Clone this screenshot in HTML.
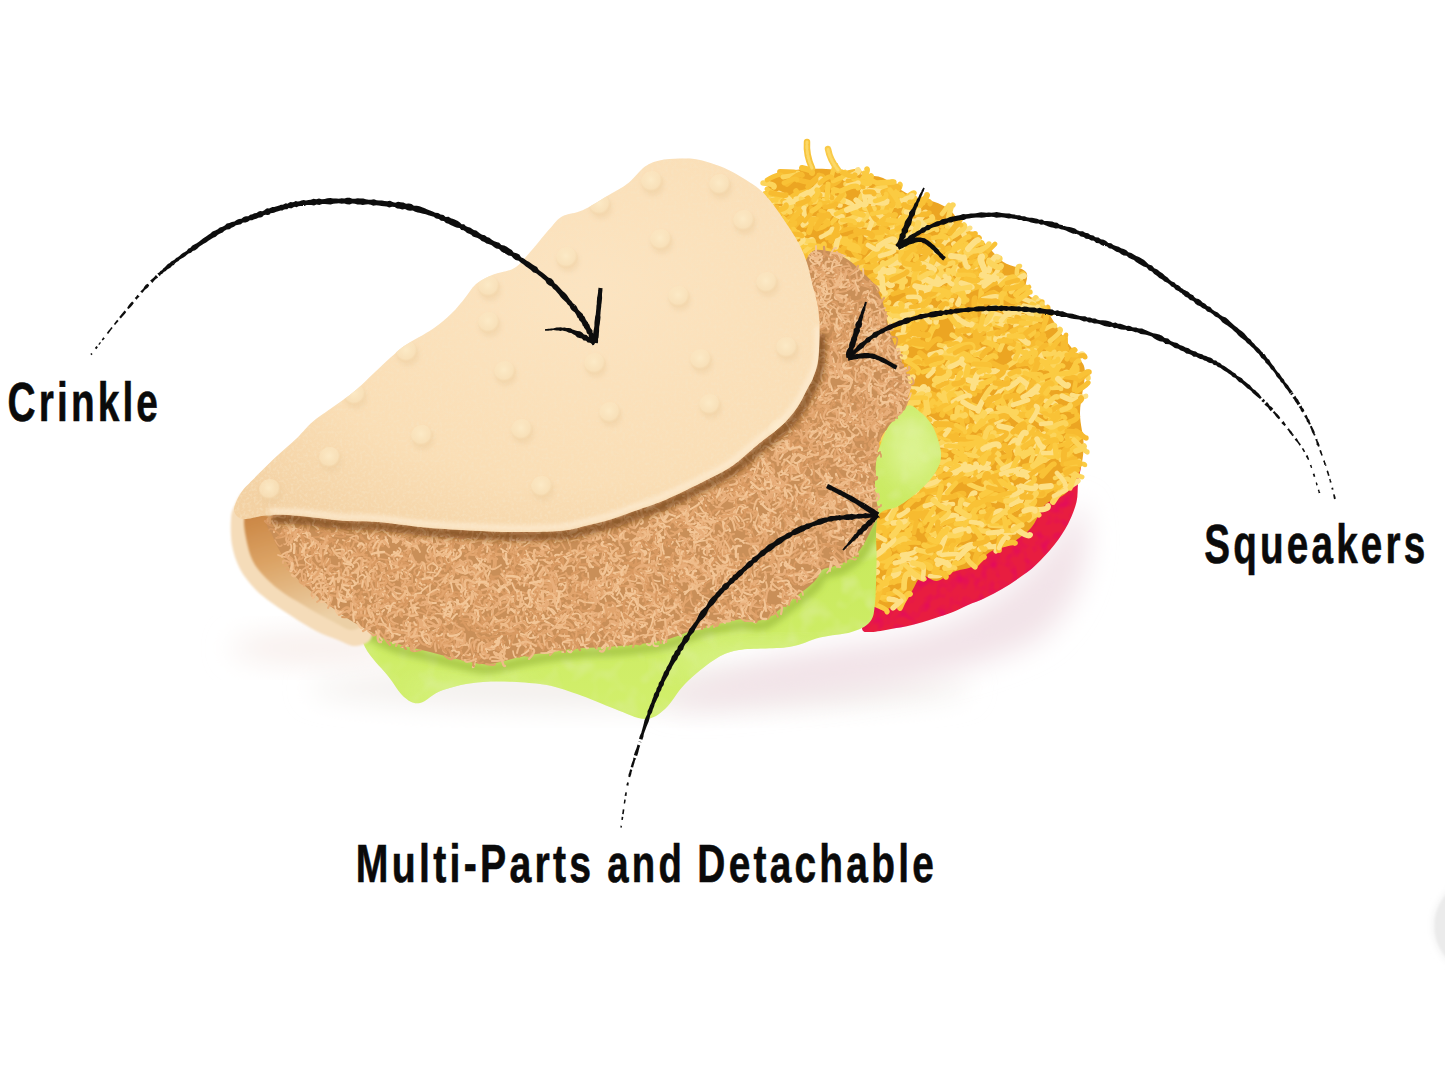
<!DOCTYPE html>
<html>
<head>
<meta charset="utf-8">
<style>
html,body{margin:0;padding:0;background:#fff;width:1445px;height:1066px;overflow:hidden}
svg{display:block;position:absolute;left:0;top:0}
</style>
</head>
<body>
<svg width="1445" height="1066" viewBox="0 0 1445 1066">
<defs>
  <filter id="blur2" x="-20%" y="-20%" width="140%" height="140%"><feGaussianBlur stdDeviation="2"/></filter>
  <filter id="blur3" x="-20%" y="-20%" width="140%" height="140%"><feGaussianBlur stdDeviation="3"/></filter>
  <filter id="soft" x="-5%" y="-5%" width="110%" height="110%"><feGaussianBlur stdDeviation="0.8"/></filter>
  <filter id="blur8" x="-30%" y="-50%" width="160%" height="200%"><feGaussianBlur stdDeviation="14"/></filter>
  <filter id="rough" x="-5%" y="-5%" width="110%" height="110%">
    <feTurbulence type="fractalNoise" baseFrequency="0.9" numOctaves="1" seed="2" result="n"/>
    <feDisplacementMap in="SourceGraphic" in2="n" scale="1.6" xChannelSelector="R" yChannelSelector="G"/>
  </filter>
  <filter id="pattyTex" x="0" y="0" width="100%" height="100%">
    <feTurbulence type="turbulence" baseFrequency="0.07 0.05" numOctaves="3" seed="7" result="n"/>
    <feColorMatrix in="n" type="matrix" values="0 0 0 0 0.56  0 0 0 0 0.33  0 0 0 0 0.13  2.2 0 0 0 -0.35" result="dark"/>
    <feTurbulence type="turbulence" baseFrequency="0.09 0.07" numOctaves="2" seed="19" result="n2"/>
    <feColorMatrix in="n2" type="matrix" values="0 0 0 0 0.89  0 0 0 0 0.68  0 0 0 0 0.44  2.0 0 0 0 -0.45" result="light"/>
    <feMerge result="m"><feMergeNode in="dark"/><feMergeNode in="light"/></feMerge>
    <feComposite in="m" in2="SourceAlpha" operator="in"/>
  </filter>
  <filter id="friesTex" x="0" y="0" width="100%" height="100%">
    <feTurbulence type="turbulence" baseFrequency="0.09 0.06" numOctaves="2" seed="11" result="n"/>
    <feColorMatrix in="n" type="matrix" values="0 0 0 0 0.90  0 0 0 0 0.62  0 0 0 0 0.10  2.0 0 0 0 -0.35" result="dark"/>
    <feTurbulence type="turbulence" baseFrequency="0.10 0.07" numOctaves="2" seed="23" result="n2"/>
    <feColorMatrix in="n2" type="matrix" values="0 0 0 0 0.99  0 0 0 0 0.88  0 0 0 0 0.55  2.2 0 0 0 -0.45" result="light"/>
    <feMerge result="m"><feMergeNode in="dark"/><feMergeNode in="light"/></feMerge>
    <feComposite in="m" in2="SourceAlpha" operator="in"/>
  </filter>
  <filter id="letTex" x="0" y="0" width="100%" height="100%">
    <feTurbulence type="fractalNoise" baseFrequency="0.05" numOctaves="2" seed="5" result="n"/>
    <feColorMatrix in="n" type="matrix" values="0 0 0 0 0.70  0 0 0 0 0.85  0 0 0 0 0.30  1.6 0 0 0 -0.75" result="c"/>
    <feComposite in="c" in2="SourceAlpha" operator="in"/>
  </filter>
  <filter id="redTex" x="0" y="0" width="100%" height="100%">
    <feTurbulence type="fractalNoise" baseFrequency="0.08" numOctaves="2" seed="9" result="n"/>
    <feColorMatrix in="n" type="matrix" values="0 0 0 0 0.75  0 0 0 0 0.0  0 0 0 0 0.15  1.6 0 0 0 -0.7" result="c"/>
    <feComposite in="c" in2="SourceAlpha" operator="in"/>
  </filter>
  <radialGradient id="flapG" cx="0.6" cy="0.35" r="0.8">
    <stop offset="0" stop-color="#fce4c1"/>
    <stop offset="0.65" stop-color="#fadeb5"/>
    <stop offset="1" stop-color="#f3d1a3"/>
  </radialGradient>
  <filter id="fabric" x="0" y="0" width="100%" height="100%">
    <feTurbulence type="fractalNoise" baseFrequency="0.35" numOctaves="2" seed="4" result="n"/>
    <feColorMatrix in="n" type="matrix" values="0 0 0 0 0.93  0 0 0 0 0.78  0 0 0 0 0.55  1.4 0 0 0 -0.62" result="c"/>
    <feComposite in="c" in2="SourceAlpha" operator="in"/>
  </filter>
  <radialGradient id="bumpG" cx="0.45" cy="0.4" r="0.6">
    <stop offset="0" stop-color="#fdecc9" stop-opacity="0.9"/>
    <stop offset="0.7" stop-color="#fbe6c0" stop-opacity="0.6"/>
    <stop offset="1" stop-color="#ecc996" stop-opacity="0.0"/>
  </radialGradient>
  <clipPath id="letClip"><path d="M356.0,621.0 C354.7,626.8 359.7,634.3 362.0,640.0 C364.3,645.7 365.7,649.0 370.0,655.0 C374.3,661.0 382.3,669.0 388.0,676.0 C393.7,683.0 398.7,692.5 404.0,697.0 C409.3,701.5 413.5,704.2 420.0,703.0 C426.5,701.8 432.5,693.5 443.0,690.0 C453.5,686.5 466.8,683.0 483.0,682.0 C499.2,681.0 524.3,682.0 540.0,684.0 C555.7,686.0 564.5,689.8 577.0,694.0 C589.5,698.2 603.7,704.8 615.0,709.0 C626.3,713.2 636.7,719.0 645.0,719.0 C653.3,719.0 658.3,714.8 665.0,709.0 C671.7,703.2 676.8,692.2 685.0,684.0 C693.2,675.8 705.0,665.7 714.0,660.0 C723.0,654.3 726.5,652.2 739.0,650.0 C751.5,647.8 775.5,649.1 789.0,647.0 C802.5,644.9 809.6,640.0 820.0,637.5 C830.4,635.0 843.2,634.6 851.5,632.0 C859.8,629.4 866.1,626.5 870.0,621.7 C873.9,616.9 873.9,612.6 875.0,603.0 C876.1,593.4 876.0,578.3 876.5,564.0 C877.0,549.7 874.3,526.7 878.0,517.0 C881.7,507.3 891.8,510.5 898.8,506.0 C905.8,501.5 913.9,495.7 920.0,490.0 C926.1,484.3 932.1,478.1 935.6,472.0 C939.1,465.9 941.4,461.1 941.0,453.6 C940.6,446.1 936.5,433.9 933.0,427.0 C929.5,420.1 924.4,415.5 920.0,412.0 C915.6,408.5 912.0,403.5 906.7,406.0 C901.4,408.5 895.0,414.7 888.0,427.0 C881.0,439.3 876.3,461.2 865.0,480.0 C853.7,498.8 840.8,521.7 820.0,540.0 C799.2,558.3 776.7,577.5 740.0,590.0 C703.3,602.5 648.3,611.3 600.0,615.0 C551.7,618.7 488.3,613.7 450.0,612.0 C411.7,610.3 385.7,603.5 370.0,605.0 C354.3,606.5 357.3,615.2 356.0,621.0 Z"/></clipPath>
  <clipPath id="friesClip"><path d="M766.6,189.0 C768.1,185.1 768.3,182.0 770.8,179.5 C773.3,177.0 777.6,175.6 781.8,174.0 C785.9,172.4 791.0,170.8 795.7,170.0 C800.4,169.2 805.0,169.2 810.0,169.0 C815.0,168.8 820.3,168.7 826.0,169.0 C831.7,169.3 837.5,170.0 844.0,171.0 C850.5,172.0 858.5,173.8 865.0,175.0 C871.5,176.2 876.8,175.4 883.0,178.0 C889.2,180.6 896.5,187.3 902.0,190.6 C907.5,193.8 910.7,195.7 916.0,197.5 C921.3,199.3 928.3,199.6 934.0,201.7 C939.7,203.8 945.2,205.9 950.0,210.0 C954.8,214.1 957.5,220.8 963.0,226.0 C968.5,231.2 976.3,235.6 983.0,241.5 C989.7,247.4 995.8,256.6 1003.0,261.7 C1010.2,266.8 1022.2,266.9 1026.0,272.0 C1029.8,277.1 1023.0,286.2 1026.0,292.0 C1029.0,297.8 1037.5,299.4 1043.8,307.0 C1050.1,314.6 1058.1,329.3 1064.0,337.8 C1069.9,346.3 1075.5,352.1 1079.0,358.0 C1082.5,363.9 1084.8,363.9 1085.0,373.0 C1085.2,382.1 1080.2,400.2 1080.0,412.5 C1079.8,424.8 1084.0,435.9 1083.7,446.7 C1083.4,457.4 1081.1,469.1 1078.0,477.0 C1074.9,484.9 1070.5,489.3 1065.0,494.0 C1059.5,498.7 1050.7,499.3 1045.0,505.0 C1039.3,510.7 1036.8,521.5 1031.0,528.0 C1025.2,534.5 1016.8,540.0 1010.0,544.0 C1003.2,548.0 996.0,548.3 990.0,552.0 C984.0,555.7 980.2,562.7 974.0,566.0 C967.8,569.3 959.2,569.5 953.0,572.0 C946.8,574.5 942.2,580.3 937.0,581.0 C931.8,581.7 926.2,574.3 922.0,576.0 C917.8,577.7 915.0,586.3 912.0,591.0 C909.0,595.7 907.5,601.2 904.0,604.0 C900.5,606.8 895.3,607.7 891.0,608.0 C886.7,608.3 881.2,614.0 878.0,606.0 C874.8,598.0 872.5,581.0 872.0,560.0 C871.5,539.0 877.0,510.0 875.0,480.0 C873.0,450.0 871.2,410.0 860.0,380.0 C848.8,350.0 821.3,323.3 808.0,300.0 C794.7,276.7 787.7,256.2 780.0,240.0 C772.3,223.8 764.2,211.5 762.0,203.0 C759.8,194.5 765.1,192.9 766.6,189.0 Z"/></clipPath>
  <clipPath id="pattyClip"><path d="M270.0,518.0 C262.2,524.2 270.5,530.0 273.0,537.0 C275.5,544.0 281.3,553.5 285.0,560.0 C288.7,566.5 290.5,570.7 295.0,576.0 C299.5,581.3 306.2,587.0 312.0,592.0 C317.8,597.0 322.6,600.7 330.0,606.0 C337.4,611.3 346.3,618.0 356.6,624.0 C366.9,630.0 379.8,637.3 392.0,642.0 C404.2,646.7 417.7,648.8 430.0,652.0 C442.3,655.2 456.2,659.0 466.0,661.0 C475.8,663.0 479.2,664.8 489.0,664.0 C498.8,663.2 511.2,658.5 525.0,656.0 C538.8,653.5 556.3,650.7 572.0,649.0 C587.7,647.3 603.6,647.5 619.0,646.0 C634.4,644.5 650.8,643.2 664.6,640.0 C678.4,636.8 689.6,630.4 702.0,627.0 C714.4,623.6 728.7,620.8 739.0,619.6 C749.3,618.4 755.7,622.5 764.0,619.6 C772.3,616.7 780.7,608.3 789.0,602.0 C797.3,595.7 808.5,587.3 814.0,582.0 C819.5,576.7 817.5,573.0 822.0,570.0 C826.5,567.0 834.8,567.2 841.0,564.0 C847.2,560.8 853.8,557.2 859.0,551.0 C864.2,544.8 869.3,533.7 872.5,527.0 C875.7,520.3 877.6,517.2 878.0,511.0 C878.4,504.8 875.0,500.5 875.0,490.0 C875.0,479.5 875.6,458.5 877.8,448.0 C880.0,437.5 883.5,433.7 888.0,427.0 C892.5,420.3 901.5,414.2 905.0,408.0 C908.5,401.8 908.5,395.5 908.8,390.0 C909.1,384.5 908.3,380.0 907.0,375.0 C905.7,370.0 903.2,365.3 901.0,360.0 C898.8,354.7 896.0,348.9 893.8,343.0 C891.6,337.1 889.9,331.2 888.0,324.4 C886.1,317.6 885.0,308.9 882.5,302.0 C880.0,295.1 876.4,288.0 873.0,283.0 C869.6,278.0 866.3,276.0 862.0,272.0 C857.7,268.0 852.7,262.5 847.0,259.0 C841.3,255.5 834.3,251.7 828.0,251.0 C821.7,250.3 814.5,246.8 809.0,255.0 C803.5,263.2 799.8,275.8 795.0,300.0 C790.2,324.2 792.5,373.3 780.0,400.0 C767.5,426.7 743.3,443.3 720.0,460.0 C696.7,476.7 670.0,491.3 640.0,500.0 C610.0,508.7 576.7,511.2 540.0,512.0 C503.3,512.8 456.7,507.0 420.0,505.0 C383.3,503.0 345.0,497.8 320.0,500.0 C295.0,502.2 277.8,511.8 270.0,518.0 Z"/></clipPath>
  <clipPath id="flapClip"><path d="M246.0,519.0 C240.7,519.3 240.0,518.5 238.0,517.0 C236.0,515.5 234.2,512.8 234.0,510.0 C233.8,507.2 235.5,503.3 237.0,500.0 C238.5,496.7 240.4,493.3 243.0,490.0 C245.6,486.7 247.2,485.4 252.5,480.0 C257.8,474.6 267.5,464.8 275.0,457.7 C282.5,450.6 291.3,443.4 297.6,437.4 C303.9,431.4 306.3,427.2 313.0,421.6 C319.7,416.0 330.8,408.9 338.0,403.6 C345.2,398.3 350.0,395.1 356.0,390.0 C362.0,384.9 368.0,378.6 374.0,373.0 C380.0,367.4 386.7,361.0 392.0,356.3 C397.3,351.6 398.9,349.6 405.7,345.0 C412.5,340.4 425.0,334.3 432.7,329.0 C440.4,323.7 446.6,318.2 452.0,313.0 C457.4,307.8 461.0,302.8 465.0,298.0 C469.0,293.2 471.3,287.9 476.0,284.0 C480.7,280.1 487.1,277.2 493.4,274.6 C499.7,272.0 508.1,271.8 514.0,268.3 C519.9,264.8 522.8,260.4 528.7,253.8 C534.6,247.2 544.0,235.2 549.5,229.0 C555.0,222.8 556.5,219.5 562.0,216.4 C567.5,213.3 575.1,213.6 582.7,210.2 C590.3,206.8 600.0,200.2 607.6,195.7 C615.2,191.2 622.2,187.8 628.4,183.0 C634.6,178.2 639.8,170.4 645.0,166.6 C650.2,162.8 653.7,161.8 659.5,160.4 C665.3,159.1 673.2,158.6 680.0,158.5 C686.8,158.4 692.0,158.1 700.0,160.0 C708.0,161.9 718.7,165.3 728.0,169.7 C737.3,174.1 749.0,181.4 756.0,186.6 C763.0,191.8 765.3,195.0 770.0,200.6 C774.7,206.2 779.3,213.0 784.0,220.0 C788.7,227.0 794.6,235.7 798.4,242.8 C802.2,249.9 804.5,255.5 806.9,262.5 C809.2,269.5 810.6,277.5 812.5,285.0 C814.4,292.5 816.8,299.5 818.0,307.5 C819.2,315.5 819.5,323.9 819.5,332.8 C819.5,341.7 819.1,353.5 818.0,361.0 C816.9,368.5 814.7,373.5 813.0,378.0 C811.3,382.5 810.2,383.5 807.8,388.0 C805.4,392.5 802.2,399.7 798.8,405.0 C795.4,410.3 791.6,415.2 787.5,419.7 C783.4,424.2 778.7,428.1 774.0,432.0 C769.3,435.9 765.1,438.6 759.4,443.3 C753.7,448.0 745.2,455.8 740.0,460.0 C734.8,464.2 733.1,465.6 728.0,468.7 C722.9,471.8 716.7,474.9 709.5,478.6 C702.3,482.3 692.9,487.1 684.6,491.0 C676.3,494.9 668.0,499.0 659.7,502.3 C651.4,505.6 643.0,508.1 634.7,511.0 C626.4,513.9 618.1,517.3 609.8,519.8 C601.5,522.3 593.3,524.1 585.0,526.0 C576.7,527.9 572.7,530.0 560.0,531.0 C547.3,532.0 526.3,532.2 509.0,532.0 C491.7,531.8 470.8,530.5 456.0,529.7 C441.2,528.9 433.0,528.3 420.0,527.0 C407.0,525.7 390.9,523.0 378.0,522.0 C365.1,521.0 355.6,521.7 342.6,520.7 C329.6,519.7 312.1,517.0 300.0,516.0 C287.9,515.0 279.0,514.5 270.0,515.0 C261.0,515.5 251.3,518.7 246.0,519.0 Z"/></clipPath>
  <linearGradient id="cavG" x1="0" y1="0" x2="0.3" y2="1">
    <stop offset="0" stop-color="#c98442"/>
    <stop offset="0.45" stop-color="#dca466"/>
    <stop offset="1" stop-color="#ecd0a6"/>
  </linearGradient>
  <linearGradient id="letG" x1="0" y1="0" x2="0" y2="1">
    <stop offset="0" stop-color="#cdec68"/>
    <stop offset="0.5" stop-color="#c9ea5e"/>
    <stop offset="1" stop-color="#d2ef6c"/>
  </linearGradient>
</defs>

<!-- shadow -->
<ellipse cx="640" cy="688" rx="330" ry="20" fill="#f3efec" filter="url(#blur8)"/>
<path d="M660,702 C720,668 800,652 870,642 C950,632 1030,595 1080,500 C1095,545 1085,600 1040,638 C980,672 880,688 790,698 C730,704 690,710 660,702 Z" fill="#f2e3e8" filter="url(#blur8)"/>
<ellipse cx="320" cy="648" rx="90" ry="16" fill="#f8efec" filter="url(#blur8)"/>

<path fill="#e81d40" d="M1050.0,428.0 C1061.2,422.7 1071.6,426.2 1077.0,428.0 C1082.4,429.8 1081.7,432.8 1082.4,439.0 C1083.1,445.2 1081.7,457.6 1081.0,465.0 C1080.3,472.4 1078.8,477.4 1078.0,483.6 C1077.2,489.8 1078.2,495.3 1076.5,502.0 C1074.8,508.7 1071.7,516.9 1068.0,524.0 C1064.3,531.1 1059.9,537.7 1054.6,544.5 C1049.3,551.3 1041.9,559.1 1036.0,564.7 C1030.1,570.3 1024.7,574.0 1019.0,578.0 C1013.3,582.0 1007.7,585.7 1002.0,589.0 C996.3,592.3 990.7,595.3 985.0,598.0 C979.3,600.7 973.3,602.7 968.0,605.0 C962.7,607.3 958.9,609.7 953.0,612.0 C947.1,614.3 939.3,616.8 932.5,619.0 C925.7,621.2 918.9,623.3 912.0,625.0 C905.1,626.7 897.9,627.8 891.0,629.0 C884.1,630.2 875.4,632.2 870.6,632.0 C865.8,631.8 862.8,633.3 862.0,628.0 C861.2,622.7 859.7,611.3 866.0,600.0 C872.3,588.7 884.3,575.0 900.0,560.0 C915.7,545.0 941.7,526.7 960.0,510.0 C978.3,493.3 995.0,473.7 1010.0,460.0 C1025.0,446.3 1038.8,433.3 1050.0,428.0 Z"/>
<path fill="#e81d40" d="M1050.0,428.0 C1061.2,422.7 1071.6,426.2 1077.0,428.0 C1082.4,429.8 1081.7,432.8 1082.4,439.0 C1083.1,445.2 1081.7,457.6 1081.0,465.0 C1080.3,472.4 1078.8,477.4 1078.0,483.6 C1077.2,489.8 1078.2,495.3 1076.5,502.0 C1074.8,508.7 1071.7,516.9 1068.0,524.0 C1064.3,531.1 1059.9,537.7 1054.6,544.5 C1049.3,551.3 1041.9,559.1 1036.0,564.7 C1030.1,570.3 1024.7,574.0 1019.0,578.0 C1013.3,582.0 1007.7,585.7 1002.0,589.0 C996.3,592.3 990.7,595.3 985.0,598.0 C979.3,600.7 973.3,602.7 968.0,605.0 C962.7,607.3 958.9,609.7 953.0,612.0 C947.1,614.3 939.3,616.8 932.5,619.0 C925.7,621.2 918.9,623.3 912.0,625.0 C905.1,626.7 897.9,627.8 891.0,629.0 C884.1,630.2 875.4,632.2 870.6,632.0 C865.8,631.8 862.8,633.3 862.0,628.0 C861.2,622.7 859.7,611.3 866.0,600.0 C872.3,588.7 884.3,575.0 900.0,560.0 C915.7,545.0 941.7,526.7 960.0,510.0 C978.3,493.3 995.0,473.7 1010.0,460.0 C1025.0,446.3 1038.8,433.3 1050.0,428.0 Z" filter="url(#redTex)"/>
<path fill="#eca522" d="M766.6,189.0 C768.1,185.1 768.3,182.0 770.8,179.5 C773.3,177.0 777.6,175.6 781.8,174.0 C785.9,172.4 791.0,170.8 795.7,170.0 C800.4,169.2 805.0,169.2 810.0,169.0 C815.0,168.8 820.3,168.7 826.0,169.0 C831.7,169.3 837.5,170.0 844.0,171.0 C850.5,172.0 858.5,173.8 865.0,175.0 C871.5,176.2 876.8,175.4 883.0,178.0 C889.2,180.6 896.5,187.3 902.0,190.6 C907.5,193.8 910.7,195.7 916.0,197.5 C921.3,199.3 928.3,199.6 934.0,201.7 C939.7,203.8 945.2,205.9 950.0,210.0 C954.8,214.1 957.5,220.8 963.0,226.0 C968.5,231.2 976.3,235.6 983.0,241.5 C989.7,247.4 995.8,256.6 1003.0,261.7 C1010.2,266.8 1022.2,266.9 1026.0,272.0 C1029.8,277.1 1023.0,286.2 1026.0,292.0 C1029.0,297.8 1037.5,299.4 1043.8,307.0 C1050.1,314.6 1058.1,329.3 1064.0,337.8 C1069.9,346.3 1075.5,352.1 1079.0,358.0 C1082.5,363.9 1084.8,363.9 1085.0,373.0 C1085.2,382.1 1080.2,400.2 1080.0,412.5 C1079.8,424.8 1084.0,435.9 1083.7,446.7 C1083.4,457.4 1081.1,469.1 1078.0,477.0 C1074.9,484.9 1070.5,489.3 1065.0,494.0 C1059.5,498.7 1050.7,499.3 1045.0,505.0 C1039.3,510.7 1036.8,521.5 1031.0,528.0 C1025.2,534.5 1016.8,540.0 1010.0,544.0 C1003.2,548.0 996.0,548.3 990.0,552.0 C984.0,555.7 980.2,562.7 974.0,566.0 C967.8,569.3 959.2,569.5 953.0,572.0 C946.8,574.5 942.2,580.3 937.0,581.0 C931.8,581.7 926.2,574.3 922.0,576.0 C917.8,577.7 915.0,586.3 912.0,591.0 C909.0,595.7 907.5,601.2 904.0,604.0 C900.5,606.8 895.3,607.7 891.0,608.0 C886.7,608.3 881.2,614.0 878.0,606.0 C874.8,598.0 872.5,581.0 872.0,560.0 C871.5,539.0 877.0,510.0 875.0,480.0 C873.0,450.0 871.2,410.0 860.0,380.0 C848.8,350.0 821.3,323.3 808.0,300.0 C794.7,276.7 787.7,256.2 780.0,240.0 C772.3,223.8 764.2,211.5 762.0,203.0 C759.8,194.5 765.1,192.9 766.6,189.0 Z"/>
<g fill="none" stroke-linecap="round"><path stroke="#f7bb30" stroke-width="4.8" d="M939,452Q955,448 953,444M977,388Q985,382 984,382M1066,350Q1065,335 1066,335M998,445Q999,431 998,431M930,554Q939,569 937,569M810,264Q827,262 827,263M1023,387Q1035,384 1035,384M1003,434Q1019,438 1019,439M789,233Q800,219 802,221M912,564Q922,570 923,566M1056,490Q1073,486 1071,482M1038,348Q1043,338 1045,339M1055,347Q1067,352 1067,349M910,210Q914,201 916,203M986,278Q1002,287 1003,281M926,403Q940,392 941,394M883,568Q897,563 898,564M884,529Q897,527 897,530M983,438Q997,433 996,433M922,199Q932,201 930,204M866,428Q877,425 878,426M948,533Q961,528 961,527M1020,388Q1025,378 1027,380"/><path stroke="#f7bb30" stroke-width="5.2" d="M966,438Q976,448 978,445M875,437Q884,448 886,445M909,565Q921,565 920,562M993,284Q999,271 1000,271M894,549Q905,541 906,542M862,404Q878,411 876,414M861,294Q869,311 870,310M873,539Q888,537 888,535M972,464Q988,464 987,468M1047,366Q1054,351 1053,350M866,297Q874,291 874,291M892,413Q906,406 906,410M903,327Q912,319 912,319M979,335Q989,328 988,327M996,488Q1005,482 1006,484M988,381Q998,375 996,373M911,447Q922,444 920,442"/><path stroke="#f9c236" stroke-width="5.9" d="M922,564Q936,571 937,567M835,333Q822,323 825,320M905,335Q914,321 910,320M865,374Q877,362 877,361M991,436Q1005,431 1006,434M946,483Q959,475 959,479M864,328Q880,321 879,320M832,335Q844,333 842,329M874,418Q889,408 888,407M974,267Q990,275 990,272M788,250Q797,252 797,252M829,251Q843,259 844,256M892,225Q893,214 895,215M894,582Q907,569 902,566M1032,393Q1050,393 1048,399M894,406Q905,411 904,413M906,507Q916,496 918,499M903,372Q914,366 913,365M805,225Q812,219 813,219M878,252Q891,253 890,257M950,413Q949,401 952,402M1038,407Q1042,397 1044,400"/><path stroke="#f9c236" stroke-width="6.0" d="M939,474Q941,464 944,465M994,293Q1004,299 1005,295M1029,493Q1043,497 1043,494M999,467Q1011,465 1009,462M966,291Q978,286 978,286M802,168Q813,170 812,173M1035,493Q1045,491 1044,494"/><path stroke="#f9c236" stroke-width="5.3" d="M875,463Q884,450 885,451M981,416Q994,406 992,405M1012,313Q1018,304 1019,305M885,461Q899,459 898,457M915,570Q929,559 931,563M925,493Q932,480 935,483M835,292Q845,295 845,296M888,507Q897,503 897,502M770,217Q785,210 786,213M1062,424Q1080,420 1077,415M1015,471Q1016,460 1018,461M877,495Q888,493 887,496M874,461Q886,462 886,460M833,235Q844,240 844,239M796,209Q802,201 801,201M1003,321Q1015,313 1013,311M1044,434Q1055,426 1056,429M945,551Q957,554 956,556M936,293Q945,289 944,288M914,422Q932,420 932,421M905,247Q920,244 920,245M1043,448Q1051,436 1052,437M1042,456Q1059,450 1056,445M872,517Q885,527 886,524M885,322Q894,319 894,322"/><path stroke="#f7bb30" stroke-width="5.8" d="M880,475Q895,468 895,469M970,354Q977,345 978,347M891,576Q908,571 908,571M980,468Q994,463 992,460M965,234Q975,235 975,234M901,302Q912,294 913,298M844,248Q854,243 854,243M780,172Q798,172 798,174M1010,413Q1020,411 1020,413M883,227Q893,220 894,221M900,550Q912,537 914,539M809,185Q820,176 821,177M888,244Q904,246 904,243M864,373Q872,381 872,380M909,325Q924,325 923,329M939,242Q949,240 949,239M922,298Q935,291 934,289M954,541Q970,538 969,536M810,299Q826,292 824,290"/><path stroke="#fcd55c" stroke-width="5.5" d="M774,208Q790,210 790,212M880,377Q892,377 892,375M907,445Q921,441 921,440M947,393Q962,395 961,393M838,277Q849,276 849,277M785,206Q790,198 790,198M844,353Q862,350 862,354M916,269Q931,261 927,257M941,271Q938,255 940,255M872,384Q889,387 888,383M852,260Q863,262 862,264M1028,310Q1035,297 1036,298M945,568Q951,556 951,556M912,481Q918,469 916,469M1067,437Q1077,433 1077,435M914,344Q914,332 918,333M873,245Q883,244 882,241M763,183Q775,184 774,187M954,379Q970,375 970,374M968,379Q983,373 982,371M823,329Q833,324 831,322M879,528Q892,519 893,520M990,525Q1004,526 1004,526M874,222Q884,224 884,223"/><path stroke="#fde086" stroke-width="5.7" d="M880,435Q895,431 895,430M1054,451Q1057,440 1056,440M973,479Q978,469 977,469M941,524Q952,513 954,516M892,447Q906,452 906,448M1050,416Q1058,411 1058,410M990,313Q1002,316 1001,317M954,244Q962,254 963,253M912,315Q929,311 928,309M1016,451Q1029,448 1028,446M946,280Q956,268 957,269M892,316Q896,302 900,304M1033,510Q1049,510 1048,506M860,226Q864,214 865,214M933,492Q946,501 946,500M836,287Q836,275 838,275M974,474Q987,462 988,463M993,384Q1003,374 1005,378M802,246Q812,239 812,240M849,287Q861,281 860,280M987,399Q996,400 996,399M1034,310Q1039,301 1039,301M994,282Q1006,281 1005,279M938,564Q953,555 954,558M829,201Q840,204 840,205M995,484Q1011,485 1011,485M922,252Q932,243 933,245M931,289Q941,280 938,278M879,273Q889,288 892,285M876,276Q890,276 890,274M799,269Q812,275 812,275M1065,489Q1078,482 1078,481M972,272Q985,277 985,273M950,447Q967,441 967,441"/><path stroke="#fcd55c" stroke-width="4.5" d="M858,206Q861,192 864,194M866,218Q875,213 875,212M1014,531Q1022,523 1020,522M1031,463Q1033,452 1036,454M1055,478Q1069,472 1069,473M873,433Q879,421 875,420M1023,321Q1037,312 1036,311M1017,279Q1016,265 1020,266M900,538Q910,542 910,542M1010,376Q1021,368 1022,372M877,306Q890,305 889,302M879,405Q890,408 888,410M954,292Q962,280 964,281M886,458Q900,458 899,460M1012,432Q1023,437 1022,438M888,207Q900,204 900,206M859,311Q867,302 866,301M900,478Q912,469 913,471M951,275Q956,264 956,264M884,246Q900,239 901,240"/><path stroke="#fcd55c" stroke-width="5.9" d="M931,362Q941,370 942,367M888,489Q905,491 904,495M864,335Q879,335 879,336M1003,336Q1016,332 1016,335M796,202Q806,207 806,204M973,352Q986,357 986,358M922,510Q933,512 933,513M968,391Q977,389 977,388M994,339Q987,324 992,323M1036,464Q1043,453 1042,453M822,203Q828,195 830,197M882,230Q898,238 899,233M1053,502Q1061,489 1063,491M911,404Q922,394 922,395M903,527Q915,515 912,514M932,533Q950,529 949,527M898,234Q913,235 912,238M872,215Q884,207 884,207M858,334Q858,324 861,325M935,380Q944,374 943,373M914,317Q924,308 924,308M874,262Q880,252 881,252"/><path stroke="#f9c236" stroke-width="5.1" d="M992,377Q1005,385 1003,387M1057,437Q1059,424 1060,424M899,404Q908,398 908,397M919,481Q926,467 926,467M993,324Q1004,327 1004,327M967,465Q976,470 975,471M879,383Q890,396 892,392M886,426Q893,419 893,420M1067,359Q1073,348 1075,350M898,195Q910,199 911,196M808,293Q818,284 818,284M965,362Q976,359 976,362M964,469Q978,473 976,476M880,381Q892,369 894,373M978,340Q992,336 992,339M893,444Q902,438 902,438M1020,416Q1032,414 1032,414M945,296Q951,282 951,282M1011,400Q1023,403 1023,404M891,341Q909,343 908,345M944,429Q960,438 958,439M899,543Q908,549 908,548M826,203Q841,200 841,201M885,398Q899,399 898,395M903,435Q916,432 916,435M918,510Q929,503 929,503M875,442Q891,437 891,441M948,275Q954,282 954,282"/><path stroke="#fde086" stroke-width="5.1" d="M923,292Q933,277 928,276M864,280Q874,284 874,282M1046,401Q1057,403 1056,406M803,225Q814,217 815,219M968,506Q971,492 975,493M935,523Q945,522 944,519M910,237Q923,226 923,226M928,455Q929,440 932,441M965,529Q977,525 976,523M1035,446Q1042,432 1045,434M1010,500Q1008,491 1011,491M927,259Q938,265 938,265M1040,412Q1053,412 1053,410M915,443Q927,442 927,440M1014,320Q1024,315 1024,317M957,231Q970,229 970,228M1018,487Q1029,490 1028,486M968,320Q978,332 980,330M890,576Q897,567 899,570M895,281Q892,265 897,266"/><path stroke="#f9c236" stroke-width="5.4" d="M999,306Q1013,317 1015,312M1042,476Q1053,463 1054,464M968,474Q974,466 975,467M869,512Q885,509 885,510M1042,494Q1057,484 1059,487M866,246Q879,248 878,245M966,429Q981,425 979,422M1027,384Q1041,390 1042,389M867,373Q878,364 879,367M910,401Q926,396 927,398M1030,305Q1042,304 1042,302M960,275Q967,265 969,268M982,376Q993,374 992,372M952,427Q965,432 965,431M869,244Q880,251 881,249M809,269Q817,275 818,272M922,491Q939,493 939,492M1057,397Q1068,394 1068,397M836,299Q845,294 845,294M792,246Q808,250 807,252M796,213Q801,204 801,204M1005,335Q1017,330 1016,329M882,202Q888,191 891,194M888,594Q903,592 902,590M1031,470Q1043,472 1043,469M1040,346Q1035,334 1038,334M1060,457Q1073,455 1072,458"/><path stroke="#f9c236" stroke-width="5.6" d="M1026,354Q1031,370 1035,367M914,512Q931,517 931,514M942,415Q948,400 946,399M813,270Q826,274 827,272M932,263Q940,249 942,251M870,277Q885,271 884,269M856,345Q863,337 863,338M960,271Q977,271 975,277M920,468Q928,463 928,464M903,257Q914,245 914,245M1006,298Q1014,303 1015,301M843,308Q839,294 843,294M888,405Q900,410 900,407M1022,475Q1038,468 1037,466M915,399Q923,393 924,394M1019,451Q1027,442 1029,446M998,546Q1014,541 1015,543M885,470Q903,469 902,465M958,420Q961,407 961,407M893,515Q906,516 906,515M918,398Q931,390 932,395M1044,368Q1053,362 1054,362M896,436Q913,431 913,429M1024,404Q1039,398 1037,395M973,517Q987,517 986,514"/><path stroke="#fbcb42" stroke-width="5.7" d="M947,402Q953,386 956,387M1046,393Q1052,382 1055,385M788,224Q797,234 798,233M943,231Q958,230 957,227M901,289Q916,291 916,287M907,360Q922,363 922,363M926,298Q940,293 941,294M892,273Q898,265 897,264M1068,445Q1076,438 1077,439M875,533Q888,527 889,528M993,474Q1009,470 1006,466M928,314Q938,313 938,312M897,502Q903,493 900,492M898,327Q908,322 909,324M899,543Q893,533 894,532M900,608Q907,591 910,594M873,555Q889,553 888,550M966,403Q983,409 981,412M864,182Q872,177 871,176M765,194Q778,198 778,194M900,202Q914,195 915,199M961,416Q967,408 966,407M964,397Q978,390 977,389M1049,358Q1048,345 1051,345M1068,454Q1076,445 1078,446M941,552Q951,557 952,555M940,499Q950,497 949,496M1046,416Q1056,406 1056,406M865,342Q881,343 881,343M887,329Q899,317 894,314"/><path stroke="#fbcb42" stroke-width="5.9" d="M928,340Q933,324 937,326M992,523Q1009,524 1009,522M876,235Q885,244 887,241M1058,457Q1067,450 1067,450M1027,510Q1036,502 1034,500M981,304Q981,290 982,290M1019,391Q1026,377 1028,379M931,441Q945,433 946,434M1051,431Q1064,433 1064,429M882,481Q893,481 893,479M914,563Q932,564 930,568M873,301Q887,307 883,311M881,436Q886,449 890,446M1028,346Q1037,353 1038,350M965,519Q975,516 975,518M959,474Q969,474 969,473M958,288Q977,285 974,280M823,296Q840,299 837,303M1026,467Q1036,468 1036,466M869,237Q882,236 882,235M976,417Q989,425 990,421"/><path stroke="#f9c236" stroke-width="4.6" d="M767,180Q781,172 782,176M911,520Q925,529 922,531M933,324Q937,305 943,309M1074,390Q1078,373 1075,373M894,518Q905,513 905,513M816,193Q824,184 826,188M889,583Q903,580 903,581M1030,392Q1041,385 1038,382M961,369Q976,369 976,370M914,427Q924,418 924,418M967,275Q982,267 983,270M995,480Q1009,483 1009,485M982,443Q990,431 993,434M917,282Q918,269 921,270M952,419Q964,421 964,418M1009,537Q1014,523 1018,526M1015,294Q1029,287 1029,287M1068,434Q1078,435 1078,434M1024,466Q1037,464 1037,466M1057,425Q1069,426 1069,424M944,258Q956,264 957,262M983,256Q995,244 995,244M959,316Q961,306 963,307M813,266Q829,262 829,262"/><path stroke="#fde086" stroke-width="5.2" d="M921,303Q921,290 924,291M805,219Q803,208 804,208M949,355Q960,355 960,353M873,267Q877,258 878,258M842,282Q852,272 851,271M905,221Q920,221 919,221M947,518Q957,514 957,517M831,256Q848,260 848,259M840,199Q854,204 852,206M881,444Q893,436 890,434M930,419Q939,426 940,423M984,313Q995,305 995,306M960,379Q967,395 971,391M943,442Q944,429 948,431M996,551Q1005,536 1006,537M992,321Q1005,325 1005,325M956,343Q965,340 965,340M934,286Q950,279 949,278M863,210Q874,207 873,206M1010,492Q1024,487 1025,488M1036,453Q1049,441 1046,439M871,223Q881,214 882,214M1005,278Q1019,278 1018,281M930,539Q940,536 940,539"/><path stroke="#fcd55c" stroke-width="4.9" d="M903,260Q910,254 911,256M923,456Q933,455 932,452M978,477Q991,469 992,474M985,323Q993,317 994,321M1008,512Q1006,496 1008,495M905,426Q907,409 910,410M980,498Q997,499 996,496M1061,460Q1078,465 1079,461M917,457Q912,473 916,473M893,483Q899,468 897,467M828,305Q834,298 835,299M922,484Q933,478 933,478M1026,510Q1026,500 1029,501M955,531Q967,523 966,521M855,211Q867,202 868,202M883,265Q898,257 898,257M884,475Q895,465 897,467M1019,391Q1027,382 1027,382M1050,341Q1063,331 1060,329M913,212Q925,215 925,213M916,410Q928,406 927,404M946,353Q960,358 960,355"/><path stroke="#fcd55c" stroke-width="5.0" d="M904,313Q918,306 919,310M959,406Q973,414 972,415M840,343Q851,346 851,345M878,253Q886,246 884,245M1021,516Q1037,511 1036,509M925,401Q939,398 938,396M955,291Q962,277 965,279M989,325Q1000,321 999,319M964,253Q974,250 973,247M1029,392Q1045,383 1042,380M1070,473Q1082,477 1082,477M899,562Q916,569 916,564M1020,391Q1029,383 1030,386M938,425Q946,420 947,422M989,342Q989,331 989,331M953,446Q969,445 968,443M974,531Q988,522 987,521M850,265Q863,270 864,266M1004,470Q1013,471 1013,471M980,436Q996,435 994,431M895,591Q906,598 903,600M1010,405Q1017,396 1017,396M866,260Q874,252 874,252M867,313Q871,322 871,323M930,404Q941,397 940,396M943,389Q953,389 953,387M947,226Q958,227 958,224M905,265Q921,274 921,274M960,260Q975,252 973,250M942,276Q953,271 953,270M795,238Q804,234 804,234"/><path stroke="#fde086" stroke-width="5.4" d="M835,307Q849,296 851,301M999,534Q1014,531 1014,532M915,457Q926,456 925,459M1046,459Q1057,452 1057,452M1022,491Q1029,480 1032,483M936,322Q938,308 940,309M978,411Q984,394 989,397M969,333Q976,321 979,324M951,224Q966,234 964,235M1008,319Q1019,317 1018,314M922,518Q939,515 938,521M977,270Q992,278 990,281M865,311Q882,305 882,306M865,200Q863,184 867,185M1024,436Q1039,436 1038,432M898,335Q911,336 911,335M1014,416Q1028,410 1027,409M1062,396Q1076,403 1077,399M977,422Q988,408 991,411M902,564Q914,566 914,564M854,305Q854,295 856,296M890,265Q900,261 900,263"/><path stroke="#fde086" stroke-width="5.0" d="M850,340Q859,344 858,345M977,354Q984,348 985,349M896,459Q905,462 905,461M912,341Q919,334 920,335M834,337Q845,333 845,336M908,491Q917,478 919,480M767,216Q777,212 777,213M986,547Q1000,547 999,544M851,297Q851,285 851,285M850,227Q862,214 863,216M939,445Q957,446 955,451M1005,311Q1023,314 1022,308M901,388Q918,389 918,389M915,395Q930,392 928,389M1019,505Q1025,492 1026,492M920,309Q932,315 933,313M960,362Q972,372 974,368"/><path stroke="#fbcb42" stroke-width="5.8" d="M922,516Q934,522 935,519M967,321Q976,329 977,326M948,384Q964,383 964,386M822,248Q838,257 834,260M984,342Q1000,345 998,349M908,371Q916,355 920,358M901,389Q915,395 914,397M997,403Q1010,392 1007,390M882,308Q896,310 897,309M941,235Q949,240 950,239M899,540Q910,536 909,534M887,188Q895,198 897,194M941,549Q953,550 953,548M860,333Q867,343 870,340M935,404Q951,405 950,402M886,407Q898,399 897,398M966,509Q970,497 973,499M1049,425Q1053,413 1054,413"/><path stroke="#fbcb42" stroke-width="4.7" d="M900,347Q909,342 910,344M902,495Q914,484 912,483M1017,400Q1024,413 1026,411M974,374Q990,378 990,373M922,286Q922,270 925,271M1004,294Q1008,280 1012,282M814,219Q828,220 828,216M885,415Q895,410 894,408M1048,437Q1057,431 1056,429M975,355Q992,349 991,347M810,200Q819,201 819,199M1003,472Q1008,462 1008,462M960,469Q966,461 966,461M807,301Q808,291 810,292M833,189Q846,192 844,196M897,499Q899,488 900,489M841,344Q856,340 856,341M933,540Q945,543 946,542M1065,443Q1082,438 1081,436M874,523Q876,534 877,533M891,487Q906,482 904,479M923,448Q936,435 935,434M956,457Q967,462 968,460M833,205Q831,190 836,191M1028,362Q1030,353 1028,353M879,372Q891,361 892,363M820,264Q829,256 829,256M767,189Q778,197 776,199M1051,424Q1063,413 1065,418M884,268Q895,279 896,277M1032,309Q1043,305 1044,307M798,247Q808,247 808,247"/><path stroke="#fcd55c" stroke-width="5.6" d="M815,320Q831,312 828,309M950,551Q958,539 958,540M846,184Q863,185 863,187M878,368Q887,356 886,356M982,277Q996,278 996,276M809,197Q821,185 817,183M826,197Q844,199 843,201M889,406Q901,408 901,406M803,240Q813,243 813,241M803,289Q812,280 814,283M898,224Q907,220 906,218M975,428Q985,421 986,425M1041,354Q1054,354 1054,352M1055,368Q1063,351 1066,354M946,538Q949,526 953,528M1071,375Q1088,373 1088,378M949,363Q956,355 958,357M980,446Q996,438 996,438M953,236Q967,228 964,225"/><path stroke="#fbcb42" stroke-width="5.4" d="M887,217Q893,204 893,204M1017,280Q1023,273 1023,274M1012,320Q1020,327 1022,325M1047,368Q1057,368 1057,367M952,363Q962,355 963,357M1002,400Q1007,413 1009,412M1046,457Q1061,456 1060,452M1022,520Q1028,511 1029,512M999,498Q1016,502 1016,497M903,201Q913,192 914,193M1026,338Q1036,332 1033,330M770,192Q782,196 781,198M859,184Q869,171 867,169M947,541Q958,534 959,537M1009,486Q1002,470 1004,469M870,397Q881,399 881,398M1033,360Q1044,359 1044,362M866,260Q874,256 874,256M1025,409Q1036,415 1035,417M794,251Q801,244 801,244M897,394Q899,378 900,378M830,308Q844,315 845,311M958,257Q969,246 966,244"/><path stroke="#fde086" stroke-width="5.9" d="M918,398Q922,386 924,387M896,313Q910,301 912,307M1004,372Q1020,375 1019,376M848,289Q859,293 859,294M876,316Q890,315 890,316M1008,474Q1022,467 1022,471M1013,286Q1022,275 1024,276M920,219Q925,211 926,213M996,339Q1009,339 1008,335M987,371Q999,372 998,369M923,290Q933,290 932,289M1037,347Q1041,363 1045,362M870,405Q868,394 869,394M1012,499Q1022,487 1025,491M921,464Q933,476 934,474M902,200Q912,198 912,196M870,585Q874,570 877,572M900,569Q916,573 914,578M885,578Q900,575 898,571M1012,317Q1023,306 1024,308M997,438Q1013,434 1012,431M952,465Q969,468 969,467M837,271Q851,280 851,279"/><path stroke="#f9c236" stroke-width="4.9" d="M949,558Q961,544 964,549M1049,487Q1065,486 1064,482M875,489Q885,478 886,481M863,349Q874,345 875,347M800,193Q817,189 816,187M982,547Q989,531 990,532M1065,470Q1078,463 1079,465M833,310Q836,298 839,299M1012,530Q1023,522 1022,520M1060,429Q1068,424 1068,425M926,512Q927,496 932,498M998,499Q1010,503 1010,503M828,234Q840,225 841,227M821,275Q824,263 826,265M1014,478Q1027,467 1027,467M964,252Q979,251 979,252M821,211Q830,216 831,214M989,334Q998,332 998,332M959,333Q971,328 972,331M934,520Q944,511 945,514"/><path stroke="#f7bb30" stroke-width="5.0" d="M988,447Q1006,448 1005,445M864,390Q875,393 875,390M863,363Q876,350 871,347M925,546Q934,540 932,539M1028,408Q1043,400 1042,398M983,363Q997,355 995,353M851,267Q863,261 863,262M888,253Q903,246 903,249M927,492Q936,488 937,489M927,530Q941,531 940,528M1033,441Q1039,432 1037,431M1039,443Q1049,435 1048,434M985,479Q1002,474 1002,474M917,261Q928,257 925,254M984,437Q985,424 989,426M924,468Q928,459 928,459M1067,431Q1081,432 1081,434M955,495Q964,492 964,494M930,230Q943,220 943,221M997,334Q1008,328 1006,326M1051,411Q1060,405 1061,407M879,198Q883,187 886,189M870,593Q884,594 884,592M876,405Q888,408 888,404M898,568Q907,565 907,565M897,468Q909,458 908,456"/><path stroke="#f9c236" stroke-width="5.7" d="M924,309Q933,314 934,312M1020,524Q1026,516 1025,516M918,319Q926,324 927,322M785,264Q802,263 801,259M965,280Q967,264 965,264M890,419Q877,409 880,406M921,410Q935,406 935,408M763,204Q775,208 775,208M1011,446Q1022,437 1023,438M914,472Q925,474 924,471M872,233Q882,232 882,232M947,438Q962,429 961,427M816,201Q833,208 833,208M975,565Q983,556 984,557M994,488Q1006,482 1005,482M945,382Q952,371 949,371M912,526Q924,524 924,523M951,547Q957,540 958,541M1042,411Q1057,418 1058,417M956,347Q966,342 967,344M875,563Q890,559 889,557M1065,408Q1075,409 1075,411"/><path stroke="#fbcb42" stroke-width="4.9" d="M871,599Q882,589 879,587M895,536Q910,533 910,535M940,307Q949,299 950,302M924,302Q933,313 934,312M1012,314Q1026,304 1028,308M881,464Q896,470 896,469M956,564Q965,562 964,560M832,223Q840,213 841,213M940,555Q950,545 951,545M1053,379Q1059,363 1063,366M891,240Q907,231 908,236M883,281Q887,271 888,271M864,173Q874,183 875,182M962,386Q973,386 973,385M1040,444Q1053,441 1052,439M1030,314Q1034,303 1036,305M878,385Q889,380 889,382M879,563Q891,565 891,564M873,562Q890,559 889,559M873,264Q878,256 877,256M874,604Q889,610 887,612M1008,339Q1024,333 1021,329M815,224Q828,218 828,219M923,372Q939,367 939,370M959,338Q969,347 971,343M916,317Q923,309 924,311M1022,344Q1040,345 1039,348M924,476Q941,480 941,481"/><path stroke="#f9c236" stroke-width="4.7" d="M896,319Q907,317 906,314M978,330Q989,323 990,325M1053,426Q1059,413 1057,413M1049,449Q1057,440 1057,441M927,535Q935,548 936,546M905,488Q915,489 915,487M926,249Q940,253 940,253M1004,308Q1013,307 1013,308M856,185Q864,180 865,183M903,543Q919,542 919,543M852,249Q858,259 860,257M1026,379Q1032,369 1034,371M943,559Q953,555 954,557M874,305Q888,306 888,308M928,449Q941,451 941,452M1038,306Q1050,317 1052,313M1059,411Q1073,408 1073,412M1020,375Q1031,377 1031,375M893,328Q905,326 905,327M876,450Q884,440 884,440M1009,462Q1009,447 1011,447M940,484Q955,480 955,480M973,314Q983,328 985,326M877,524Q889,518 888,518M989,454Q999,443 995,441M951,530Q960,529 960,531M903,340Q915,342 914,339M885,531Q884,543 887,543M817,229Q828,226 826,223M859,246Q862,235 859,235M952,231Q959,222 961,225M958,495Q973,504 970,507M964,263Q982,260 981,259M961,547Q977,550 977,551"/><path stroke="#f7bb30" stroke-width="5.9" d="M878,306Q885,297 886,298M866,369Q883,365 882,363M1027,451Q1035,439 1034,438M897,339Q906,336 907,338M782,224Q794,215 795,216M924,363Q939,362 939,364M1064,462Q1063,449 1067,449M960,525Q976,528 976,528M906,555Q921,560 921,555M923,321Q934,313 932,312M975,561Q977,551 980,552M927,407Q931,393 934,395M873,482Q879,490 881,488M949,523Q957,528 957,528M838,228Q846,213 842,212M979,302Q991,291 993,294M1029,345Q1045,338 1043,335M909,250Q918,245 919,248M904,570Q922,572 921,575M911,496Q920,490 920,492M990,381Q1004,373 1003,371"/><path stroke="#f7bb30" stroke-width="4.6" d="M997,321Q1015,317 1014,322M1020,499Q1029,486 1028,486M872,191Q880,184 881,186M812,264Q821,254 822,256M910,300Q925,289 920,286M964,314Q979,324 980,319M915,519Q927,511 928,512M971,258Q985,249 986,255M898,370Q914,376 914,371M875,256Q881,249 881,248M841,231Q854,227 854,227M907,432Q922,435 923,432M805,221Q815,210 811,208M959,333Q959,323 960,323M1045,319Q1050,308 1048,307M815,196Q833,195 832,198M1029,490Q1042,497 1043,493M880,246Q891,234 892,235"/><path stroke="#fbcb42" stroke-width="5.6" d="M930,221Q943,224 942,226M980,523Q996,515 997,517M967,522Q974,515 975,517M910,570Q920,575 920,575M936,400Q953,394 954,396M835,245Q849,236 850,240M840,337Q847,330 848,331M955,462Q961,454 962,455M768,205Q778,200 777,200M990,482Q1001,482 1001,484M778,229Q786,220 783,218M991,439Q998,451 1000,448M812,282Q821,272 823,275M894,315Q905,306 901,304M1049,434Q1062,436 1061,439M949,572Q955,564 955,563M976,264Q985,256 985,256M940,358Q953,356 952,359M894,461Q908,466 909,462"/><path stroke="#f9c236" stroke-width="4.5" d="M1057,446Q1074,443 1072,440M1017,410Q1023,401 1022,401M920,424Q929,417 930,420M885,220Q886,204 890,205M1023,364Q1039,362 1039,365M966,388Q974,396 975,394M922,396Q927,407 928,407M937,432Q951,435 950,430M855,342Q860,326 863,328M970,453Q983,453 982,451M807,253Q819,247 819,251M1067,436Q1069,446 1067,446M861,284Q877,280 877,283M826,233Q838,232 838,233M970,460Q980,448 978,447M1023,364Q1038,356 1039,360M942,524Q955,519 955,520"/><path stroke="#fcd55c" stroke-width="5.2" d="M904,212Q908,202 910,203M782,210Q792,207 792,206M931,279Q942,271 943,274M1005,408Q1016,413 1016,414M1040,442Q1054,436 1054,435M995,417Q1006,420 1006,418M894,359Q909,354 906,351M952,335Q967,341 966,344M1029,520Q1038,512 1039,515M992,414Q1010,412 1009,409M847,285Q857,282 857,283M901,397Q912,404 909,407M1033,371Q1041,365 1042,367M888,422Q900,417 897,414M1053,427Q1065,420 1066,424M1023,324Q1033,322 1033,321M1030,392Q1040,382 1042,386M986,432Q999,437 998,438M1037,314Q1043,305 1042,304M975,567Q964,558 968,555M820,311Q832,314 832,313M913,573Q923,580 924,579M884,297Q890,290 892,292M953,296Q956,280 957,280M959,338Q963,322 964,322M829,234Q837,225 839,228"/><path stroke="#fcd55c" stroke-width="4.8" d="M1045,329Q1055,323 1055,326M961,453Q978,457 978,456M926,232Q937,226 937,230M969,484Q985,492 986,488M939,522Q950,514 949,512M847,354Q853,346 854,347M783,177Q798,175 798,173M903,563Q916,575 915,575M863,225Q874,226 874,224M1000,389Q1013,386 1013,386M1059,483Q1068,476 1069,480M1011,292Q1020,281 1020,281M786,224Q801,216 797,213M945,569Q954,566 955,568M935,446Q948,438 950,442M948,270Q961,275 958,279M904,222Q910,214 908,213M986,487Q986,496 989,495M939,469Q950,465 950,464M887,264Q898,258 897,256"/><path stroke="#f7bb30" stroke-width="5.6" d="M791,223Q801,216 802,219M834,249Q843,251 842,252M1066,473Q1076,467 1077,470M853,374Q863,389 866,385M908,336Q922,325 922,325M868,290Q871,279 873,280M913,327Q926,324 925,327M1013,520Q1031,520 1029,515M906,345Q923,341 923,344M976,272Q985,274 985,273M969,440Q980,438 979,436M916,214Q929,215 929,213M946,439Q962,437 962,440M827,187Q841,181 839,179M971,250Q977,236 979,238M787,184Q800,172 802,175M1006,397Q1018,394 1018,397"/><path stroke="#f9c236" stroke-width="5.8" d="M1019,414Q1033,416 1033,417M983,498Q994,493 995,495M871,287Q884,277 885,280M878,341Q889,332 888,331M893,501Q903,502 902,499M915,278Q926,273 925,272M1016,339Q1024,333 1024,334M973,314Q982,299 984,301M928,309Q941,312 941,311M980,453Q995,454 995,455M1029,434Q1040,434 1040,435M888,478Q888,465 885,466M809,232Q813,221 811,221M922,493Q925,482 928,484M862,383Q859,365 864,366M885,489Q898,496 898,496M918,208Q928,195 927,195M999,550Q999,536 1002,537M1011,390Q1017,380 1018,381M969,277Q982,273 981,271M879,595Q887,602 888,598M1043,444Q1055,438 1056,441M866,267Q876,268 876,265M804,251Q811,268 815,264M1038,343Q1050,349 1050,349M941,257Q950,256 950,258M876,371Q889,374 889,373M889,377Q895,362 897,363M883,223Q892,220 891,219"/><path stroke="#fde086" stroke-width="4.8" d="M877,321Q891,321 891,321M888,273Q900,275 900,273M923,315Q930,306 931,307M942,497Q953,487 949,485M984,325Q997,314 999,317M885,390Q896,401 895,401M993,400Q1003,387 1003,387M1072,395Q1086,398 1086,396M965,504Q975,507 975,508M876,489Q889,490 888,486M928,376Q935,370 934,369M826,284Q829,268 828,268M795,246Q805,242 803,239M990,281Q999,270 998,269M969,372Q982,374 982,374M809,195Q818,188 820,191M945,311Q952,300 952,300"/><path stroke="#fde086" stroke-width="5.6" d="M931,239Q937,252 936,252M893,430Q907,432 907,430M1020,379Q1031,386 1028,388M910,289Q927,297 928,292M799,197Q809,192 809,192M887,406Q901,410 900,413M853,317Q858,307 860,309M878,332Q893,330 891,326M1019,308Q1034,314 1031,317M836,247Q838,236 839,237M863,382Q870,368 869,368M901,389Q908,381 909,382M893,229Q904,220 901,218M861,281Q870,285 870,285M951,378Q965,377 965,379M964,474Q970,467 970,467"/><path stroke="#f7bb30" stroke-width="5.5" d="M946,344Q960,341 960,344M861,209Q878,210 878,208M966,313Q981,307 981,309M967,421Q965,407 968,407M988,439Q1000,442 1000,441M846,309Q852,317 853,316M984,482Q985,472 988,474M881,566Q897,568 897,564M931,472Q940,468 941,470M1062,376Q1078,378 1078,379M944,548Q951,538 953,541M961,283Q966,274 967,276M845,174Q858,170 859,172M1015,350Q1026,336 1027,338M968,342Q981,338 982,339M1079,380Q1088,372 1089,372M1063,347Q1064,338 1064,338M976,342Q975,332 976,332M838,276Q851,270 850,268M908,514Q924,513 923,518M824,279Q833,272 834,274"/><path stroke="#fcd55c" stroke-width="5.7" d="M935,534Q950,530 949,529M1006,501Q1018,501 1017,497M841,222Q857,217 856,215M836,346Q845,340 845,341M1058,379Q1067,370 1068,373M984,419Q999,421 999,421M865,208Q874,211 874,209M986,322Q995,309 991,308M1017,454Q1022,442 1025,444M875,219Q892,221 891,225M970,529Q988,532 988,531M1076,451Q1085,448 1084,446M904,588Q904,573 909,574M881,452Q882,434 885,435M833,282Q846,281 846,282M892,545Q905,537 905,539M877,189Q893,185 892,182M924,223Q934,220 932,217M1006,439Q1014,430 1014,430"/><path stroke="#fcd55c" stroke-width="4.6" d="M870,197Q880,194 880,197M770,199Q781,204 782,200M1031,307Q1041,311 1040,313M862,224Q869,210 872,212M974,452Q981,438 984,440M897,379Q908,377 908,378M828,206Q835,214 837,212M843,335Q859,337 860,335M868,456Q884,458 883,460M933,318Q948,318 947,314M891,571Q902,569 901,567M981,512Q993,510 993,510M916,286Q917,271 916,271M768,227Q782,220 783,225M844,286Q852,274 854,276M805,251Q815,244 814,243M1023,457Q1033,450 1034,453M938,294Q950,306 951,305M1025,505Q1036,512 1037,510M900,401Q909,406 908,406M942,214Q949,205 949,205M1018,427Q1035,426 1034,430M1006,513Q1019,508 1018,507"/><path stroke="#fcd55c" stroke-width="5.4" d="M1009,412Q1021,423 1022,421M927,486Q937,485 936,483M1020,454Q1032,452 1031,449M966,252Q982,250 982,249M948,221Q951,204 953,205M1070,488Q1075,474 1075,474M1013,377Q1026,369 1027,372M957,416Q957,405 960,406M881,591Q888,583 886,582M892,478Q904,470 903,468M975,418Q984,415 985,417M777,234Q787,241 788,239M1008,387Q1015,382 1015,382M957,476Q972,474 971,472M898,271Q913,275 913,275M938,462Q950,463 949,460M784,212Q789,199 792,202M1010,348Q1018,343 1018,344"/><path stroke="#f7bb30" stroke-width="4.7" d="M875,597Q887,588 888,589M965,388Q980,391 980,391M884,428Q892,416 894,419M911,307Q927,305 927,302M982,428Q996,428 996,428M827,238Q838,236 838,235M929,253Q933,243 931,243M929,225Q945,225 944,221M1015,357Q1027,349 1028,351M957,333Q967,342 968,341M814,256Q822,264 823,264M800,267Q806,256 807,257M850,237Q865,231 866,231M987,405Q993,397 994,399M943,297Q955,295 955,296M989,521Q1001,520 1001,523M1021,432Q1028,425 1027,424M843,300Q848,291 849,292M994,458Q1008,457 1008,455M816,318Q829,325 830,324M938,369Q950,374 948,377M759,215Q775,209 775,209M889,381Q905,385 905,382M865,365Q872,356 872,356M939,310Q945,301 947,304M965,482Q975,479 975,479"/><path stroke="#fcd55c" stroke-width="4.7" d="M878,461Q888,461 888,463M952,549Q966,550 964,554M934,385Q951,390 952,387M917,320Q928,308 928,309M939,345Q949,347 948,348M885,435Q896,448 899,444M997,459Q1009,474 1012,469M895,417Q903,421 904,418M1052,388Q1061,387 1061,389M870,506Q880,490 884,495M989,450Q1000,453 999,455M990,284Q999,272 1002,276M909,403Q922,390 924,395M893,390Q906,387 906,387M845,328Q858,326 858,326M842,318Q857,314 854,310M1000,350Q1004,339 1006,341M985,499Q995,501 995,501"/><path stroke="#fde086" stroke-width="4.6" d="M895,320Q909,317 908,314M876,220Q888,215 889,219M902,557Q915,562 916,558M869,190Q882,191 882,192M904,240Q917,230 914,228M999,548Q1004,535 1008,538M887,519Q897,506 896,505M983,299Q999,294 999,298M860,322Q870,318 868,315M821,237Q833,231 832,229M1008,449Q1014,438 1016,440M1074,360Q1081,352 1083,354M876,535Q885,540 885,540M866,235Q875,219 871,218M1002,469Q1019,461 1018,460M886,504Q896,508 896,507M923,578Q925,564 921,565M944,384Q949,369 951,370M941,505Q953,504 953,504M1024,299Q1035,303 1034,304M1043,453Q1056,453 1056,453M1022,471Q1036,476 1036,473M930,576Q941,577 941,574M1011,505Q1021,500 1020,499M993,424Q1001,419 1001,420"/><path stroke="#fcd55c" stroke-width="5.1" d="M870,389Q887,389 887,389M989,260Q1001,262 1000,258M1005,368Q1020,357 1021,360M879,320Q895,310 896,315M903,470Q916,468 916,470M939,395Q946,401 945,402M929,311Q938,310 938,311M801,199Q816,205 816,200M887,315Q904,315 903,320M938,269Q953,262 953,263M1006,450Q1017,444 1017,448M960,509Q960,499 962,500"/><path stroke="#fde086" stroke-width="5.8" d="M961,550Q973,542 974,546M958,304Q965,288 968,291M920,282Q936,275 937,279M962,438Q971,428 969,427M937,560Q949,563 949,565M874,483Q885,491 886,489M1016,326Q1026,329 1026,326M1041,487Q1051,486 1051,486M881,313Q888,322 888,322M863,191Q874,200 874,199M882,278Q883,294 885,293M863,370Q879,361 880,366M1020,337Q1028,344 1028,343M845,178Q860,173 858,170M823,300Q830,287 832,289M830,211Q842,218 842,217M1014,527Q1028,538 1030,535M980,549Q988,543 989,545M864,331Q874,327 874,329M918,220Q927,227 926,228"/><path stroke="#f7bb30" stroke-width="4.9" d="M906,372Q916,359 919,362M1015,400Q1032,403 1032,402M1000,447Q1010,448 1008,450M938,387Q947,382 947,383M964,374Q980,369 980,368M1035,356Q1044,344 1046,345M1018,365Q1031,361 1031,364M1029,476Q1043,465 1043,466M903,439Q907,431 905,430M865,192Q875,191 874,194M893,294Q905,290 904,289M821,304Q829,289 832,292M848,181Q863,185 863,187M811,313Q820,305 821,307M993,442Q1009,436 1006,432M791,234Q802,234 802,236M993,478Q1002,492 1003,491"/><path stroke="#fbcb42" stroke-width="5.2" d="M979,541Q982,551 985,549M1032,372Q1040,365 1041,367M1042,378Q1056,372 1056,377M889,392Q891,374 886,375M945,352Q963,349 961,345M938,473Q949,462 951,464M962,359Q978,360 978,361M897,226Q906,211 909,215M1031,362Q1037,352 1035,352M1006,529Q1005,518 1004,518M913,314Q929,308 930,313M917,451Q932,441 933,445M1060,374Q1078,373 1077,369M983,538Q995,538 994,536M969,377Q980,390 983,386M930,539Q939,544 939,541M931,265Q933,256 935,257M973,527Q985,541 981,543M916,416Q932,409 932,408M883,499Q898,500 896,496M967,249Q982,241 982,243M980,460Q989,453 989,454"/><path stroke="#f9c236" stroke-width="5.5" d="M791,282Q805,275 802,272M918,562Q929,554 929,554M813,219Q829,221 828,224M870,386Q883,373 879,371M853,248Q868,245 868,247M856,386Q873,383 871,379M950,404Q960,399 961,400M934,572Q947,573 946,577M880,472Q887,462 886,462M963,435Q960,448 964,448M879,559Q891,555 889,552M947,411Q954,401 953,400M1077,391Q1088,384 1088,383M906,488Q916,490 916,487M850,224Q862,226 862,224M954,556Q966,550 966,550M899,547Q908,556 907,556M898,407Q907,398 909,401M800,296Q810,291 810,293M861,362Q875,367 875,363M944,542Q956,529 959,533M783,201Q799,195 796,191M985,441Q989,424 992,425M833,205Q845,193 842,191M966,434Q974,428 971,426M998,387Q1010,381 1007,379"/><path stroke="#f7bb30" stroke-width="5.1" d="M861,338Q874,325 871,323M869,207Q875,221 877,220M936,257Q944,264 945,263M869,306Q881,300 881,301M920,405Q934,414 935,410M905,388Q913,393 914,392M989,459Q996,445 999,448M1027,396Q1033,379 1035,380M926,396Q936,398 936,399M825,207Q836,206 836,204M912,488Q926,491 925,492M819,215Q829,217 828,214M799,180Q816,185 816,181M954,483Q965,477 966,479M1072,360Q1084,353 1085,357M822,190Q818,175 819,175M1000,448Q1014,448 1013,446M975,544Q990,542 987,538M1016,431Q1024,435 1025,434M914,302Q924,294 921,292M941,540Q936,523 938,522"/><path stroke="#f7bb30" stroke-width="5.7" d="M918,243Q924,235 926,238M904,205Q918,212 917,212M986,400Q999,397 999,396M938,498Q955,497 955,496M874,353Q877,342 879,344M980,270Q991,264 991,265M845,339Q856,337 856,339M928,276Q935,270 936,271M1073,405Q1083,400 1081,398M961,344Q977,341 977,342M998,429Q1009,428 1008,425M770,210Q775,224 777,223M985,289Q994,281 995,283M952,532Q967,531 965,535M920,353Q928,360 929,358M991,421Q1006,413 1007,417M894,343Q907,338 907,339M918,240Q930,235 930,238M992,363Q1005,370 1006,367M959,454Q970,441 966,440M922,297Q938,293 936,289M1034,372Q1039,361 1037,360M1004,340Q1014,344 1014,344M885,416Q893,408 895,411"/><path stroke="#fbcb42" stroke-width="4.6" d="M977,326Q987,331 988,328M911,244Q920,259 915,260M963,382Q976,371 976,372M946,446Q964,446 962,451M928,531Q935,516 937,517M872,214Q888,210 888,213M889,389Q895,375 895,375M895,533Q894,521 896,522M1071,464Q1085,463 1085,465M832,175Q834,165 836,165M849,248Q863,253 863,251M1044,385Q1056,378 1057,382M1040,385Q1051,383 1051,384M870,597Q885,598 885,597M836,214Q849,208 849,208M833,181Q848,176 845,172M908,341Q922,350 924,345M914,496Q924,496 923,494M906,361Q922,369 918,373M886,391Q889,381 892,383M931,365Q944,362 943,360M987,522Q1000,513 999,512M938,299Q950,290 951,293M886,567Q895,552 899,557M958,275Q975,274 974,277M1072,371Q1077,359 1079,361M980,422Q996,412 997,418M968,325Q975,318 976,320M943,438Q955,439 954,440M1001,531Q1012,530 1012,531M864,298Q875,292 876,294M842,220Q855,220 855,223M871,335Q877,327 878,328M838,293Q849,283 848,282M888,196Q903,187 900,184M978,447Q991,434 993,437"/><path stroke="#fbcb42" stroke-width="5.5" d="M925,425Q923,411 925,411M1018,300Q1030,291 1030,292M901,260Q901,249 902,249M975,428Q984,423 983,422M892,188Q900,197 902,195M847,360Q852,349 854,350M870,399Q876,385 874,385M1016,295Q1025,285 1027,288M983,506Q995,492 998,496M928,283Q935,275 933,274M844,243Q860,246 858,250M978,366Q989,365 989,365M801,285Q813,270 816,275M886,252Q895,248 895,247M928,426Q938,431 935,433M854,179Q869,185 870,183M1001,309Q1000,292 1004,293M894,443Q905,445 905,442M853,212Q863,215 863,215M937,503Q942,486 941,486M924,545Q934,550 934,547M875,320Q887,334 890,329M865,372Q880,367 880,368M913,291Q914,277 915,278M933,289Q951,291 948,296"/><path stroke="#f7bb30" stroke-width="5.4" d="M953,439Q971,440 970,443M831,241Q840,226 836,225M1017,317Q1026,322 1023,324M880,314Q880,303 881,303M940,433Q956,439 956,435M879,500Q892,496 892,499M1003,446Q1012,454 1009,456M982,356Q988,348 989,349M844,358Q850,349 850,349M950,233Q960,220 960,220M1063,464Q1075,458 1075,459M961,371Q979,373 979,372M1076,431Q1085,438 1086,438M908,294Q916,280 919,283M905,346Q917,339 918,340M946,371Q959,371 959,371M876,467Q887,456 888,457M808,187Q820,173 823,177M816,228Q825,212 829,216M900,290Q915,290 914,294M982,496Q993,508 988,510M883,192Q894,189 893,187M816,302Q834,302 833,299M890,185Q899,186 899,188"/><path stroke="#fcd55c" stroke-width="5.8" d="M856,348Q873,343 873,342M944,535Q961,536 961,533M872,497Q882,497 882,495M908,402Q918,403 918,402M1027,442Q1031,427 1030,427M913,563Q924,565 923,567M902,287Q903,269 908,271M937,378Q951,368 948,365M899,369Q899,358 899,358M996,319Q1013,321 1012,322M1033,466Q1044,459 1045,460M953,417Q966,416 965,415M1053,365Q1058,352 1060,354M1028,501Q1037,494 1036,493M863,322Q873,320 872,323M876,271Q885,265 883,263M941,352Q956,354 956,353M978,420Q985,414 984,413M873,481Q883,476 883,478"/><path stroke="#fde086" stroke-width="4.5" d="M945,435Q951,428 949,427M965,379Q963,370 965,370M879,278Q883,268 884,269M819,194Q828,195 828,196M938,252Q947,239 948,240M979,283Q991,281 991,279"/><path stroke="#f9c236" stroke-width="4.8" d="M834,323Q850,330 850,325M882,354Q892,339 889,338M881,228Q894,235 892,237M963,433Q963,418 959,420M999,341Q1011,340 1011,341M784,183Q796,177 797,180M837,326Q854,327 854,323M768,216Q777,211 777,211M933,557Q946,546 947,549M1000,495Q1016,492 1015,489M888,373Q898,371 898,369M887,191Q896,205 892,206M883,224Q896,223 896,221M989,500Q1002,497 1001,495M1046,429Q1055,418 1053,417M777,225Q795,226 795,223M1009,321Q1024,322 1024,319M886,532Q901,523 899,521M1037,435Q1048,437 1048,437M951,555Q952,545 953,545M1023,441Q1034,430 1034,429M1012,331Q1021,327 1021,327"/><path stroke="#fbcb42" stroke-width="5.0" d="M924,469Q934,472 934,469M980,365Q993,352 996,357M858,314Q873,304 874,305M845,322Q856,328 856,328M1032,304Q1044,311 1045,308M1022,488Q1037,482 1034,478M931,434Q946,425 946,425M1025,373Q1038,378 1038,380M1033,410Q1050,407 1050,411M772,221Q786,222 786,221M960,444Q978,445 977,439M906,264Q914,251 911,250M980,330Q983,316 983,316M907,531Q920,524 920,525M812,211Q821,206 820,204"/><path stroke="#fde086" stroke-width="5.3" d="M856,200Q864,207 866,204M902,240Q912,244 913,242M871,290Q881,286 882,290M785,203Q797,202 796,199M868,568Q879,566 877,563M956,327Q955,316 955,316M915,492Q921,481 921,481M893,608Q901,601 901,601M1018,474Q1028,475 1027,477M1024,306Q1038,310 1038,307M833,313Q845,310 844,314M917,490Q919,478 918,478M889,599Q898,600 898,602M984,286Q996,277 994,276M950,367Q963,362 962,359M956,317Q970,328 972,324M1024,511Q1035,507 1035,511M964,257Q966,268 968,267M812,191Q824,181 821,179M1008,388Q1018,382 1018,381M989,271Q993,254 998,257M946,348Q961,340 960,339M939,553Q945,537 945,537M985,270Q977,257 982,256M1014,357Q1027,350 1028,351M905,388Q905,377 908,378M1023,397Q1037,390 1038,392"/><path stroke="#fbcb42" stroke-width="6.0" d="M799,290Q797,275 801,275M982,495Q991,490 991,490M865,315Q875,307 877,310M938,540Q943,530 945,532M948,254Q961,243 963,247M873,255Q883,248 882,247M944,391Q958,381 958,383M1028,415Q1039,407 1040,409M900,375Q912,379 912,380M970,520Q976,506 978,507M966,377Q968,367 968,367"/><path stroke="#fde086" stroke-width="6.0" d="M973,388Q977,371 980,373M879,246Q893,236 895,241M839,297Q846,310 849,306M921,264Q935,268 934,270M876,555Q887,548 884,546M847,210Q860,205 859,205M761,205Q774,202 773,200M909,227Q920,226 920,227M951,256Q962,257 962,258M985,271Q979,257 982,257M1031,394Q1039,388 1038,387M926,279Q939,286 940,283M1058,379Q1067,388 1068,385M968,249Q977,239 978,240M982,275Q994,279 994,279"/><path stroke="#f7bb30" stroke-width="6.0" d="M938,373Q952,371 952,376M936,424Q952,424 952,425M888,385Q902,374 902,374M914,333Q927,336 928,335M958,330Q968,331 968,330M954,400Q969,406 969,401M912,517Q927,511 928,514M856,231Q873,233 872,236M864,252Q869,243 867,243M918,251Q928,252 928,249M981,301Q997,302 997,302"/><path stroke="#f9c236" stroke-width="5.0" d="M966,279Q978,282 978,280M872,261Q884,256 884,256M887,580Q889,570 890,570M778,232Q789,229 789,229M875,604Q882,588 880,587M885,481Q898,481 898,479M976,505Q992,496 993,499M1010,512Q1021,504 1022,506M952,481Q965,473 963,471M1041,391Q1049,380 1052,384M820,183Q830,174 832,178M973,364Q990,364 990,366M879,223Q889,215 889,215M1053,347Q1061,336 1063,338M968,287Q978,286 978,287M949,345Q958,342 958,345M903,259Q912,246 915,250M810,203Q819,193 820,195M1023,447Q1035,439 1036,441"/><path stroke="#fde086" stroke-width="4.9" d="M902,555Q918,553 916,549M869,390Q880,383 877,381M844,331Q861,328 860,326M989,515Q1001,509 1002,511M926,485Q941,481 939,478M779,193Q792,199 790,201M984,282Q996,277 997,278M904,319Q904,331 903,331M899,516Q908,511 908,510M988,533Q1002,532 1002,531M887,246Q899,249 899,246M881,551Q895,541 894,539M923,315Q930,323 930,322M895,563Q909,560 907,556M925,506Q938,503 935,499M861,296Q871,299 872,297M843,335Q858,343 854,347M906,212Q919,214 919,210M880,273Q894,268 894,270"/><path stroke="#fbcb42" stroke-width="4.8" d="M888,220Q906,222 906,223M803,277Q813,264 815,267M1043,362Q1059,363 1058,359M1015,359Q1022,346 1018,345M968,437Q980,437 979,439M1001,285Q1013,273 1015,278M898,221Q915,223 915,225M850,288Q866,280 862,276M940,537Q948,530 947,529M893,311Q906,311 906,311M1009,336Q1023,336 1023,337M1020,330Q1031,329 1031,331M1017,348Q1025,355 1026,352M1070,373Q1075,365 1077,367M925,522Q934,508 934,508M1006,281Q1017,277 1017,281M933,238Q946,235 946,238M1037,452Q1040,439 1041,439M1010,516Q1021,524 1021,524"/><path stroke="#fde086" stroke-width="5.5" d="M958,520Q968,516 968,516M930,355Q941,352 941,352M963,402Q978,412 979,407M799,282Q808,269 808,270M955,531Q969,526 969,531M961,283Q972,286 972,287M842,307Q844,290 849,292M946,469Q956,475 957,471M856,386Q865,375 867,378M968,380Q982,384 982,382M828,272Q837,272 837,274M999,426Q1014,429 1013,430M845,344Q855,331 856,333M1029,394Q1036,387 1037,389M983,449Q998,441 999,446M1037,439Q1041,448 1043,447M895,374Q913,379 913,377M896,348Q906,350 906,347M831,267Q846,277 848,273M958,558Q969,546 970,547M1021,486Q1036,491 1036,486M893,523Q905,522 905,521M1018,443Q1023,430 1026,433M848,186Q858,184 858,183M965,470Q978,468 976,464M915,286Q930,290 930,287M870,201Q887,205 887,201"/><path stroke="#fbcb42" stroke-width="5.1" d="M822,284Q832,293 834,290M967,449Q981,438 982,440M958,292Q967,301 967,300M1021,323Q1036,324 1035,319M810,253Q826,248 824,244M958,351Q974,357 971,360M879,589Q889,577 890,578M827,198Q828,184 828,184M914,276Q921,264 919,263M956,524Q965,523 965,525M1011,473Q1017,457 1018,458M901,487Q909,492 909,492M983,463Q987,452 989,453M889,278Q898,274 899,277M950,472Q957,463 959,467M1042,361Q1054,372 1052,373M877,411Q882,396 882,396M1056,455Q1055,445 1055,445M890,190Q901,204 898,206M903,249Q917,244 916,242M905,449Q918,446 917,444M920,452Q931,444 932,448M932,452Q946,456 946,455M882,355Q893,346 890,344"/><path stroke="#fbcb42" stroke-width="5.3" d="M924,410Q934,402 933,401M949,351Q965,345 966,345M979,372Q988,368 989,371M1018,427Q1030,419 1031,421M883,331Q888,316 887,316M814,200Q820,191 817,190M947,312Q957,327 959,326M954,451Q965,457 965,457M855,367Q862,357 864,358M1001,481Q1012,490 1013,488M964,302Q964,291 961,291M956,347Q973,342 973,347M877,183Q894,182 894,182M955,247Q968,235 969,237M841,191Q857,183 858,188M864,391Q880,386 879,385M763,203Q776,199 776,200M975,430Q982,421 982,421M892,232Q906,228 906,230M957,383Q959,373 961,373M981,384Q995,380 994,378"/><path stroke="#fcd55c" stroke-width="5.3" d="M985,437Q988,426 991,428M986,483Q994,490 995,487M984,398Q992,384 995,387M918,550Q931,553 931,553M888,454Q900,452 900,451M953,290Q970,287 970,287M1046,406Q1055,395 1057,397M811,255Q821,253 821,254M844,340Q860,346 861,344M980,251Q989,245 989,244M891,477Q900,468 896,467M993,521Q1005,512 1005,511M1035,323Q1041,311 1041,310M891,518Q895,509 896,509M1037,419Q1051,428 1051,427M920,278Q931,271 932,273M1013,530Q1022,524 1022,525M1062,410Q1072,407 1070,405M1074,440Q1086,452 1087,452M933,500Q947,512 949,507M946,404Q943,394 944,393M920,418Q928,412 926,411"/><path stroke="#fde086" stroke-width="4.7" d="M942,555Q959,553 959,555M1001,474Q1017,468 1017,472M945,276Q951,285 952,284M971,522Q983,523 982,525M868,245Q877,251 878,249M1031,421Q1041,407 1036,406M877,309Q890,319 890,320M895,352Q904,359 905,357M870,500Q881,502 881,502M1054,496Q1066,490 1066,490M893,247Q903,249 903,246M951,474Q967,467 965,464M902,315Q913,314 913,313M880,256Q894,252 894,251M908,297Q920,296 920,299M978,467Q988,470 989,468M1005,316Q1019,310 1019,313M1041,424Q1051,423 1051,423M1013,405Q1028,400 1028,400M1014,495Q1022,491 1022,491M953,402Q968,393 970,396M1001,321Q1010,309 1010,309M1057,473Q1067,484 1065,485M896,479Q907,466 907,465"/><path stroke="#f9c236" stroke-width="5.2" d="M868,418Q880,421 880,420M988,521Q993,509 990,509M792,220Q800,211 800,211M831,288Q845,291 844,294M1042,330Q1048,316 1046,316M902,241Q913,249 914,245M1066,464Q1080,460 1080,464M922,305Q931,301 929,299M856,305Q865,303 865,305M925,364Q936,355 936,355M1005,289Q1023,287 1022,283M969,509Q977,500 979,503M1080,376Q1088,371 1088,372M904,263Q918,267 918,263M1010,374Q1019,369 1019,372M910,202Q923,203 923,203M914,269Q924,269 924,267M866,532Q884,524 884,529M772,211Q788,209 786,205M938,252Q949,248 949,248M844,283Q851,275 851,275M1067,355Q1076,355 1076,355M870,449Q881,445 881,444M938,410Q946,404 947,406M897,229Q906,225 906,226M842,172Q854,179 855,175"/><path stroke="#fcd55c" stroke-width="6.0" d="M892,536Q903,525 899,523M957,509Q969,517 969,516M928,412Q924,395 929,395M989,262Q1000,270 1001,266M843,299Q852,304 852,305M915,232Q919,223 918,223M895,280Q905,283 905,281M999,408Q1016,414 1016,412M938,381Q951,375 949,372"/><path stroke="#fbcb42" stroke-width="4.5" d="M1020,361Q1032,350 1033,353M945,410Q957,404 956,403M810,245Q823,247 823,245M911,398Q926,397 926,398M875,201Q888,198 886,194M1023,317Q1041,320 1041,320M914,436Q926,443 923,446M878,580Q886,586 887,583M947,493Q956,483 956,483M956,425Q966,430 965,432M1032,374Q1041,374 1041,375"/><path stroke="#f7bb30" stroke-width="4.5" d="M912,343Q927,346 927,344M905,410Q915,410 915,410M988,487Q1002,491 1002,490M955,353Q970,344 971,348M986,518Q991,508 993,509M1007,283Q1018,280 1018,280M821,297Q832,291 829,289M914,533Q916,521 917,522M767,219Q778,208 777,207M925,247Q943,243 943,248M901,493Q912,482 914,485"/><path stroke="#f7bb30" stroke-width="5.3" d="M869,414Q884,414 884,413M900,457Q911,456 910,454M995,383Q1008,385 1008,383M927,348Q937,336 940,340M1013,432Q1023,423 1024,424M892,280Q907,273 907,272M927,362Q940,357 941,358M879,457Q888,450 889,453M954,384Q964,383 963,380M771,193Q786,196 786,195M928,551Q941,548 940,547M940,477Q949,473 950,474M1026,333Q1038,324 1039,326M975,315Q973,298 975,298M1022,497Q1031,497 1031,497M798,204Q810,201 808,198"/>
<path d="M812,168 Q806,155 807,142" stroke="#f7c43c" stroke-width="6.5"/><path d="M838,170 Q830,160 828,149" stroke="#f9ca48" stroke-width="6.5"/>
<path d="M812,168 Q806,155 807,142" stroke="#fcd866" stroke-width="3" stroke-dasharray="3 2"/><path d="M838,170 Q830,160 828,149" stroke="#fcd866" stroke-width="3" stroke-dasharray="3 2"/></g>
<path fill="url(#letG)" d="M356.0,621.0 C354.7,626.8 359.7,634.3 362.0,640.0 C364.3,645.7 365.7,649.0 370.0,655.0 C374.3,661.0 382.3,669.0 388.0,676.0 C393.7,683.0 398.7,692.5 404.0,697.0 C409.3,701.5 413.5,704.2 420.0,703.0 C426.5,701.8 432.5,693.5 443.0,690.0 C453.5,686.5 466.8,683.0 483.0,682.0 C499.2,681.0 524.3,682.0 540.0,684.0 C555.7,686.0 564.5,689.8 577.0,694.0 C589.5,698.2 603.7,704.8 615.0,709.0 C626.3,713.2 636.7,719.0 645.0,719.0 C653.3,719.0 658.3,714.8 665.0,709.0 C671.7,703.2 676.8,692.2 685.0,684.0 C693.2,675.8 705.0,665.7 714.0,660.0 C723.0,654.3 726.5,652.2 739.0,650.0 C751.5,647.8 775.5,649.1 789.0,647.0 C802.5,644.9 809.6,640.0 820.0,637.5 C830.4,635.0 843.2,634.6 851.5,632.0 C859.8,629.4 866.1,626.5 870.0,621.7 C873.9,616.9 873.9,612.6 875.0,603.0 C876.1,593.4 876.0,578.3 876.5,564.0 C877.0,549.7 874.3,526.7 878.0,517.0 C881.7,507.3 891.8,510.5 898.8,506.0 C905.8,501.5 913.9,495.7 920.0,490.0 C926.1,484.3 932.1,478.1 935.6,472.0 C939.1,465.9 941.4,461.1 941.0,453.6 C940.6,446.1 936.5,433.9 933.0,427.0 C929.5,420.1 924.4,415.5 920.0,412.0 C915.6,408.5 912.0,403.5 906.7,406.0 C901.4,408.5 895.0,414.7 888.0,427.0 C881.0,439.3 876.3,461.2 865.0,480.0 C853.7,498.8 840.8,521.7 820.0,540.0 C799.2,558.3 776.7,577.5 740.0,590.0 C703.3,602.5 648.3,611.3 600.0,615.0 C551.7,618.7 488.3,613.7 450.0,612.0 C411.7,610.3 385.7,603.5 370.0,605.0 C354.3,606.5 357.3,615.2 356.0,621.0 Z"/>
<path fill="url(#letG)" d="M356.0,621.0 C354.7,626.8 359.7,634.3 362.0,640.0 C364.3,645.7 365.7,649.0 370.0,655.0 C374.3,661.0 382.3,669.0 388.0,676.0 C393.7,683.0 398.7,692.5 404.0,697.0 C409.3,701.5 413.5,704.2 420.0,703.0 C426.5,701.8 432.5,693.5 443.0,690.0 C453.5,686.5 466.8,683.0 483.0,682.0 C499.2,681.0 524.3,682.0 540.0,684.0 C555.7,686.0 564.5,689.8 577.0,694.0 C589.5,698.2 603.7,704.8 615.0,709.0 C626.3,713.2 636.7,719.0 645.0,719.0 C653.3,719.0 658.3,714.8 665.0,709.0 C671.7,703.2 676.8,692.2 685.0,684.0 C693.2,675.8 705.0,665.7 714.0,660.0 C723.0,654.3 726.5,652.2 739.0,650.0 C751.5,647.8 775.5,649.1 789.0,647.0 C802.5,644.9 809.6,640.0 820.0,637.5 C830.4,635.0 843.2,634.6 851.5,632.0 C859.8,629.4 866.1,626.5 870.0,621.7 C873.9,616.9 873.9,612.6 875.0,603.0 C876.1,593.4 876.0,578.3 876.5,564.0 C877.0,549.7 874.3,526.7 878.0,517.0 C881.7,507.3 891.8,510.5 898.8,506.0 C905.8,501.5 913.9,495.7 920.0,490.0 C926.1,484.3 932.1,478.1 935.6,472.0 C939.1,465.9 941.4,461.1 941.0,453.6 C940.6,446.1 936.5,433.9 933.0,427.0 C929.5,420.1 924.4,415.5 920.0,412.0 C915.6,408.5 912.0,403.5 906.7,406.0 C901.4,408.5 895.0,414.7 888.0,427.0 C881.0,439.3 876.3,461.2 865.0,480.0 C853.7,498.8 840.8,521.7 820.0,540.0 C799.2,558.3 776.7,577.5 740.0,590.0 C703.3,602.5 648.3,611.3 600.0,615.0 C551.7,618.7 488.3,613.7 450.0,612.0 C411.7,610.3 385.7,603.5 370.0,605.0 C354.3,606.5 357.3,615.2 356.0,621.0 Z" filter="url(#letTex)"/>
<g clip-path="url(#letClip)">
<ellipse cx="912" cy="450" rx="22" ry="34" fill="#e4f7a8" opacity="0.75" filter="url(#blur8)"/>
<ellipse cx="760" cy="660" rx="90" ry="14" fill="#def59c" opacity="0.7" filter="url(#blur8)"/>
<ellipse cx="470" cy="690" rx="70" ry="10" fill="#dcf49a" opacity="0.6" filter="url(#blur8)"/>
<path d="M357.6,629.0 C363.5,632.0 380.8,642.3 393.0,647.0 C405.2,651.7 418.7,653.8 431.0,657.0 C443.3,660.2 457.2,664.0 467.0,666.0 C476.8,668.0 480.2,669.8 490.0,669.0 C499.8,668.2 512.2,663.5 526.0,661.0 C539.8,658.5 557.3,655.7 573.0,654.0 C588.7,652.3 604.6,652.5 620.0,651.0 C635.4,649.5 651.8,648.2 665.6,645.0 C679.4,641.8 690.6,635.4 703.0,632.0 C715.4,628.6 729.7,625.8 740.0,624.6 C750.3,623.4 756.7,627.5 765.0,624.6 C773.3,621.7 781.7,613.3 790.0,607.0 C798.3,600.7 809.5,592.3 815.0,587.0 C820.5,581.7 818.5,578.0 823.0,575.0 C827.5,572.0 835.8,572.2 842.0,569.0 C848.2,565.8 854.8,562.2 860.0,556.0 C865.2,549.8 870.3,538.7 873.5,532.0 C876.7,525.3 878.1,518.7 879.0,516.0" fill="none" stroke="#8fae36" stroke-width="10" stroke-opacity="0.55" filter="url(#blur3)"/>
</g>
<path fill="#f5dcb9" d="M243.0,492.0 C239.2,494.2 237.0,500.7 235.0,505.0 C233.0,509.3 231.5,511.3 231.0,518.0 C230.5,524.7 230.5,536.5 232.0,545.0 C233.5,553.5 236.2,561.7 240.0,569.0 C243.8,576.3 249.7,583.3 255.0,589.0 C260.3,594.7 265.7,598.3 272.0,603.0 C278.3,607.7 285.7,612.3 293.0,617.0 C300.3,621.7 308.5,627.2 316.0,631.0 C323.5,634.8 331.3,637.5 338.0,640.0 C344.7,642.5 350.3,646.7 356.0,646.0 C361.7,645.3 370.5,643.7 372.0,636.0 C373.5,628.3 372.0,612.7 365.0,600.0 C358.0,587.3 340.8,571.7 330.0,560.0 C319.2,548.3 309.2,539.2 300.0,530.0 C290.8,520.8 282.0,511.3 275.0,505.0 C268.0,498.7 263.3,494.2 258.0,492.0 C252.7,489.8 246.8,489.8 243.0,492.0 Z" filter="url(#soft)"/>
<path fill="url(#cavG)" d="M244.5,518.0 C242.8,523.2 245.8,537.2 247.5,545.0 C249.2,552.8 251.2,558.8 255.0,565.0 C258.8,571.2 265.0,577.2 270.0,582.0 C275.0,586.8 280.0,590.5 285.0,594.0 C290.0,597.5 295.0,600.0 300.0,603.0 C305.0,606.0 309.7,609.0 315.0,612.0 C320.3,615.0 325.8,618.0 332.0,621.0 C338.2,624.0 346.7,630.5 352.0,630.0 C357.3,629.5 366.0,626.3 364.0,618.0 C362.0,609.7 350.7,593.0 340.0,580.0 C329.3,567.0 311.3,550.3 300.0,540.0 C288.7,529.7 279.0,522.3 272.0,518.0 C265.0,513.7 262.6,514.0 258.0,514.0 C253.4,514.0 246.2,512.8 244.5,518.0 Z" filter="url(#soft)"/>
<path fill="#c98f58" d="M270.0,518.0 C262.2,524.2 270.5,530.0 273.0,537.0 C275.5,544.0 281.3,553.5 285.0,560.0 C288.7,566.5 290.5,570.7 295.0,576.0 C299.5,581.3 306.2,587.0 312.0,592.0 C317.8,597.0 322.6,600.7 330.0,606.0 C337.4,611.3 346.3,618.0 356.6,624.0 C366.9,630.0 379.8,637.3 392.0,642.0 C404.2,646.7 417.7,648.8 430.0,652.0 C442.3,655.2 456.2,659.0 466.0,661.0 C475.8,663.0 479.2,664.8 489.0,664.0 C498.8,663.2 511.2,658.5 525.0,656.0 C538.8,653.5 556.3,650.7 572.0,649.0 C587.7,647.3 603.6,647.5 619.0,646.0 C634.4,644.5 650.8,643.2 664.6,640.0 C678.4,636.8 689.6,630.4 702.0,627.0 C714.4,623.6 728.7,620.8 739.0,619.6 C749.3,618.4 755.7,622.5 764.0,619.6 C772.3,616.7 780.7,608.3 789.0,602.0 C797.3,595.7 808.5,587.3 814.0,582.0 C819.5,576.7 817.5,573.0 822.0,570.0 C826.5,567.0 834.8,567.2 841.0,564.0 C847.2,560.8 853.8,557.2 859.0,551.0 C864.2,544.8 869.3,533.7 872.5,527.0 C875.7,520.3 877.6,517.2 878.0,511.0 C878.4,504.8 875.0,500.5 875.0,490.0 C875.0,479.5 875.6,458.5 877.8,448.0 C880.0,437.5 883.5,433.7 888.0,427.0 C892.5,420.3 901.5,414.2 905.0,408.0 C908.5,401.8 908.5,395.5 908.8,390.0 C909.1,384.5 908.3,380.0 907.0,375.0 C905.7,370.0 903.2,365.3 901.0,360.0 C898.8,354.7 896.0,348.9 893.8,343.0 C891.6,337.1 889.9,331.2 888.0,324.4 C886.1,317.6 885.0,308.9 882.5,302.0 C880.0,295.1 876.4,288.0 873.0,283.0 C869.6,278.0 866.3,276.0 862.0,272.0 C857.7,268.0 852.7,262.5 847.0,259.0 C841.3,255.5 834.3,251.7 828.0,251.0 C821.7,250.3 814.5,246.8 809.0,255.0 C803.5,263.2 799.8,275.8 795.0,300.0 C790.2,324.2 792.5,373.3 780.0,400.0 C767.5,426.7 743.3,443.3 720.0,460.0 C696.7,476.7 670.0,491.3 640.0,500.0 C610.0,508.7 576.7,511.2 540.0,512.0 C503.3,512.8 456.7,507.0 420.0,505.0 C383.3,503.0 345.0,497.8 320.0,500.0 C295.0,502.2 277.8,511.8 270.0,518.0 Z"/>
<g fill="none" stroke-linecap="round"><path stroke="#f3c697" stroke-width="2.2" d="M378,535Q368,542 368,536M600,630Q612,624 610,632M433,637Q442,635 441,638M804,351Q793,345 794,353M362,571Q363,563 367,567M685,594Q690,589 689,589M402,647Q412,645 407,641M660,559Q672,555 672,560M745,464Q735,463 740,459M767,464Q767,472 768,472M285,509Q292,511 292,511M824,444Q828,433 830,435M827,289Q825,280 822,283M534,618Q536,631 540,629M799,312Q811,308 809,306M792,546Q795,536 798,538M651,617Q663,606 653,605M616,584Q627,578 627,578M749,477Q750,467 754,469M892,370Q889,383 886,382M680,576Q690,577 686,572M656,548Q653,534 660,536M723,459Q733,461 727,465M429,562Q442,566 435,571M839,265Q833,252 829,258M589,624Q597,626 593,629M384,544Q374,536 375,535M747,496Q759,492 753,488M705,528Q696,529 700,533M768,525Q765,535 761,529M563,606Q577,607 572,600M885,402Q874,410 878,413M405,572Q412,575 411,576M652,623Q654,634 648,631M682,620Q691,624 690,619M732,591Q733,598 733,598M321,504Q314,504 315,505M849,497Q840,504 840,497M379,562Q386,566 387,564M348,561Q354,559 352,557M494,606Q490,618 495,618M664,643Q668,635 664,635M585,620Q577,630 575,622M412,649Q415,640 417,641M701,607Q709,607 708,605M511,580Q499,576 504,571M749,572Q756,579 749,580M329,559Q331,572 325,569M801,430Q813,433 813,431M469,606Q459,610 459,604M490,626Q495,616 498,621M832,390Q829,378 825,384M747,615Q755,624 756,622M588,561Q592,568 593,567M836,474Q841,487 835,486M409,520Q401,510 405,508M680,537Q677,530 681,530M533,556Q541,555 541,556M821,551Q814,555 814,556M837,538Q845,541 843,537M808,290Q813,298 808,298M524,536Q527,542 524,542M879,327Q870,335 870,335M841,376Q845,364 841,364M804,581Q808,576 806,575M393,577Q401,569 402,574M613,607Q623,605 623,603M377,544Q387,539 387,540M378,521Q384,525 384,521M676,587Q667,576 675,575M669,581Q674,594 678,589M714,489Q706,499 703,494M873,345Q861,350 865,354M362,603Q363,597 365,597M636,595Q647,598 646,598M327,497Q322,504 324,505M555,542Q562,532 564,538M336,610Q338,617 341,614M766,499Q762,505 761,504M763,466Q761,457 766,459M646,539Q646,555 654,548M321,593Q315,585 313,589M348,591Q338,586 345,583M703,533Q699,519 694,524M808,501Q819,509 820,506M356,526Q366,516 367,526"/><path stroke="#f3c697" stroke-width="2.1" d="M311,575Q318,582 312,582M711,544Q707,550 706,549M789,327Q797,330 796,330M800,419Q806,408 799,408M889,371Q889,380 887,379M511,621Q510,631 506,629M445,592Q454,604 446,604M641,558Q649,553 645,551M790,601Q794,595 791,595M671,565Q678,574 670,574M761,553Q754,556 754,556M527,614Q526,626 532,622M419,519Q409,517 412,514M477,558Q483,566 484,564M700,568Q709,558 712,562M553,594Q539,588 541,597M698,567Q682,572 692,578M562,619Q568,616 565,614M440,641Q441,633 443,634M403,523Q414,518 412,515M673,494Q674,508 669,506M684,526Q691,515 684,515M797,516Q793,523 791,519M838,448Q845,454 843,455M531,632Q525,637 530,638M900,352Q894,359 897,360M564,556Q554,553 555,557M897,394Q901,400 901,400M841,450Q846,460 841,460M849,462Q852,453 846,455M865,312Q859,310 860,309M757,508Q757,521 764,516M758,466Q759,459 759,459M491,599Q490,608 485,604M441,536Q450,533 450,536M536,535Q528,544 528,544M288,507Q293,517 296,511M663,518Q670,513 667,511M823,544Q839,544 833,552M827,503Q816,516 826,516M879,323Q868,321 872,317M354,592Q348,600 346,597M857,427Q853,418 850,422M792,524Q802,516 798,514M569,561Q561,551 559,558M874,366Q886,357 887,364M848,321Q842,324 842,324M524,621Q509,626 516,631M856,313Q865,308 864,306M805,334Q808,342 804,341M519,573Q527,582 528,575M594,554Q606,547 605,556M799,578Q805,569 802,568M321,515Q320,524 324,522M637,538Q640,526 644,529M570,630Q582,629 579,624M512,533Q510,541 514,540M499,601Q508,596 509,597M774,553Q764,558 767,561M487,586Q476,577 483,575M654,509Q643,505 643,506M623,638Q634,646 633,637M624,646Q627,638 630,641M683,496Q693,497 689,502M855,386Q862,389 859,391M503,551Q503,561 507,560M821,277Q829,272 829,273M811,450Q806,457 805,456M661,541Q661,533 658,534M834,367Q844,376 836,378M729,554Q718,546 721,544M826,425Q832,429 833,428M340,570Q329,579 329,570M498,535Q507,523 500,522M415,594Q421,593 421,593M673,608Q678,603 679,604M586,632Q589,640 587,641M389,558Q392,569 392,569M812,518Q805,528 803,526M319,497Q327,507 329,504M332,523Q336,531 339,527M592,613Q608,616 603,607M765,479Q767,492 760,489M634,620Q643,623 642,625M840,456Q839,464 837,463M513,606Q523,608 522,604M432,506Q426,514 424,509M459,643Q451,652 459,652M824,256Q811,261 812,253M802,507Q807,493 812,499M723,479Q720,471 723,471M573,646Q572,655 568,651M701,498Q688,497 690,492M812,298Q821,306 821,299M823,449Q820,439 817,442M856,414Q854,420 852,419M872,372Q884,367 885,368M424,640Q430,646 431,643M758,435Q758,427 762,429M606,553Q606,541 612,545M748,474Q734,482 736,472M459,538Q463,549 464,548M640,550Q632,541 634,540M375,544Q382,543 382,545M904,379Q905,371 904,371M632,618Q625,622 627,624M412,533Q420,530 418,527M451,644Q456,650 452,651M831,535Q824,535 824,534M387,595Q394,605 396,598M443,514Q457,515 454,509M756,566Q746,559 753,556M707,506Q700,503 701,501M479,558Q487,557 485,561M858,425Q871,425 866,431"/><path stroke="#e8ae7a" stroke-width="1.9" d="M877,406Q875,397 879,399M438,599Q443,591 437,592M719,609Q729,608 729,606M858,355Q865,354 865,353M818,450Q816,441 820,442M417,620Q429,618 428,622M618,630Q609,635 609,630M418,615Q410,613 411,616M465,594Q466,587 467,587M715,542Q726,550 720,553M729,501Q737,503 736,499M475,593Q478,587 478,586M796,473Q787,472 787,473M411,567Q414,560 416,562M702,539Q694,535 695,540M656,540Q652,545 652,546M537,629Q529,625 534,623M811,513Q818,508 814,507M360,569Q362,575 362,575M339,522Q350,521 346,527M828,382Q832,373 828,373M378,628Q377,639 378,639M518,547Q528,538 521,536M811,438Q809,452 816,449M540,605Q528,600 530,607M829,491Q834,504 836,502M505,531Q503,525 503,524M818,276Q816,263 811,268M849,394Q845,380 840,388M477,555Q486,560 486,560M888,343Q889,334 892,337M615,636Q623,639 621,641M413,601Q422,592 423,598M312,510Q301,512 304,505M844,318Q840,310 845,311M451,535Q458,541 453,543M569,595Q579,604 574,607M535,534Q526,543 532,544M451,644Q438,649 446,653M333,567Q326,573 330,575M889,406Q885,414 887,415M556,586Q552,598 550,597M741,590Q755,591 753,587M840,287Q833,287 833,287M846,380Q843,367 849,369M474,542Q484,539 484,542M436,539Q433,529 431,530M331,591Q342,592 342,592M391,589Q383,600 381,592M473,530Q472,543 468,541M312,562Q313,576 306,572M462,594Q464,604 468,599M439,648Q438,641 438,641M370,504Q377,505 376,507M755,587Q752,580 756,581M689,493Q698,489 697,495M796,340Q787,339 789,343M347,550Q340,556 339,553M467,533Q468,526 470,528M489,544Q496,539 495,539M510,617Q509,626 512,625M543,572Q538,578 541,579M519,557Q515,548 515,548M487,558Q495,547 497,555M814,531Q822,527 820,533M475,603Q482,592 485,596M726,563Q715,568 718,572M302,571Q301,583 306,580M350,615Q359,614 356,611M866,383Q855,379 861,376M872,427Q879,432 879,428M840,341Q827,346 832,351M526,521Q516,510 514,519M533,539Q542,545 543,543M800,599Q786,596 792,590M338,597Q338,603 338,603M389,610Q388,596 382,601M714,614Q727,613 722,608M521,600Q515,599 515,598M791,475Q793,465 795,466M840,281Q838,290 835,287M508,606Q508,613 508,613M731,590Q736,582 731,582M629,609Q627,617 624,616M407,506Q414,506 413,509M550,655Q560,645 556,643M379,559Q376,551 378,551M801,430Q802,440 806,437M453,550Q445,551 448,555M453,515Q442,513 446,520M526,565Q532,578 536,571M800,545Q803,535 805,536M866,408Q867,396 872,400M785,543Q791,536 792,538M316,589Q308,595 314,597M824,463Q816,475 813,469M569,608Q565,618 563,616M644,578Q633,573 636,570M682,585Q679,576 681,576M794,364Q786,374 783,369M328,608Q334,597 331,596M627,507Q638,500 639,505"/><path stroke="#d99a62" stroke-width="2.4" d="M414,574Q422,578 421,572M417,582Q430,579 428,586M296,513Q296,505 300,508M796,281Q804,294 807,284M834,369Q818,374 823,364M634,620Q622,618 625,614M408,541Q407,527 412,529M650,603Q644,606 644,606M265,521Q275,530 276,522M414,633Q408,643 406,637M682,591Q673,582 671,584M802,563Q813,564 810,559M765,440Q757,445 757,445M889,390Q878,396 879,389M383,506Q382,497 378,500M888,337Q887,345 883,343M510,639Q519,631 512,630M873,486Q869,475 875,477M696,579Q694,585 693,584M384,573Q384,562 380,564M575,598Q575,585 573,585M655,569Q643,564 646,572M588,589Q580,594 583,596M353,501Q349,508 347,505M805,277Q812,286 809,288M807,487Q806,477 811,480M475,508Q482,513 482,513M805,482Q811,478 811,482M376,621Q376,630 380,627M625,555Q631,563 633,558M828,398Q836,403 834,405M822,509Q814,501 816,499M636,554Q637,567 633,566M391,602Q392,592 396,595M326,561Q334,566 331,568M751,474Q751,489 744,483M742,575Q734,578 737,580M772,511Q769,519 766,517M745,470Q736,475 736,474M528,639Q518,641 518,639M424,587Q430,593 428,594M750,590Q746,584 744,587M750,472Q743,468 744,472M688,542Q680,535 680,536M415,600Q421,606 422,602M388,531Q393,543 397,537M646,534Q641,529 640,531M772,472Q764,481 762,474M806,455Q793,450 797,446M560,527Q556,521 558,520M676,592Q673,599 674,599M774,439Q782,441 778,444M583,527Q587,538 583,538M725,531Q718,519 715,524M487,628Q480,623 482,621M661,505Q655,510 659,511M864,403Q855,403 858,408M873,353Q875,346 872,347M458,553Q466,549 466,552M811,440Q800,441 800,439M791,565Q784,577 791,577"/><path stroke="#d99a62" stroke-width="1.6" d="M623,562Q618,557 617,557M470,623Q461,622 461,623M393,578Q402,566 394,566M740,483Q728,494 728,484M555,623Q561,625 561,624M848,389Q836,385 837,391M863,379Q856,389 854,387M841,416Q829,413 832,409M613,526Q625,535 615,538M382,582Q381,591 378,589M656,635Q661,640 660,640M396,602Q394,614 389,609M838,492Q833,497 832,493M844,288Q838,284 838,288M676,567Q666,561 667,560M825,395Q813,391 813,392M848,408Q860,414 854,417M655,607Q663,612 658,614M706,519Q705,532 701,530M781,533Q779,544 775,541M643,495Q652,501 648,503M554,584Q546,583 546,584M819,415Q820,407 824,410M717,496Q700,496 707,504M784,475Q779,484 777,479M763,533Q770,547 760,545M487,589Q480,591 481,593M376,508Q374,497 370,501M509,543Q516,548 517,544M828,425Q818,433 823,435M542,523Q528,526 531,518M713,481Q719,477 720,480M376,528Q370,530 370,530M526,656Q526,644 526,644M732,588Q737,599 741,592M503,593Q509,601 511,596M829,385Q820,389 823,392M535,528Q546,538 538,540M840,323Q838,336 833,332M438,539Q433,530 432,531M850,398Q844,405 843,402M819,552Q810,554 811,550M873,425Q878,421 879,421M802,563Q790,553 799,550M810,389Q811,397 815,393M644,561Q631,552 641,549M621,535Q620,542 621,542M833,332Q831,343 836,341M671,541Q665,546 667,547M463,634Q454,631 456,628M722,457Q730,457 728,461M794,580Q784,574 784,579M684,544Q691,544 689,547M599,550Q604,540 606,542M717,561Q709,555 714,553M532,625Q538,638 542,630M415,592Q402,595 407,600M449,517Q443,523 448,524M871,385Q877,390 877,385M484,582Q476,579 478,577M432,598Q432,605 432,605M604,559Q598,561 597,560M869,456Q882,449 881,457M367,610Q375,621 377,614M761,501Q754,502 754,502M496,529Q490,538 488,533M381,597Q383,590 385,591M506,590Q507,582 507,582M830,454Q820,444 819,454M703,614Q699,626 704,626M523,577Q514,586 515,587M776,554Q785,550 781,547M784,469Q792,462 793,467M777,518Q767,526 766,525M519,657Q527,652 525,650M510,539Q516,549 518,541M835,387Q837,396 838,395M646,561Q635,565 635,565M616,618Q622,609 617,609M563,569Q565,555 559,557M342,595Q346,601 347,599M546,562Q546,547 539,552M667,621Q664,627 668,627M818,286Q814,293 812,289M628,622Q616,618 616,619M587,565Q589,557 585,558M576,629Q587,635 586,628M684,522Q677,514 684,514M802,538Q814,545 812,536M535,599Q544,591 537,590M341,508Q334,514 333,510M728,605Q717,609 718,611M282,534Q286,521 279,523M708,533Q716,540 709,541M448,577Q441,589 449,589M395,605Q390,596 388,600M831,433Q827,438 826,436M429,547Q430,539 431,539M840,325Q829,324 830,329M511,619Q503,625 504,625M722,559Q726,546 718,549M857,402Q844,396 852,392M566,582Q573,578 569,576M849,425Q862,420 860,428M641,562Q628,568 628,562M778,507Q784,497 783,497M348,526Q339,531 342,533M413,541Q426,538 422,546M473,639Q474,648 477,647M347,522Q343,526 343,527M739,490Q734,497 733,497M868,397Q862,399 861,398"/><path stroke="#e2a56e" stroke-width="1.7" d="M700,504Q689,512 694,515M666,568Q676,562 673,560M662,564Q665,554 662,554M333,581Q343,578 342,578M897,367Q906,375 898,376M331,580Q337,575 332,574M602,580Q588,580 593,586M450,571Q451,580 451,580M406,576Q402,569 404,568M457,641Q468,630 458,629M546,569Q554,580 546,580M524,531Q519,540 524,540M473,555Q481,556 479,559M829,356Q835,346 837,348M482,583Q483,571 483,571M452,535Q448,545 446,543M592,587Q595,597 598,594M554,533Q563,545 566,537M360,521Q369,515 369,521M866,482Q871,489 867,489M469,519Q464,507 467,507M843,375Q832,374 833,372M812,484Q810,494 807,491M501,569Q504,575 505,575M510,533Q511,526 507,528M685,494Q674,489 674,494M616,588Q622,585 622,586M808,334Q811,344 811,344M785,513Q784,498 792,504M324,506Q326,499 323,500M430,602Q430,610 431,610M276,538Q291,537 285,530M823,274Q838,280 835,270M468,592Q474,580 477,584M812,568Q813,559 812,559M675,493Q689,494 684,487M359,596Q368,602 362,604M333,571Q342,576 341,569M586,631Q588,624 590,625M421,516Q416,524 414,522M822,524Q814,529 815,523M304,565Q291,563 295,571M459,571Q465,568 466,570M770,464Q762,464 765,460M690,619Q694,612 689,612M489,620Q494,615 493,614M402,536Q397,543 396,543M555,592Q562,602 555,602M535,604Q539,594 542,598M486,548Q495,546 490,543M360,526Q353,531 357,532M302,565Q287,567 291,560M692,617Q685,614 686,619M795,342Q794,334 791,337M565,549Q560,539 559,541M577,605Q572,598 574,598M414,550Q418,537 423,541M446,640Q432,643 436,635M844,268Q847,273 848,272M832,343Q832,352 836,350M770,427Q779,419 780,425M614,620Q614,627 617,626M644,539Q638,534 637,537M542,546Q541,539 538,541M786,525Q783,536 784,536M861,415Q855,424 853,422M687,563Q680,565 680,567M627,572Q623,581 620,577M287,569Q297,576 297,569M667,529Q661,525 660,527M349,570Q341,565 347,563M630,601Q631,591 635,596M525,595Q515,596 519,590M520,602Q518,589 525,593M841,489Q852,500 853,490M766,505Q775,501 769,498M837,445Q844,442 843,446M416,563Q406,558 412,555M809,477Q799,480 802,474M422,566Q412,569 415,573M799,292Q801,285 798,285M845,465Q845,453 839,457M809,524Q807,516 804,519M850,415Q844,424 842,420M839,346Q833,353 839,353M732,493Q719,491 721,487M725,577Q729,565 732,566M831,511Q839,503 837,502M845,549Q835,545 834,546M772,554Q765,553 767,550M371,577Q377,585 379,581M812,427Q802,426 805,422M693,502Q683,502 684,499M780,489Q787,484 785,483M669,511Q667,494 660,502M742,531Q735,529 737,526M671,531Q680,535 679,530M495,541Q505,538 503,544M432,567Q430,581 424,574M856,315Q860,302 856,302M857,363Q849,359 850,358M806,446Q794,443 797,450M428,545Q431,532 435,534M592,627Q594,620 590,622M804,407Q806,419 799,416M768,619Q776,606 768,607M502,590Q491,595 492,596M762,432Q756,419 764,421M822,485Q824,472 819,474M557,577Q565,574 565,574"/><path stroke="#e8ae7a" stroke-width="2.1" d="M378,631Q374,638 372,634M406,585Q420,587 417,580M722,560Q728,564 727,565M808,501Q804,511 808,511M359,555Q354,548 354,548M445,550Q452,560 454,556M472,571Q480,573 480,570M471,552Q483,551 483,550M847,397Q844,403 847,403M806,504Q813,504 812,506M366,508Q365,518 362,517M879,308Q887,314 885,316M350,557Q358,554 358,557M382,525Q395,519 390,515M787,442Q780,449 783,450M686,556Q679,546 676,551M692,555Q683,563 683,563M875,427Q883,426 880,423M468,568Q470,575 471,575M412,556Q417,566 414,566M760,437Q764,444 761,444M722,611Q731,611 727,615M804,502Q811,507 811,506M522,635Q527,648 531,642M582,551Q578,539 585,541M824,523Q817,516 818,515M359,522Q369,523 365,527M742,608Q732,600 735,598M518,556Q515,567 513,566M302,539Q304,551 308,549M596,595Q583,592 588,588M739,526Q730,515 738,515M726,511Q735,509 734,508M318,516Q313,511 314,510M289,531Q282,544 292,542M463,584Q464,592 462,592M782,500Q778,504 779,505M369,545Q370,556 374,555M719,500Q727,495 722,493M823,397Q816,403 816,403M704,494Q706,486 709,489M836,531Q829,536 828,535M606,523Q606,533 604,533M477,649Q479,641 482,645M452,538Q451,551 451,551M725,616Q733,620 734,620M494,643Q480,644 484,650M753,552Q766,549 764,556M837,328Q838,337 837,337M891,402Q900,410 901,407M553,550Q537,549 542,556M585,540Q591,541 591,542M606,576Q599,590 595,581M463,590Q463,577 458,580M894,382Q895,374 893,375M749,476Q754,482 756,481M603,582Q605,575 602,575M785,502Q779,496 783,495M348,551Q350,541 345,542M399,531Q407,529 405,527M346,582Q352,577 349,575M721,498Q719,491 719,491M765,548Q760,560 756,553M829,544Q818,550 821,553M578,586Q575,579 573,582M464,569Q454,568 458,573M680,582Q691,579 690,585M505,593Q510,603 504,602M880,338Q867,328 878,326M735,466Q747,457 746,467M712,481Q720,492 715,493M495,601Q488,594 487,601M487,539Q484,551 479,547M435,522Q443,531 441,532M476,569Q463,561 464,570M324,567Q320,555 322,555M489,548Q493,560 497,554M873,418Q862,424 868,427M641,547Q633,543 634,542M396,646Q400,636 403,638M708,564Q714,557 715,561M724,499Q719,509 716,507M417,631Q415,640 414,640M319,553Q322,546 323,546M435,548Q433,557 437,555M844,468Q845,457 841,458M281,534Q286,529 288,531M717,593Q718,583 718,583M541,551Q552,547 546,543M845,275Q838,269 837,274M816,277Q822,274 821,273M628,518Q620,526 619,524M593,591Q585,598 592,599M756,529Q760,519 763,523M454,597Q447,591 446,597M630,623Q637,631 638,630M874,451Q881,443 876,442M801,474Q793,462 791,472M593,605Q589,619 597,615M344,584Q351,584 351,583M312,563Q306,567 306,568M375,601Q382,595 383,596M778,491Q776,478 773,481M833,506Q826,500 830,498M518,624Q525,636 529,629M815,425Q804,422 805,427M792,337Q795,348 799,342M699,581Q704,591 699,591M699,586Q689,591 689,585M536,606Q541,598 535,599M806,353Q812,343 809,342M822,328Q813,320 813,320M841,427Q852,419 849,417M864,346Q861,335 862,335M666,642Q669,628 661,632M467,592Q470,602 472,601"/><path stroke="#efbc8a" stroke-width="2.0" d="M834,449Q828,458 834,457M343,540Q350,544 350,540M678,493Q670,487 672,486M437,537Q438,546 441,544M385,528Q375,534 374,531M403,595Q404,605 399,602M878,354Q877,365 881,364M527,615Q520,609 525,607M693,551Q682,541 690,539M624,633Q613,636 613,635M593,614Q577,612 582,620M828,501Q822,502 822,501M858,518Q856,523 854,522M672,596Q661,600 663,603M841,373Q849,382 849,381M802,338Q800,323 793,330M562,552Q556,563 555,562M338,540Q329,555 340,553M548,563Q555,561 554,564M830,499Q828,508 832,507M834,272Q826,270 827,269M326,589Q318,597 321,599M423,523Q424,517 425,518M561,617Q562,609 558,611M292,526Q282,524 284,529M820,475Q819,469 819,469M619,529Q624,538 620,539M435,519Q440,515 440,515M545,641Q553,638 553,641M646,574Q645,582 646,582M761,449Q757,457 763,456M774,553Q779,565 782,558M537,628Q522,631 528,637M804,399Q809,412 800,408M762,483Q758,476 757,476M555,603Q561,592 560,592M399,610Q390,604 395,602M568,628Q561,640 570,639M463,655Q471,656 470,654M723,566Q712,572 711,567M858,301Q848,306 851,309M582,509Q594,504 595,509M830,515Q838,514 838,516M741,592Q734,583 737,581M351,522Q343,518 342,520M839,567Q835,554 831,558M875,458Q868,457 870,454M643,530Q653,525 649,522M835,492Q840,495 841,494M767,524Q770,513 768,513M587,560Q592,562 592,561M810,365Q813,375 809,375M409,561Q412,549 409,549M722,477Q729,486 731,485M443,612Q456,621 446,624M318,542Q310,546 312,548M454,570Q460,560 462,563M518,580Q510,575 509,577M401,625Q410,627 409,623M830,410Q820,401 828,400M464,519Q472,521 471,517M861,321Q867,326 867,322M811,266Q818,262 818,263M723,486Q716,477 716,477M647,585Q637,582 637,583M517,653Q520,639 526,647M624,636Q634,641 634,641M820,289Q827,295 821,296M521,515Q521,525 517,523M754,560Q745,569 743,563M338,593Q345,597 345,597M430,591Q429,582 433,583M292,523Q302,518 298,515M672,519Q664,525 664,520M823,286Q812,290 815,283M418,603Q410,607 416,609M477,630Q485,633 485,631M812,552Q813,566 818,564M805,418Q810,428 811,428M563,534Q547,528 551,538M490,526Q492,538 497,534M537,608Q548,608 548,610M610,559Q614,569 607,567M396,527Q408,520 403,517M840,387Q834,393 833,392M792,390Q794,401 789,399M661,547Q652,544 655,541M837,252Q842,265 836,264M801,363Q797,357 795,360M592,629Q582,624 587,621M489,598Q494,589 488,590M773,523Q759,519 762,527M440,514Q453,519 451,511M871,395Q861,391 861,391M868,358Q879,359 876,363M361,527Q362,536 366,533M794,385Q792,374 793,374M636,538Q627,544 633,547M738,506Q748,503 745,509M353,522Q364,528 364,527M818,294Q828,287 822,284M386,626Q397,636 391,638M418,629Q423,636 424,631M857,490Q851,485 850,488M402,510Q411,509 408,505M722,622Q731,620 730,618M515,610Q517,623 517,623M812,581Q801,584 801,585M698,527Q707,521 707,528M315,543Q316,552 312,551M799,398Q786,397 789,392M758,493Q765,501 760,502M707,492Q717,488 712,484M824,535Q835,528 835,533M638,516Q637,510 636,510"/><path stroke="#f3c697" stroke-width="1.6" d="M447,602Q458,600 457,605M702,557Q715,561 709,566M599,551Q606,550 604,547M541,653Q555,654 552,647M751,608Q747,598 754,600M435,516Q433,506 430,508M321,548Q329,549 327,544M756,468Q750,482 759,479M564,646Q567,653 562,652M746,608Q744,620 739,617M750,454Q758,449 756,447M692,625Q683,617 682,623M808,387Q809,398 812,397M866,494Q873,505 865,504M689,539Q679,542 678,541M798,574Q805,583 807,581M658,554Q655,566 661,564M293,563Q293,573 290,571M453,575Q444,579 446,581M525,610Q535,597 525,598M807,363Q800,359 802,357M431,617Q425,620 424,617M445,547Q458,552 452,557M869,464Q871,473 867,471M381,571Q392,576 388,580M654,611Q664,614 661,608M764,501Q759,489 759,489M481,532Q476,541 474,538M625,622Q616,629 615,625M844,500Q847,489 845,489M667,506Q674,504 674,504M724,469Q714,471 715,467M826,516Q819,507 824,506M419,608Q408,606 409,610M713,484Q707,478 709,477M656,594Q651,603 649,600M687,616Q678,612 683,609M325,531Q334,537 328,540M690,479Q687,487 684,483M845,307Q852,300 850,299M474,542Q465,535 464,542M839,273Q830,279 834,281M867,352Q859,351 859,352M767,525Q777,533 770,535M542,633Q534,641 533,635M754,593Q765,590 765,591M301,530Q288,525 291,534M410,616Q402,625 409,626M814,488Q823,479 824,483M340,511Q333,513 332,512M663,603Q661,616 668,612M740,541Q755,539 749,532M666,506Q676,501 674,508M495,532Q491,546 486,539M689,515Q686,521 687,522M837,390Q831,393 831,394M624,631Q628,625 629,628M858,489Q863,483 864,484M876,345Q879,353 876,353M555,637Q544,635 549,631M846,353Q839,354 839,352M837,499Q828,504 835,506M782,533Q790,532 786,528M831,480Q825,490 822,485M402,594Q391,593 394,589M384,603Q387,612 390,607M466,592Q476,589 474,594M554,518Q553,533 546,527M724,492Q740,487 736,497M834,306Q827,312 832,314M380,615Q384,628 389,624M678,526Q674,516 671,520M434,545Q427,553 430,554M506,607Q512,597 514,602M478,575Q473,568 476,567M825,468Q830,476 830,476M428,521Q415,520 419,527M623,583Q614,578 617,575M626,623Q630,612 633,614M788,469Q780,479 778,473M488,588Q498,587 495,592M465,606Q455,605 459,600M573,587Q562,578 561,586M396,543Q401,533 403,534M446,622Q455,612 448,611M378,606Q379,597 383,601M314,511Q299,519 301,509M606,610Q599,613 600,614M840,485Q845,492 847,487M790,435Q780,438 779,436M538,592Q537,602 538,601M428,586Q420,592 421,593M788,568Q783,558 785,557M427,572Q439,573 439,574M807,464Q815,473 811,475M443,534Q439,520 445,521M821,374Q824,361 828,364M524,548Q530,554 524,555M872,290Q864,298 870,300M421,513Q412,522 410,516M653,580Q659,582 660,581M821,431Q816,441 813,438M698,494Q707,499 701,502M513,651Q514,658 516,657M782,440Q795,447 790,450M574,553Q564,559 563,555M517,548Q517,538 521,541M812,393Q819,395 815,398M581,511Q576,517 579,518M425,585Q414,582 416,579M842,400Q832,400 833,403M538,605Q533,598 532,599M669,546Q675,542 672,540M474,654Q473,663 477,661M876,493Q867,494 871,498M780,593Q783,604 787,601M497,528Q488,521 492,519M374,507Q383,502 383,502M851,416Q850,403 850,403M539,544Q554,547 548,553M372,513Q378,529 383,519M862,406Q866,396 861,397"/><path stroke="#e2a56e" stroke-width="1.6" d="M484,629Q483,616 484,616M837,501Q832,492 829,497M809,556Q812,564 814,562M647,514Q635,513 639,519M388,574Q400,574 400,573M639,530Q647,528 645,532M812,393Q825,401 823,392M738,490Q749,485 749,484M787,484Q781,494 778,489M355,514Q348,507 353,506M601,544Q601,554 605,552M499,612Q489,622 488,614M512,599Q506,591 506,591M531,642Q523,636 522,638M556,590Q543,581 543,591M457,624Q451,621 451,623M889,354Q899,353 899,351M509,600Q515,584 520,593M711,492Q719,491 717,495M417,612Q432,615 425,621M687,487Q688,498 685,497M861,484Q854,488 855,488M739,500Q750,496 751,497M813,300Q811,308 808,306M779,441Q773,426 768,435M893,405Q888,396 889,396M571,594Q574,587 572,587M886,417Q879,419 881,415M406,585Q403,576 408,578M780,425Q775,419 774,421M460,640Q464,648 461,648M851,268Q848,262 847,263M856,380Q864,382 864,380M651,516Q646,507 646,507M861,411Q863,403 858,405M736,466Q726,462 728,468M302,503Q300,514 296,511M541,523Q543,515 545,516M789,464Q782,469 785,471M666,520Q658,527 660,528M475,627Q477,642 483,636M421,650Q408,654 411,646M884,367Q881,361 879,364M408,633Q394,634 398,627M323,548Q323,541 321,542M571,595Q578,585 571,586M624,586Q634,584 632,589M728,598Q722,599 723,597M361,545Q368,544 367,547M513,544Q522,544 522,544M822,443Q824,453 821,453M744,473Q735,475 737,470M804,451Q815,447 816,450M776,504Q774,493 780,496M677,585Q667,590 671,593M336,607Q327,606 331,602M837,431Q830,417 826,426M449,531Q453,543 457,536M724,551Q720,559 719,557M487,593Q493,584 494,585M587,564Q587,554 592,558M813,468Q812,460 811,460M319,533Q316,522 322,524M537,593Q536,581 540,582M831,256Q837,259 837,260M476,606Q481,614 482,613M301,549Q306,560 299,559M694,543Q700,546 700,544M507,579Q515,568 510,567M599,585Q588,595 587,588M820,540Q823,547 826,544M861,511Q867,516 868,513M428,625Q419,620 425,617M798,387Q796,402 790,397M806,574Q818,580 818,575M797,476Q790,481 790,481M723,620Q730,616 731,618M551,540Q545,529 550,529M525,634Q527,627 526,627M566,526Q568,514 573,519M622,577Q612,589 610,580M877,451Q881,443 876,444M594,617Q587,617 588,620M720,489Q730,484 730,485M705,520Q701,530 698,527M549,575Q550,582 551,582M823,548Q819,554 823,554M767,611Q758,608 758,611M367,524Q372,520 373,523M794,390Q808,382 798,379M628,579Q621,586 620,581M746,466Q740,457 744,456M448,619Q434,611 444,607M565,620Q575,626 573,628M691,576Q694,587 691,586M355,600Q346,599 346,600M838,265Q827,272 826,268M863,533Q862,526 860,527M718,571Q723,580 719,580M786,597Q799,597 797,602M645,642Q642,637 643,637M838,309Q846,306 847,308M341,613Q348,604 349,611M812,362Q807,355 805,360M367,560Q375,566 376,562M871,446Q869,460 863,456M857,515Q864,523 866,518M676,624Q671,632 669,626M671,628Q683,629 679,622M851,335Q848,347 844,343M828,314Q829,326 834,323M726,617Q723,606 719,611M534,645Q544,642 544,646M876,495Q871,485 870,486M359,568Q365,564 362,562M778,617Q772,606 774,605M872,353Q880,342 872,342M519,597Q509,597 513,592M521,549Q528,550 528,548M352,554Q350,562 348,562M649,534Q653,524 652,524M828,436Q819,446 824,448M772,572Q762,572 762,573M697,620Q689,623 691,625M418,629Q424,623 421,622M892,361Q898,364 898,361"/><path stroke="#e2a56e" stroke-width="2.2" d="M680,629Q691,633 689,626M759,492Q763,483 765,488M721,468Q712,458 714,457M862,374Q865,381 864,381M484,636Q492,646 489,647M550,565Q541,568 542,570M862,285Q872,288 872,288M460,616Q462,604 465,605M796,499Q804,495 801,493M415,591Q411,583 416,584M764,543Q768,531 760,534M772,548Q782,549 779,553M756,449Q750,441 753,440M458,596Q445,595 449,601M849,448Q841,445 846,442M531,546Q542,546 541,544M720,519Q726,526 728,521M713,495Q717,503 717,503M799,472Q786,471 790,466M390,645Q379,634 389,633M851,454Q852,446 855,448M691,551Q701,539 691,540M507,648Q500,649 500,650M614,618Q604,614 604,614M422,596Q414,594 415,598M832,269Q842,267 841,270M525,652Q529,647 531,651M629,530Q619,533 619,534M750,614Q739,611 743,607M664,513Q656,513 656,514M843,386Q847,395 845,395M789,423Q795,432 796,432M506,532Q503,541 504,541M855,313Q844,314 849,319M439,571Q445,567 445,571M599,551Q590,558 595,560M857,507Q849,496 858,497M878,356Q879,342 886,348M417,635Q422,647 426,644M883,409Q900,408 893,417M436,563Q430,551 436,550M463,543Q474,546 469,550M843,346Q832,350 838,354M809,541Q819,537 813,534M549,538Q554,552 559,545M808,372Q800,365 799,368M677,597Q682,607 680,608M300,548Q301,563 295,560M874,318Q865,312 866,319M379,585Q372,594 378,594M825,314Q814,322 813,316M431,578Q425,579 425,577M822,272Q822,285 816,281M854,279Q849,283 848,280M445,639Q449,644 447,645M388,528Q389,521 386,522M848,338Q853,328 856,333M759,517Q761,531 753,527M730,480Q729,470 725,474M482,646Q485,662 476,656M825,274Q818,280 817,280M444,633Q457,635 456,630M395,624Q389,620 392,618M853,509Q859,517 859,517M339,544Q351,552 343,555M396,616Q399,604 402,605M806,397Q813,392 814,395M515,578Q510,569 507,573M869,461Q877,463 875,458M872,516Q878,512 875,510M800,287Q798,277 802,278M817,574Q807,572 807,572M831,533Q825,536 825,533M567,563Q580,555 580,563M516,519Q518,533 510,529M885,362Q882,354 879,359M364,607Q356,612 360,614M465,526Q472,524 469,521M336,530Q346,535 345,536M627,644Q637,634 631,632M834,457Q842,455 841,458M556,647Q550,637 549,638M389,607Q396,601 390,600M770,564Q774,554 771,554M608,516Q600,522 599,520M582,588Q590,584 587,582M529,656Q534,651 534,652M448,577Q456,569 458,574M847,382Q840,388 840,387M510,577Q501,582 507,584M627,516Q630,524 629,525M625,616Q626,604 631,609M639,507Q631,502 630,504M895,412Q897,418 897,418M564,624Q576,625 571,631M314,513Q324,508 321,506M871,448Q878,440 875,438M465,556Q479,548 470,544M903,379Q905,394 897,389M728,578Q733,584 734,580M653,602Q655,590 649,594M777,490Q778,482 781,483M829,289Q828,276 824,278M819,545Q826,545 826,544M456,608Q448,605 448,608M542,634Q551,629 552,633M375,535Q374,543 378,541M512,574Q515,558 521,565M627,558Q639,554 637,552M320,553Q324,565 320,565M490,593Q498,597 498,594M774,581Q787,579 783,587M534,590Q528,593 527,593M613,633Q606,630 606,632"/><path stroke="#d99a62" stroke-width="1.9" d="M349,543Q349,551 346,550M743,484Q741,492 742,492M620,638Q616,632 615,632M830,464Q823,460 824,465M573,587Q583,591 582,586M827,421Q834,430 833,431M491,637Q503,636 503,635M697,493Q684,490 687,498M631,582Q637,576 632,576M444,580Q438,569 436,571M510,626Q509,636 508,636M485,625Q487,617 489,617M745,513Q742,519 742,519M880,452Q873,463 870,458M836,340Q825,343 825,343M719,542Q713,533 711,538M394,604Q409,604 404,597M828,325Q819,328 822,332M486,546Q483,536 484,536M422,609Q429,615 430,613M372,576Q377,565 381,571M651,604Q666,606 660,598M765,566Q753,565 754,563M710,581Q702,585 704,587M808,553Q813,544 815,546M836,328Q844,327 843,324M755,449Q758,457 758,457M611,574Q621,575 620,571M758,558Q768,553 764,550M590,528Q584,519 585,519M756,611Q756,621 757,621M746,582Q751,587 752,586M699,489Q710,484 710,489M620,601Q628,611 630,605M794,581Q797,567 790,571M299,534Q292,532 294,530M726,472Q725,478 726,478M833,278Q847,275 842,283M626,568Q638,572 638,572M461,538Q459,525 455,527M468,599Q478,610 480,605M778,585Q787,593 783,595M803,369Q805,375 802,375M784,521Q795,518 794,523M500,600Q501,607 501,607M702,613Q698,603 699,602M862,383Q865,377 864,376M697,475Q708,472 707,470M379,595Q386,589 387,593M372,605Q385,605 384,607M417,533Q407,526 406,528M797,489Q784,484 789,480M378,525Q382,512 385,514M786,606Q776,604 776,607M655,533Q659,544 661,543M567,628Q567,637 568,636M447,507Q454,512 455,509M769,436Q765,445 765,445M726,552Q735,556 736,553M533,540Q544,533 537,530M749,435Q758,438 757,440M505,642Q493,644 498,649M837,535Q835,548 835,548M315,526Q322,534 324,529M452,514Q444,525 451,526M534,578Q528,588 525,584M569,607Q560,614 559,611M676,507Q682,514 677,515M533,630Q539,619 535,619M863,350Q867,364 859,362M710,513Q706,505 709,505M632,518Q642,522 640,516M830,420Q824,429 826,430M749,474Q742,462 739,469M636,544Q629,552 630,552M419,643Q408,643 408,645M547,644Q541,648 540,646M887,348Q883,358 886,358M798,378Q799,388 800,388M613,554Q608,561 613,561M362,612Q353,605 357,603M766,497Q773,499 773,498M594,565Q601,566 600,567M563,601Q553,602 555,598M464,525Q475,523 475,524M785,511Q790,514 791,513M619,624Q609,631 609,631M842,562Q847,554 841,555M692,597Q689,584 688,585M805,418Q803,411 801,412M864,389Q863,399 861,398M560,588Q574,586 567,580M545,534Q551,530 552,532M861,373Q866,384 870,379M309,509Q304,519 303,519M618,568Q626,567 626,568M803,322Q812,331 814,327M874,359Q867,354 866,356M566,554Q554,560 553,556M316,551Q303,549 304,547M397,550Q403,559 405,557M376,581Q367,579 370,576M366,555Q369,570 375,562M800,502Q788,498 788,503M278,537Q287,534 282,531M822,397Q831,389 830,389M805,422Q813,429 813,422M815,330Q815,320 812,321M745,480Q738,490 735,485M792,413Q790,398 798,402M743,479Q735,471 734,473M477,634Q484,639 482,641M656,546Q643,544 646,540M580,624Q582,635 585,632M762,482Q768,491 770,484M798,390Q804,402 807,397M881,324Q871,321 875,317M837,546Q833,556 830,553M669,513Q655,513 660,519M576,648Q580,639 583,643M771,495Q780,484 782,492M656,514Q653,501 648,508M871,405Q868,414 868,414M603,594Q612,591 611,589M505,625Q517,618 511,615M338,521Q332,535 340,534M716,487Q709,498 707,495M563,641Q578,641 572,634M372,604Q363,613 367,615M865,440Q854,440 856,436M824,309Q832,320 825,321M852,352Q860,347 861,349"/><path stroke="#e2a56e" stroke-width="1.9" d="M354,605Q360,613 361,613M708,521Q696,521 700,515M737,496Q728,489 728,496M731,467Q725,472 727,473M520,549Q514,553 516,554M635,551Q638,539 641,542M863,279Q869,286 870,281M792,572Q786,578 785,573M385,519Q387,527 384,527M364,557Q371,558 370,559M412,633Q419,625 414,624M778,409Q788,410 786,406M844,274Q851,274 851,274M883,331Q880,338 880,338M829,351Q826,361 832,359M816,314Q807,321 813,323M412,595Q417,590 416,590M424,543Q420,531 425,531M437,524Q438,535 433,533M699,556Q695,565 693,564M844,335Q840,346 846,345M355,532Q362,532 361,530M655,549Q654,543 653,543M800,434Q794,435 794,435M862,415Q860,426 856,422M611,638Q602,632 605,629M693,631Q698,625 694,625M820,383Q812,373 814,372M615,614Q608,609 608,612M791,363Q790,373 787,371M671,632Q664,635 664,635M867,500Q859,495 859,500M669,603Q665,610 666,611M606,545Q594,548 594,548M758,446Q758,438 757,438M514,556Q507,564 510,565M727,585Q735,585 734,582M356,542Q355,526 363,532M668,536Q676,535 675,534M836,343Q825,340 826,338M521,524Q515,516 521,516M752,596Q741,601 747,604M671,486Q675,493 674,493M766,597Q758,595 760,592M590,629Q581,643 592,641M870,375Q866,365 871,365M733,568Q741,565 737,563M838,525Q838,533 837,533M449,650Q454,656 453,657M793,316Q802,325 794,326M710,572Q696,571 702,565M485,572Q474,578 474,578M473,654Q468,640 476,642M446,530Q440,538 439,532M871,509Q882,507 881,505M613,544Q624,554 614,555M726,600Q719,593 724,592M800,362Q795,352 799,352M860,306Q866,302 867,304M386,582Q375,585 376,581M524,642Q534,648 530,651M330,588Q335,592 335,592M741,476Q748,489 739,488M330,510Q336,519 338,514M815,379Q822,375 822,378M818,308Q818,297 820,298M291,540Q284,534 287,532M576,558Q579,568 580,568M551,630Q545,632 545,630M629,572Q639,581 639,572M681,625Q679,610 687,615M429,598Q439,603 439,600M551,579Q549,591 550,591M615,607Q622,616 619,617M809,421Q810,433 803,428M734,462Q719,465 725,470M802,521Q801,509 802,509M569,642Q580,646 573,650M663,556Q651,554 651,557M339,613Q348,603 350,610M681,552Q688,558 689,556M576,553Q582,550 581,549M354,542Q352,551 348,547M342,514Q330,513 330,514M529,538Q530,524 524,528M423,574Q430,585 432,582M833,527Q843,522 843,525M696,611Q700,602 699,602M481,574Q478,562 484,564M398,512Q394,501 397,501M460,619Q471,620 469,623M576,621Q564,613 571,610M578,539Q580,529 584,534M405,581Q402,589 406,588M310,515Q295,520 299,510M355,596Q359,604 362,599M791,419Q797,422 797,423M769,429Q763,433 763,434M514,532Q522,533 522,534M593,608Q592,597 597,599M298,514Q310,515 306,508M371,586Q376,602 366,598M848,372Q855,380 855,380M800,573Q789,573 793,578M514,550Q513,556 514,556M287,528Q281,524 280,525M386,601Q377,601 379,605M870,442Q876,450 875,451M696,508Q699,519 696,519M793,469Q802,473 801,468M601,577Q593,583 598,584M853,425Q853,418 850,420M803,345Q812,337 811,336M876,365Q867,375 873,376M496,558Q496,570 494,569"/><path stroke="#d99a62" stroke-width="2.2" d="M835,510Q836,502 839,504M632,642Q641,646 641,643M888,399Q890,392 891,393M405,552Q402,563 404,563M623,623Q632,619 633,622M518,632Q504,637 506,629M331,576Q339,581 339,581M754,601Q746,605 747,606M799,397Q790,408 797,410M837,470Q844,482 847,477M856,367Q848,372 849,366M643,514Q639,502 644,503M537,605Q543,618 538,618M374,543Q383,546 383,546M863,489Q849,491 854,497M374,547Q368,550 369,550M814,471Q813,483 819,480M316,514Q315,522 312,518M472,619Q480,614 480,616M847,271Q835,275 835,270M806,301Q811,308 812,308M645,585Q654,591 653,585M725,549Q721,556 720,555M359,521Q344,517 352,511M844,502Q843,510 840,507M391,596Q389,602 387,601M673,594Q678,602 679,602M499,576Q491,578 491,575M452,620Q442,615 443,613M475,658Q466,657 466,656M553,586Q553,574 554,575M330,531Q325,543 330,542M611,526Q609,534 609,534M727,542Q732,549 732,548M760,570Q762,563 761,563M316,583Q316,593 317,593M773,516Q776,509 773,508M851,404Q857,396 853,395M576,640Q580,651 580,650M805,537Q815,539 815,537M554,515Q558,505 562,511M796,535Q793,523 792,523M814,391Q812,405 806,398M403,595Q410,596 409,598M747,486Q743,492 745,492M874,465Q876,454 870,457M543,650Q547,638 549,639M862,432Q866,439 862,439M757,551Q766,548 764,546M471,622Q468,610 472,611M426,511Q435,506 435,507M813,348Q817,338 812,339M401,575Q406,581 401,581M367,555Q354,553 359,548M642,543Q648,550 649,546M469,630Q462,621 463,621M881,320Q886,316 887,316M711,472Q711,482 715,480M454,543Q450,535 454,534M526,564Q528,555 523,558M518,523Q514,511 510,515M646,580Q649,572 646,572M600,524Q612,516 611,525M388,620Q394,627 394,627M640,565Q630,571 634,574M402,560Q412,552 410,551M658,629Q644,635 652,640M861,300Q847,305 850,297M873,439Q867,444 870,446M506,570Q514,585 518,574M360,608Q362,620 356,618M348,543Q345,551 346,551M806,463Q812,450 816,458M618,513Q623,522 622,523M695,625Q705,627 705,627M883,346Q894,341 893,347M433,624Q443,631 443,630M767,520Q764,527 763,527M553,537Q559,527 552,527M862,438Q855,443 855,438M373,562Q374,549 370,550"/><path stroke="#efbc8a" stroke-width="1.7" d="M868,407Q858,413 859,414M535,537Q522,544 524,535M365,617Q373,627 375,625M883,410Q891,404 884,402M805,310Q794,305 794,304M825,507Q822,520 817,516M500,657Q508,654 503,651M502,530Q504,518 503,518M690,614Q703,612 702,610M783,397Q786,389 788,391M372,608Q381,611 380,612M730,493Q737,503 734,504M695,583Q695,575 698,576M748,603Q741,609 744,610M610,569Q596,567 601,574M778,519Q785,506 788,513M465,574Q476,569 474,576M362,580Q364,595 371,589M855,480Q843,476 849,472M324,538Q330,531 332,535M336,610Q342,613 343,611M431,538Q445,530 437,526M465,518Q472,511 472,517M810,311Q824,308 822,314M482,571Q483,583 487,582M452,559Q454,568 457,566M656,606Q643,604 644,609M721,501Q730,493 728,492M564,568Q574,563 573,569M478,583Q490,582 488,587M793,523Q782,514 789,512M417,547Q406,545 406,546M793,532Q788,538 792,538M428,532Q428,547 421,541M602,616Q598,628 596,626M829,398Q816,399 818,394M750,512Q754,524 747,522M415,564Q402,565 402,568M444,618Q454,623 453,624M828,498Q832,486 836,490M365,609Q365,621 362,620M634,639Q645,632 646,637M837,296Q845,300 840,302M705,480Q707,488 706,488M868,457Q857,457 858,460M399,567Q386,560 388,569M724,484Q722,498 716,491M723,608Q728,615 730,612M471,582Q479,574 475,572M825,311Q832,317 827,318M513,609Q506,611 508,613M691,546Q688,556 685,553M572,582Q581,578 576,575M826,318Q832,313 832,314M605,598Q609,609 604,608M849,430Q857,439 859,433M796,498Q796,508 794,508M668,601Q673,588 677,593M791,594Q803,587 803,595M780,480Q777,471 782,472M849,306Q852,300 853,301M603,583Q614,577 613,584M818,528Q813,522 811,525M593,629Q586,641 591,641M443,614Q430,612 432,618M470,647Q468,637 473,638M333,516Q322,520 321,518M441,525Q434,519 440,518M842,564Q831,566 834,560M366,527Q368,537 369,537M477,557Q489,563 487,555M611,551Q610,543 607,546M617,617Q622,622 620,623M858,420Q851,416 853,414M460,641Q466,648 467,643M501,574Q509,582 507,583M793,380Q803,381 799,386M694,549Q694,539 696,540M487,627Q495,637 497,633M716,562Q726,570 719,572M295,556Q298,566 298,566M723,549Q721,558 726,556M720,602Q725,614 722,614M511,561Q508,569 506,568M760,581Q755,591 759,591M800,407Q790,409 790,407M715,498Q709,503 708,500M347,562Q343,553 342,554M478,574Q469,565 477,564M773,505Q784,498 784,506M786,407Q799,407 795,401M747,615Q743,608 743,608M391,517Q381,518 381,517M785,516Q774,523 777,525M278,555Q289,559 289,555M655,508Q652,521 660,518M340,572Q346,576 346,575M808,524Q816,521 816,524M787,532Q792,526 792,527M686,510Q680,508 680,509M864,464Q859,460 860,459M546,593Q537,587 537,592M417,538Q426,529 428,532"/><path stroke="#e2a56e" stroke-width="2.4" d="M470,541Q459,545 461,538M675,533Q682,529 682,531M640,593Q627,589 635,585M809,409Q818,416 813,419M277,515Q284,512 283,511M610,522Q611,514 608,515M806,405Q798,403 798,404M800,376Q804,385 804,385M819,376Q816,366 812,371M832,319Q844,319 841,314M909,375Q899,375 904,370M845,435Q843,443 848,442M723,588Q722,581 726,582M869,303Q881,301 881,300M565,627Q563,616 563,616M837,269Q842,283 833,281M719,479Q728,479 728,479M519,529Q526,525 526,529M392,573Q386,572 386,574M689,579Q680,581 681,577M831,423Q838,423 838,423M824,450Q820,455 822,456M811,437Q807,425 805,426M364,589Q361,581 361,581M882,386Q876,393 880,394M459,606Q466,601 460,599M643,601Q647,596 648,597M784,438Q794,444 794,438M477,620Q469,628 468,624M539,593Q538,580 544,583M311,585Q296,584 301,578M591,600Q597,608 593,609M661,522Q649,518 651,524M335,518Q342,524 343,519M494,621Q491,628 490,627M394,555Q404,558 402,553M408,547Q409,554 407,553M497,559Q488,557 490,562M562,524Q559,515 556,520M275,516Q266,518 268,521M400,521Q392,517 392,516M809,373Q816,378 816,372M788,408Q793,403 794,406M743,456Q752,453 752,453M317,523Q329,520 327,517M837,495Q843,500 843,495M599,597Q599,590 596,591M357,569Q346,577 352,580M575,598Q570,611 566,603M385,576Q391,588 394,584M623,644Q611,637 612,645M825,538Q821,526 817,529M585,605Q585,592 582,593M301,537Q296,532 299,531M509,631Q519,624 520,628M660,593Q647,596 648,598M829,482Q831,475 827,475M633,627Q636,640 638,639M732,567Q734,562 735,562M760,543Q764,532 766,533M485,607Q483,598 488,601M772,433Q770,445 765,441M431,563Q434,552 429,554M689,561Q680,558 681,563M861,401Q854,391 855,391M841,411Q834,414 835,410M891,397Q900,398 899,394M349,583Q355,596 359,590M884,427Q890,416 891,417M689,529Q681,520 679,524M722,614Q725,605 728,608M766,449Q764,457 768,456"/><path stroke="#f3c697" stroke-width="1.9" d="M793,568Q781,567 786,562M539,609Q545,625 551,615M880,312Q878,327 885,324M535,614Q531,624 535,625M432,543Q432,531 435,532M365,515Q365,500 372,505M810,539Q798,541 799,537M863,269Q864,277 862,277M449,623Q456,613 457,614M870,319Q870,333 877,328M620,602Q608,595 612,592M665,535Q667,519 658,525M469,587Q457,592 461,596M819,263Q827,271 829,268M619,565Q627,570 628,566M716,549Q707,548 709,552M631,584Q635,600 625,595M703,596Q702,604 704,604M375,502Q364,511 372,513M793,378Q781,385 786,389M853,404Q843,407 843,404M584,579Q586,589 588,588M808,380Q806,367 802,369M779,589Q790,580 791,587M629,637Q618,633 619,638M825,372Q839,375 837,369M700,507Q704,514 706,512M707,516Q719,526 720,517M517,539Q526,529 527,537M751,441Q741,449 740,446M353,505Q362,500 362,504M352,599Q358,608 361,602M655,529Q661,516 653,517M417,614Q413,608 415,607M595,550Q594,561 589,557M784,400Q793,399 793,398M508,636Q513,649 506,648M566,512Q579,505 577,514M792,595Q785,607 782,602M466,563Q468,572 467,572M728,488Q736,491 736,491M816,576Q804,585 805,576M864,297Q867,290 868,291M816,246Q816,255 816,255M852,330Q844,331 846,334M437,551Q446,560 448,555M662,530Q657,535 655,532M652,623Q659,615 661,620M656,642Q652,632 658,633M814,504Q816,496 816,496M461,651Q454,662 451,655M617,595Q621,589 619,588M389,510Q395,504 395,504M772,450Q764,443 763,448M653,638Q651,648 647,644M614,573Q623,579 621,581M780,459Q789,447 779,447M680,547Q675,538 674,539M830,571Q830,561 832,562M525,604Q531,610 532,605M522,655Q534,648 530,645M788,475Q780,473 782,470M306,563Q308,573 308,573M864,371Q871,378 873,374M862,477Q860,468 856,472M504,645Q506,654 501,652M815,576Q824,571 818,568M610,529Q608,537 605,535M827,365Q839,365 836,370M414,545Q403,541 405,539M765,605Q778,610 778,606M638,599Q632,597 632,598M416,630Q426,625 424,623M664,635Q674,635 671,630M634,526Q632,512 626,519M317,552Q307,560 307,553M856,316Q852,325 849,321M728,583Q740,586 739,588M766,611Q766,599 760,601M663,528Q656,522 655,525M463,640Q456,649 454,647M358,582Q353,587 352,586M388,631Q400,635 400,635M433,618Q423,618 424,616M713,573Q719,577 719,576M718,618Q725,623 725,623M383,530Q391,538 392,537M398,568Q404,572 405,568M344,560Q355,565 353,567M510,553Q494,548 503,543M353,531Q352,519 353,519M422,589Q416,585 416,584M816,305Q810,312 808,309M643,551Q643,561 638,558M688,551Q680,550 682,555M367,514Q370,507 371,508M487,552Q489,542 484,545M719,612Q714,603 720,604M843,343Q832,344 834,347M804,573Q813,572 813,570M510,538Q512,550 507,549M592,627Q598,633 600,630M422,565Q418,576 417,576M440,570Q436,578 433,576M710,566Q710,557 713,558M398,510Q400,503 400,503M312,571Q312,588 303,581M453,593Q451,583 451,583M474,614Q485,617 483,621M538,581Q551,580 551,582M340,516Q328,517 328,519M644,580Q635,575 635,574M829,259Q833,247 836,248M408,620Q409,631 408,631M592,539Q591,530 595,533M519,640Q523,647 517,646M525,542Q515,543 517,539M637,603Q640,613 634,611M380,580Q383,571 382,570M723,522Q723,533 728,530M381,608Q393,602 390,611M448,555Q456,564 455,565M628,529Q618,535 620,538M818,359Q817,373 822,372"/><path stroke="#e8ae7a" stroke-width="1.7" d="M593,612Q599,615 599,613M472,574Q482,581 479,583M725,547Q712,545 715,541M556,584Q556,572 551,573M661,589Q651,595 651,595M470,659Q460,662 462,657M480,557Q491,557 489,553M602,533Q591,529 591,534M712,503Q705,493 710,493M439,601Q451,599 451,599M384,552Q395,560 396,555M846,556Q855,561 856,559M820,516Q818,523 816,522M388,565Q382,567 382,564M807,370Q804,356 811,359M748,533Q756,545 758,536M324,576Q318,590 326,588M809,545Q814,537 816,540M368,631Q374,637 376,634M658,539Q662,551 664,551M817,406Q828,405 826,410M377,592Q384,598 384,596M575,599Q582,596 579,594M788,440Q797,447 792,450M426,555Q426,562 429,561M358,584Q366,583 364,579M646,571Q643,580 641,579M527,510Q528,526 520,521M432,594Q444,583 434,581M849,266Q838,266 841,271M878,314Q882,321 883,320M772,497Q772,487 777,490M741,610Q737,601 734,603M411,581Q402,588 402,582M648,608Q656,601 655,601M848,319Q839,316 839,317M529,562Q536,564 536,564M368,566Q379,572 376,575M455,606Q451,596 447,601M880,315Q872,321 874,323M863,485Q874,488 874,485M812,376Q801,376 804,371M774,577Q783,579 781,581M878,404Q874,412 874,412M844,329Q850,342 842,341M718,484Q726,484 726,485M768,543Q765,534 762,538M889,349Q895,354 893,355M875,416Q864,418 864,415M556,564Q546,575 555,575M627,587Q641,587 637,593M824,523Q827,515 829,519M581,571Q589,570 585,567M846,395Q846,407 843,406M864,364Q866,370 867,370M334,555Q330,551 330,550M530,533Q538,533 537,531M518,583Q531,582 529,587M361,551Q366,544 366,544M855,373Q861,368 856,367M353,535Q342,535 343,532M403,537Q413,532 414,535M535,530Q539,546 545,538M689,524Q692,516 694,519M403,615Q411,614 409,611M830,448Q827,454 825,451M531,577Q524,581 523,580M826,533Q818,528 822,525M720,568Q727,576 725,577M766,503Q769,496 771,498M391,607Q404,608 401,613M692,583Q703,586 703,587M542,527Q534,517 532,521M483,575Q484,588 490,582M869,326Q861,324 861,328M351,538Q365,544 359,548M827,316Q830,325 830,325M711,548Q697,545 699,551M857,355Q865,357 860,360M781,549Q789,545 789,544M586,578Q585,586 585,586M661,585Q671,591 670,585M414,544Q405,552 404,551M834,525Q825,520 825,524M645,624Q648,633 651,628M550,605Q560,607 560,607M894,380Q883,378 884,377M789,489Q779,494 778,491M848,416Q844,404 839,410M447,553Q455,547 451,545M727,558Q725,566 729,564M644,589Q642,576 638,578M508,552Q509,538 502,543M636,509Q647,503 647,503M414,539Q422,539 419,535M838,541Q831,541 833,544M804,348Q803,361 797,356M537,567Q544,563 543,568M620,632Q629,623 629,624M397,511Q402,516 400,517M686,582Q683,570 689,572M844,415Q835,425 839,427M395,512Q384,510 384,511M850,414Q860,413 859,410M855,336Q864,343 859,345M807,392Q814,382 817,387M817,274Q817,265 821,268M747,566Q743,562 743,563M460,548Q466,535 458,537M893,330Q883,331 883,331"/><path stroke="#f3c697" stroke-width="1.8" d="M724,587Q715,595 714,590M437,527Q448,522 449,523M791,569Q783,556 780,566M845,380Q847,372 847,373M598,635Q602,641 598,642M586,534Q592,525 586,525M522,599Q521,592 521,592M700,500Q697,494 700,493M768,555Q754,551 758,560M809,561Q820,560 820,558M415,625Q424,626 424,628M801,473Q794,462 801,461M559,619Q553,608 551,609M709,544Q700,553 706,555M362,587Q364,572 370,578M448,526Q445,514 447,514M356,605Q360,612 362,609M342,585Q353,586 352,588M848,414Q857,419 857,415M538,637Q531,638 531,638M573,615Q573,605 568,608M824,299Q827,292 827,292M762,570Q775,561 774,572M851,545Q846,540 846,541M445,554Q446,567 452,562M579,522Q576,529 577,529M307,516Q318,518 313,523M450,564Q437,562 441,569M816,268Q815,279 814,279M784,594Q793,589 791,587M733,572Q721,579 728,582M709,613Q706,622 706,622M793,595Q782,592 783,597M486,582Q490,571 490,571M754,450Q762,448 760,445M594,522Q602,528 601,522M785,496Q785,488 785,488M597,588Q600,581 603,585M440,628Q429,632 431,634M777,487Q786,485 783,482M682,515Q691,507 689,506M388,597Q381,594 383,592M538,620Q533,609 530,612M818,263Q824,260 821,258M762,499Q771,495 767,493M795,414Q785,406 788,404M729,551Q735,547 733,546M867,529Q865,518 871,522M773,549Q767,544 766,546M822,264Q829,270 824,271M416,594Q411,606 407,598M831,271Q833,259 835,260M859,509Q867,495 871,504M327,553Q313,556 315,549M383,586Q385,593 386,592M313,575Q308,580 309,581M849,280Q837,278 841,285M650,552Q649,563 649,563M612,623Q621,631 622,626M388,613Q393,601 395,603M806,272Q811,281 806,281M454,607Q449,621 444,613M730,578Q737,567 736,566M570,545Q566,534 564,535M805,483Q807,472 801,476M352,586Q344,596 348,598M745,616Q736,612 736,615M705,530Q700,525 700,525M867,418Q866,408 871,410M667,630Q657,638 665,640M586,602Q600,605 597,597M461,595Q464,582 457,585M812,485Q803,490 802,487M597,581Q600,589 603,584M883,343Q893,336 888,334M589,526Q575,525 582,518M799,412Q807,409 805,406M788,426Q783,418 785,417M767,522Q761,515 767,515M524,586Q525,576 528,577M437,631Q437,641 439,641M655,635Q650,648 658,646M346,602Q334,600 338,595M869,330Q881,325 878,333M811,394Q803,382 812,383M791,464Q785,458 784,460M811,519Q817,524 817,523M333,536Q341,526 334,526M667,613Q672,618 673,615M366,517Q365,504 364,504M851,481Q859,472 852,472M586,641Q593,631 594,632M816,365Q823,351 827,360M744,543Q737,536 735,540M406,510Q399,520 405,520M408,595Q400,595 401,597"/><path stroke="#e2a56e" stroke-width="2.1" d="M408,628Q420,624 418,630M667,502Q678,497 674,494M559,513Q569,518 568,512M799,485Q807,482 804,479M763,553Q757,544 758,544M671,494Q659,496 659,493M751,556Q747,548 752,548M402,631Q392,633 392,631M801,392Q796,395 796,393M292,566Q291,559 291,559M402,591Q411,586 406,584M763,558Q761,568 761,568M619,618Q612,617 612,617M682,581Q685,576 686,576M802,492Q806,505 802,505M800,386Q793,387 793,388M386,597Q397,604 397,599M473,610Q479,597 471,598M740,600Q734,597 734,597M673,553Q673,561 669,559M817,409Q821,397 824,399M809,490Q811,498 807,497M489,579Q482,571 483,571M843,557Q834,547 832,549M337,533Q323,535 325,540M331,525Q337,517 338,518M642,564Q630,571 637,574M504,534Q495,533 495,534M801,514Q802,521 804,520M830,440Q832,446 832,447M545,637Q541,631 545,630M330,555Q338,552 334,549M509,599Q502,590 500,592M514,612Q524,621 524,612M437,519Q443,511 445,514M863,429Q872,422 872,422M831,528Q839,521 837,519M453,559Q456,567 459,563M444,626Q452,621 451,620M768,502Q755,497 761,493M675,625Q682,631 681,632M579,572Q567,581 566,573M735,461Q733,467 733,467M823,483Q825,474 820,477M820,290Q816,299 817,299M841,561Q831,554 835,552M718,492Q727,481 729,489M780,512Q789,521 791,517M783,429Q781,437 783,437M628,621Q634,618 634,621M850,373Q847,382 847,382M493,569Q497,553 487,558M426,543Q422,531 419,532M733,515Q721,513 722,511M425,537Q427,525 428,525M866,388Q867,399 872,395M709,482Q704,487 708,488M800,325Q793,315 794,315M723,533Q730,537 726,539M400,568Q403,558 406,560M383,513Q389,509 389,511M568,518Q557,519 557,519M354,612Q360,602 355,601M659,555Q663,562 665,559M670,570Q661,570 662,568M883,331Q873,328 879,324M471,513Q462,522 460,516M388,511Q394,521 397,516M772,605Q777,614 774,614M792,477Q786,463 796,466M735,543Q727,534 734,534M720,498Q710,499 713,503M865,483Q872,490 868,492M571,534Q568,523 569,523M759,460Q755,453 753,456M699,486Q687,486 687,484M514,518Q501,511 503,521M747,575Q735,580 737,582M723,584Q727,594 721,593M699,479Q685,481 692,487M445,656Q452,662 453,657M736,593Q726,595 726,592M554,510Q548,516 548,516M459,645Q461,636 463,638M881,406Q874,410 875,411M817,557Q827,563 822,566M469,565Q464,551 473,555M638,567Q651,559 642,556M748,566Q754,573 748,574M793,593Q788,605 789,605M441,640Q452,645 452,644M427,525Q432,530 431,530M510,602Q499,602 501,605M652,626Q654,614 651,614M694,569Q686,568 688,572M884,298Q880,305 878,302M551,595Q543,601 547,603M858,450Q851,442 852,441M607,526Q615,526 613,523M742,482Q730,490 736,494M661,643Q657,630 663,631M810,416Q821,415 818,421M822,332Q830,334 828,329M824,305Q833,309 834,307M421,626Q409,621 408,625M871,499Q859,506 867,510M325,538Q331,531 329,530M475,551Q482,547 482,547M285,566Q297,561 290,557M348,532Q336,530 339,526"/><path stroke="#e8ae7a" stroke-width="1.6" d="M853,414Q865,409 858,405M692,513Q696,529 702,520M476,633Q472,624 473,624M503,556Q511,562 512,559M382,608Q388,601 389,604M867,363Q881,370 879,361M754,464Q741,456 749,453M573,569Q581,560 580,559M791,522Q791,536 785,532M555,618Q543,615 549,610M840,321Q846,327 841,328M670,618Q675,631 668,629M570,598Q564,588 568,588M697,617Q689,619 689,616M442,544Q452,541 449,538M398,580Q387,569 396,568M351,551Q359,555 357,557M674,620Q679,627 681,623M868,405Q877,416 869,417M384,587Q384,575 379,577M762,553Q769,555 768,551M649,582Q645,568 640,575M410,532Q404,538 403,533M614,577Q626,569 621,566M448,575Q437,583 436,581M426,616Q430,606 430,606M891,417Q904,414 902,410M796,335Q783,347 794,348M521,584Q527,580 527,581M856,291Q856,284 854,285M805,579Q795,572 802,570M443,521Q453,520 451,517M868,487Q877,496 877,496M723,508Q713,506 713,505M398,624Q388,621 391,618M541,627Q535,622 536,622M828,404Q835,396 829,396M753,559Q762,548 756,546M690,501Q688,489 691,489M835,351Q837,341 838,342M819,423Q808,425 812,429M378,600Q379,609 383,605M627,593Q637,592 636,596M580,512Q569,517 575,521M891,412Q882,411 884,415M479,596Q480,608 484,605M822,282Q831,283 831,285M756,504Q749,503 749,501M486,584Q474,582 478,577M605,620Q599,615 600,614M802,317Q805,329 808,328M320,582Q312,570 309,576M808,554Q804,565 800,558M781,403Q776,414 774,412M465,635Q465,642 466,642M402,568Q392,559 394,558M682,618Q678,611 676,612M591,607Q585,620 592,619M835,286Q832,277 829,279M815,440Q805,447 810,450M407,608Q412,615 407,615M789,409Q792,398 794,399M312,589Q308,581 311,581M802,404Q795,403 795,405M812,446Q822,445 820,442M655,589Q661,598 663,592M445,524Q440,519 444,518M904,404Q901,396 898,401M802,406Q806,394 809,395M440,628Q443,619 439,620M375,612Q371,602 377,604M583,627Q578,630 577,628M601,622Q588,618 593,614M535,526Q541,534 543,528M839,466Q850,471 850,470M339,507Q348,513 349,512M819,383Q812,392 820,391M539,589Q544,582 538,582M490,634Q478,627 477,632M384,564Q372,560 372,563M480,603Q469,597 470,595M751,479Q760,469 757,468M873,351Q862,350 865,346M608,580Q619,578 617,574M874,315Q871,328 874,328M805,344Q814,345 812,341M531,630Q540,627 540,626M702,517Q707,530 710,527M411,558Q414,573 407,570M432,636Q426,633 428,632M710,473Q702,468 701,472M386,566Q381,568 381,568M437,588Q443,596 445,593M777,532Q781,540 778,541M604,629Q612,624 610,622M804,332Q797,338 797,333M848,331Q846,338 849,338M795,575Q787,576 787,574M405,633Q415,640 417,637M811,344Q819,335 814,334M391,577Q382,580 386,583M589,541Q602,540 600,537M360,597Q353,604 359,605"/><path stroke="#d99a62" stroke-width="1.8" d="M392,610Q405,610 401,616M746,558Q738,558 738,556M459,596Q448,592 449,597M578,530Q571,540 575,541M806,319Q807,306 809,307M845,522Q843,530 840,528M833,349Q820,352 826,357M374,590Q369,580 370,580M353,512Q349,525 344,519M859,416Q864,410 861,409M809,509Q797,508 798,511M701,623Q691,633 690,624M772,516Q765,520 765,519M553,532Q551,519 548,520M342,617Q350,618 349,616M613,595Q604,589 610,587M607,613Q605,620 607,619M335,536Q346,539 345,534M529,645Q519,638 522,636M746,534Q746,524 748,525M826,454Q819,455 819,455M775,531Q779,523 782,528M766,419Q775,415 773,421M737,522Q749,527 749,522M843,460Q839,452 838,453M547,515Q545,524 543,522M463,631Q453,623 456,621M816,515Q808,505 809,504M399,597Q405,605 404,605M527,616Q532,622 533,620M872,283Q882,290 877,292M857,277Q868,281 863,285M888,385Q891,392 886,390M802,507Q808,502 807,501M579,596Q585,599 586,597M865,325Q858,327 857,326M474,622Q478,610 475,610M818,355Q810,356 811,353M675,508Q682,513 683,511M679,511Q670,509 673,505M489,531Q496,539 492,540M812,404Q815,414 811,414M697,586Q705,579 705,586M863,483Q876,480 873,488M287,522Q288,511 289,511M426,636Q433,629 434,635M480,550Q481,558 484,555M362,606Q353,601 359,598M753,498Q747,507 744,502M597,631Q602,619 605,621M806,521Q813,526 814,524M855,463Q841,460 847,454M865,531Q861,526 861,526M446,571Q451,562 453,567M612,556Q622,548 624,552M801,500Q788,497 789,503M411,611Q410,621 408,620M705,468Q715,467 715,468M611,546Q598,546 602,552M754,539Q756,549 760,546M844,431Q842,441 846,440M329,511Q325,519 324,519M822,515Q815,514 816,517M297,546Q290,545 291,548M741,566Q735,580 731,573M856,548Q853,557 858,556M536,632Q539,620 541,621M828,461Q824,469 825,470M410,643Q411,633 413,633M496,582Q490,577 491,577M512,596Q510,606 514,606M677,502Q683,501 682,499M445,523Q458,520 457,525M556,527Q565,537 566,536M764,464Q763,471 762,470M785,553Q781,561 784,561M540,635Q541,649 534,645M840,469Q851,464 843,461M328,495Q318,504 326,506M873,388Q879,393 880,391M756,595Q756,587 758,588M805,496Q813,495 813,495M797,598Q792,590 790,596M757,479Q760,491 754,489M802,292Q793,290 794,288M324,526Q324,519 322,520M841,523Q839,510 845,511M454,640Q455,652 459,650M784,467Q791,469 789,465M615,592Q624,580 626,589M452,640Q444,649 449,651M400,596Q412,586 402,584M754,547Q752,538 748,542M563,559Q555,566 554,562M312,559Q307,565 312,565M816,294Q813,305 817,305M798,352Q799,344 801,345M379,510Q373,503 374,502M377,621Q369,617 371,615M355,559Q362,555 358,553M655,549Q660,561 664,557M868,458Q858,464 857,460M447,552Q444,557 445,558M773,424Q786,427 780,432M788,553Q776,559 778,552M417,577Q427,583 420,586M631,515Q623,510 626,508M741,447Q742,455 745,453M375,533Q382,535 382,533M798,442Q794,448 793,447M653,620Q661,617 661,617M863,432Q872,441 865,442M391,589Q380,583 386,579M793,384Q787,377 787,378M885,417Q883,406 879,412M497,600Q483,595 490,590M890,326Q878,325 878,324M508,564Q518,573 514,575M332,555Q333,548 335,549M723,606Q716,595 723,595M909,399Q897,393 899,391M828,415Q823,406 824,406M330,559Q326,573 333,571"/><path stroke="#f3c697" stroke-width="2.0" d="M556,617Q558,627 561,624M577,522Q570,524 571,520M392,555Q398,552 398,551M716,585Q715,573 710,577M892,402Q906,405 899,411M492,646Q483,648 487,652M824,341Q833,348 833,341M613,509Q617,499 620,504M732,520Q728,515 728,515M687,522Q696,519 691,516M327,591Q336,592 332,587M506,588Q512,594 507,595M804,456Q797,466 794,462M378,549Q379,556 379,556M859,334Q869,336 869,334M543,620Q554,626 553,626M732,593Q741,586 741,587M740,597Q748,609 751,603M809,285Q814,292 814,292M689,510Q700,504 699,503M877,418Q881,424 882,423M494,630Q506,632 506,629M892,388Q900,382 897,380M846,541Q852,534 851,534M789,576Q801,574 801,574M403,526Q414,518 408,515M862,339Q857,345 860,346M436,603Q429,603 429,602M793,454Q797,444 800,447M803,530Q806,514 796,520M774,500Q776,489 771,491M328,546Q318,546 318,547M850,500Q848,492 849,491M702,601Q693,609 696,611M502,644Q502,650 503,650M397,511Q409,505 406,503M614,507Q623,509 622,505M846,540Q847,547 847,547M765,577Q764,585 760,581M762,456Q752,453 753,458M643,580Q641,573 641,573M709,566Q714,559 713,558M499,638Q493,642 494,643M699,611Q710,604 705,601M694,539Q694,524 700,528M842,445Q833,448 833,445M421,529Q427,532 425,534M816,253Q819,262 815,261M792,593Q799,597 799,597M830,365Q837,366 835,368M397,599Q390,593 394,592M789,447Q776,440 776,448M427,542Q420,541 422,538M457,581Q450,582 450,583M321,602Q331,601 328,597M778,582Q790,578 789,584M816,287Q822,297 815,296M784,549Q785,557 788,555M782,444Q791,447 790,448M593,531Q586,541 583,535M778,596Q790,600 787,604M422,515Q419,506 417,507M661,496Q673,495 673,494M351,521Q360,519 359,522M835,279Q846,284 839,287M684,571Q680,578 679,576M750,490Q753,482 755,486M384,610Q378,616 377,614M817,260Q822,270 824,268M704,538Q695,544 694,542M775,416Q777,405 771,408M641,551Q630,553 630,552M518,554Q523,563 526,560M482,560Q476,570 475,569M842,311Q855,314 853,308M641,624Q632,619 632,625M362,527Q357,534 356,531M341,597Q337,606 339,607M351,565Q342,563 342,563M675,516Q666,513 666,513M853,518Q844,525 850,527M795,419Q784,432 795,431M839,516Q839,533 847,527M803,261Q802,272 805,271M855,319Q859,333 864,327M708,528Q714,531 714,531M388,544Q383,533 388,533M751,451Q741,442 750,441M768,464Q758,473 765,475M812,322Q820,319 819,323M478,521Q471,517 474,515M864,534Q868,529 866,528M530,597Q525,599 525,599M753,595Q738,593 745,587M871,397Q870,386 872,386M890,388Q883,396 881,391M836,438Q825,444 824,442M618,513Q612,502 610,503M832,293Q821,296 824,289M396,535Q394,542 393,542M558,600Q554,610 559,609M688,530Q700,526 698,523M780,436Q789,430 790,432M510,581Q500,590 498,584M582,637Q585,650 588,648M617,575Q617,583 619,582M308,576Q308,568 311,569M567,582Q564,594 560,591M547,600Q555,597 554,602M824,431Q829,442 832,434M869,373Q858,369 862,366M754,522Q758,537 763,531M396,567Q399,559 397,559M787,441Q790,454 783,451M540,582Q547,572 546,572M313,525Q321,530 318,532M836,491Q845,490 843,487M865,389Q859,394 859,389M638,516Q646,522 641,524M739,521Q733,510 729,515M530,514Q538,522 534,524M819,559Q809,554 811,552M797,501Q795,513 800,511M846,338Q853,349 847,349"/><path stroke="#e8ae7a" stroke-width="2.3" d="M701,527Q707,531 705,533M790,531Q778,536 779,537M809,315Q814,305 811,305M820,503Q834,500 828,494M458,647Q456,638 459,638M708,560Q698,571 706,572M436,651Q433,640 439,642M431,582Q434,576 433,575M776,454Q792,449 782,444M765,572Q767,579 765,579M634,525Q634,517 633,517M492,631Q488,624 492,625M377,567Q374,558 375,558M867,431Q869,416 861,420M474,649Q474,638 479,640M762,547Q763,560 769,554M751,531Q744,528 744,529M530,541Q538,545 538,545M378,517Q387,526 383,528M504,652Q493,642 503,641M720,464Q710,470 713,472M720,591Q727,586 727,591M807,533Q816,533 815,530M811,559Q803,560 804,562M737,461Q737,454 741,457M321,558Q320,545 325,547M616,618Q613,608 619,611M751,586Q749,592 750,592M448,592Q441,592 442,590M445,631Q441,643 447,642M791,499Q791,510 788,509M518,533Q512,526 513,526M690,569Q697,559 692,558M306,533Q313,522 306,522M770,513Q769,500 766,502M482,590Q496,586 495,592M814,286Q822,294 821,295M721,543Q719,551 719,551M794,575Q794,584 798,582M877,322Q887,319 886,317M824,497Q835,503 832,506M870,504Q865,512 871,512M692,497Q702,501 702,498M817,302Q808,296 810,294M525,637Q529,646 522,644M768,438Q759,438 762,443M430,550Q432,560 426,557M399,630Q385,625 386,633M394,563Q404,568 405,567M316,552Q304,546 304,548M901,372Q911,371 909,367M596,601Q607,596 602,592M766,599Q767,585 773,589M555,621Q564,619 564,621M601,605Q592,596 595,594M556,626Q549,633 548,629M846,562Q844,550 845,550M693,573Q698,561 702,568M857,288Q857,295 856,295M833,344Q843,335 844,336M314,579Q314,571 318,574M825,502Q826,491 831,495M644,531Q655,532 654,534M505,527Q505,533 503,533M756,601Q745,612 754,614M580,585Q592,587 591,582M550,625Q540,623 541,628M740,505Q748,517 751,510M609,565Q606,571 604,568M445,534Q449,541 444,540M581,594Q589,587 589,588M811,254Q820,258 821,255M603,574Q610,563 610,564M816,300Q816,310 813,310M773,559Q766,555 766,559M817,526Q828,524 828,527M829,406Q820,418 826,419M557,588Q554,599 555,599M863,409Q864,416 866,415M717,547Q721,536 715,537M882,340Q887,350 880,349M767,498Q772,492 771,491M772,612Q763,603 766,601M472,518Q480,521 478,523M824,518Q820,509 819,510M848,419Q856,408 859,413M867,372Q856,371 859,376M654,507Q662,503 660,501M355,591Q348,604 344,597M813,527Q804,522 803,524M532,521Q541,523 541,520M607,545Q602,553 600,549M360,607Q362,615 361,615M775,570Q784,579 785,570M387,586Q396,594 396,595M861,390Q872,385 868,382M492,607Q505,600 496,596M452,571Q462,570 462,572M356,528Q352,522 352,521M635,528Q628,527 630,525M822,268Q810,269 811,272M331,565Q341,569 339,563M745,481Q748,473 750,476M788,499Q799,496 796,492M731,477Q738,481 739,481M506,514Q500,509 500,514M841,281Q835,285 838,287M604,512Q604,504 602,504M621,514Q624,529 615,524M484,619Q492,629 493,628M450,646Q441,644 441,646M450,520Q446,529 444,525M538,641Q542,648 542,648M374,571Q372,579 375,579M638,623Q630,620 634,617M781,501Q785,513 790,507M584,579Q588,590 585,590M662,605Q655,601 655,601M374,621Q381,627 382,624M863,412Q868,407 869,410M824,520Q830,509 825,509M627,588Q632,583 633,584M543,604Q542,595 539,597M347,569Q348,575 348,575M665,531Q671,540 671,539M554,637Q546,628 549,627"/><path stroke="#e8ae7a" stroke-width="2.0" d="M596,527Q601,535 595,534M316,507Q305,506 310,501M458,518Q452,529 459,528M409,569Q405,581 410,581M865,472Q862,464 866,464M499,584Q488,579 487,580M790,443Q785,459 779,449M401,557Q395,569 392,561M847,290Q858,285 854,282M299,517Q300,507 300,507M778,492Q770,491 771,493M856,271Q857,281 858,281M476,557Q484,554 484,554M872,338Q861,338 864,342M448,615Q454,609 455,611M834,348Q841,359 839,360M453,593Q443,598 445,601M632,587Q626,576 630,575M291,563Q282,558 283,563M679,556Q685,555 685,557M749,443Q737,448 738,449M645,594Q644,602 648,599M428,621Q442,627 434,632M777,446Q774,459 772,458M501,598Q509,598 509,597M442,510Q450,511 447,515M671,593Q674,587 672,586M801,562Q812,564 812,562M831,466Q839,463 838,463M890,377Q897,383 898,381M389,525Q390,511 395,514M326,541Q328,531 328,531M419,644Q412,649 415,651M541,586Q553,589 552,583M288,527Q292,536 295,532M360,518Q368,519 367,517M591,522Q601,523 600,520M757,491Q748,494 748,490M892,375Q880,372 882,379M803,570Q808,575 808,576M710,622Q722,623 722,622M407,642Q411,627 417,634M791,590Q782,592 786,595M642,580Q648,585 648,582M304,586Q307,574 304,574M719,505Q730,498 728,496M687,545Q694,554 693,554M540,560Q555,560 551,553M541,575Q548,560 553,569M847,380Q838,380 842,375M698,568Q706,572 703,575M578,553Q577,542 583,546M611,524Q607,516 611,516M841,357Q843,367 838,364M364,579Q371,594 362,592M757,593Q768,601 761,603M641,593Q654,595 654,596M359,558Q370,564 371,561M411,557Q419,569 422,562M590,526Q578,523 580,529M529,591Q535,598 529,598M808,334Q813,328 810,327M601,612Q598,618 598,618M530,538Q520,530 520,537M855,388Q862,392 859,394M686,580Q677,583 677,580M838,502Q841,490 834,494M788,411Q779,411 781,415M541,544Q545,557 537,553M834,372Q826,368 826,372M499,599Q505,594 506,598M702,533Q703,520 700,520M812,493Q800,492 802,498M612,621Q608,627 608,627M790,538Q784,543 786,544M678,613Q671,602 668,609M523,566Q521,576 524,576M705,574Q710,577 710,578M656,617Q650,606 647,612M759,493Q769,499 770,496M706,620Q719,621 714,627M719,531Q728,542 719,542M833,303Q842,309 843,308M674,626Q675,635 679,631M856,323Q862,332 858,333M657,573Q652,562 652,562M503,579Q510,569 513,573M861,319Q856,326 862,326M547,643Q547,651 551,648M339,615Q348,609 349,613M561,517Q552,517 553,520M841,356Q842,347 846,351M770,497Q765,487 765,487M798,549Q790,555 790,553M714,493Q707,492 707,493M372,552Q377,543 375,542M490,535Q497,541 498,538M558,596Q563,607 558,607M542,576Q544,584 547,580M811,464Q799,471 799,464M515,630Q507,634 507,629M431,604Q423,600 422,603M851,476Q858,469 859,474M609,538Q599,528 597,534M837,400Q849,404 849,400M485,566Q480,576 483,576M684,610Q677,603 682,602M685,515Q681,502 676,510M725,541Q721,553 729,550M746,580Q737,586 740,588M808,349Q808,357 805,355M379,586Q375,598 377,599M800,518Q789,511 789,511M869,463Q876,462 875,461M780,462Q770,460 772,457M855,510Q859,517 861,514M853,526Q840,527 841,530M711,600Q721,608 717,610"/><path stroke="#e2a56e" stroke-width="2.0" d="M439,576Q449,574 448,578M435,612Q423,610 428,605M646,618Q642,624 641,623M351,517Q353,530 348,529M370,601Q369,589 365,592M615,513Q619,519 620,519M861,361Q856,367 856,367M869,311Q862,317 862,316M784,463Q783,469 782,469M461,608Q451,609 454,613M587,638Q593,628 585,629M500,577Q508,585 507,586M556,512Q556,521 560,519M799,308Q812,311 809,304M613,608Q621,621 624,612M825,385Q819,377 821,376M902,385Q918,387 912,378M449,539Q453,554 444,551M507,621Q506,634 501,630M534,597Q535,586 540,589M416,521Q426,523 423,527M633,647Q637,635 639,636M682,605Q691,598 691,597M810,283Q802,277 803,276M366,548Q360,559 357,553M464,645Q467,630 460,633M827,560Q821,557 820,559M670,576Q667,583 669,583M712,478Q723,485 721,486M803,277Q805,265 807,266M447,601Q445,593 442,595M353,554Q364,555 364,555M780,408Q787,413 787,410M551,534Q554,541 554,541M454,626Q452,638 456,638M726,547Q728,554 724,552M409,642Q414,648 412,649M497,621Q503,620 502,618M834,288Q838,279 841,282M791,305Q796,313 798,309M797,506Q795,494 796,494M664,635Q657,638 657,636M886,383Q878,384 879,380M470,526Q461,536 466,538M660,597Q664,604 659,604M663,602Q660,608 659,607M780,495Q778,481 785,485M618,618Q619,631 612,627M818,455Q808,446 812,444M357,610Q370,610 368,605M698,539Q705,530 704,529M545,611Q536,605 535,607M360,567Q367,564 367,564M371,560Q369,570 369,570M793,452Q799,448 797,447M655,614Q644,616 645,612M331,553Q323,543 328,541M463,537Q469,528 466,527M760,569Q754,577 760,577M411,566Q397,563 400,571M799,271Q806,278 804,279M822,361Q828,356 828,357M478,591Q483,598 481,599M431,595Q442,591 439,588M833,288Q839,276 836,276M699,566Q701,572 701,572M723,589Q734,591 734,592M407,605Q396,614 402,617M443,616Q449,623 448,624M730,571Q741,576 741,577M847,299Q850,311 854,305M598,533Q602,540 604,537M793,543Q792,533 796,534M731,512Q738,510 737,509M708,509Q714,516 709,517M402,588Q411,584 410,582M416,600Q424,593 425,597M330,595Q338,597 338,594M318,568Q310,560 311,559M867,300Q870,311 872,310M405,534Q397,533 397,535M353,530Q358,537 358,537M676,591Q670,592 670,591M447,629Q455,639 452,640M555,615Q563,618 560,620M699,482Q688,482 693,488M739,600Q730,608 730,601M752,579Q748,566 743,573M796,389Q800,378 796,378M711,531Q715,522 715,522M881,365Q888,366 888,366M767,463Q754,457 756,466M697,489Q705,486 704,491M694,480Q686,486 685,481M440,555Q445,567 439,566M427,595Q433,592 433,591M402,536Q413,530 412,538M488,604Q496,601 491,598M725,569Q738,566 737,572M409,515Q409,528 405,527"/><path stroke="#efbc8a" stroke-width="2.3" d="M610,514Q608,507 608,507M688,491Q698,485 698,491M600,624Q589,619 590,625M354,563Q361,554 363,561M589,609Q582,618 581,617M741,546Q733,545 735,549M493,587Q500,594 501,589M366,572Q371,581 369,581M802,406Q804,397 805,397M838,334Q832,326 838,326M877,346Q867,340 868,338M504,585Q512,585 510,582M875,399Q871,404 872,405M606,642Q605,654 600,651M443,525Q432,523 433,527M526,634Q529,624 532,627M899,403Q886,397 888,405M849,314Q833,316 838,308M826,326Q819,327 820,329M568,534Q575,532 573,529M781,614Q784,602 777,606M865,323Q860,328 863,329M402,517Q396,507 393,513M476,594Q482,597 482,597M829,478Q819,488 826,489M722,574Q724,564 729,569M570,616Q578,627 581,621M417,615Q407,618 410,612M386,627Q380,623 379,624M448,574Q441,585 440,585M667,614Q675,606 676,607M778,549Q781,537 781,537M809,408Q814,402 812,401M544,560Q552,566 552,561M597,545Q588,551 589,552M825,480Q816,471 816,471M898,403Q901,411 901,411M678,507Q686,517 688,513M458,583Q445,578 445,583M819,435Q824,428 819,428M567,617Q556,628 567,628M873,338Q881,335 881,335M832,456Q820,457 820,459M612,623Q621,626 621,623M853,395Q859,390 858,389M370,610Q378,622 370,622M501,624Q512,626 511,628M590,567Q586,560 588,559M605,556Q599,561 601,563M760,585Q750,585 752,581M594,587Q594,596 599,592M725,556Q734,566 727,567M402,630Q412,633 410,627M569,559Q564,569 562,567M865,341Q857,341 857,342M748,451Q735,453 738,447M334,590Q336,575 328,579M298,533Q311,530 310,536M799,471Q806,476 802,478M842,479Q852,479 848,484M606,563Q602,557 604,557M730,621Q720,622 721,619M674,608Q676,597 680,600M739,565Q737,554 738,554M356,616Q348,604 355,603M377,611Q376,602 380,603M339,573Q340,582 338,582M722,468Q727,457 721,458M878,388Q883,399 886,396M488,578Q483,572 487,571M583,515Q584,529 577,526M346,512Q350,503 353,509M365,508Q371,497 374,499M592,506Q604,507 602,511M813,360Q803,368 801,363M801,474Q794,468 797,467M687,488Q689,501 688,501M320,502Q329,509 330,507M818,552Q812,564 813,564M513,557Q523,560 519,564M567,554Q576,548 577,552M796,559Q800,565 802,562M394,617Q401,605 404,612M368,586Q367,578 368,578M544,601Q541,591 545,591M680,557Q674,548 677,547M835,513Q832,499 840,502M743,612Q738,601 745,601M658,592Q668,601 669,593M512,517Q499,521 504,526M506,620Q496,621 496,622M503,649Q497,660 494,652M844,495Q855,502 856,501M805,340Q798,351 795,345M758,593Q752,597 752,596M481,515Q474,513 478,510M327,546Q324,560 318,554M403,543Q411,544 409,547M584,602Q577,598 578,603M841,443Q849,430 839,432"/><path stroke="#d99a62" stroke-width="2.0" d="M654,558Q653,572 659,567M848,486Q836,492 836,485M845,528Q837,525 838,523M805,440Q809,429 803,430M848,415Q845,403 848,403M422,638Q431,634 427,631M813,293Q818,301 814,301M891,383Q898,394 892,395M478,578Q483,574 482,573M718,612Q707,603 714,600M621,558Q616,548 615,549M743,506Q734,504 734,505M630,606Q633,598 635,602M884,348Q887,356 885,356M466,586Q474,585 473,582M801,475Q803,467 806,468M817,396Q824,385 825,387M496,544Q498,559 490,555M691,592Q689,598 688,598M628,645Q634,637 627,637M789,508Q780,501 780,501M875,471Q873,486 867,480M856,483Q849,493 850,494M321,537Q305,536 311,544M501,647Q492,643 494,641M642,597Q635,598 636,596M605,552Q597,551 598,550M641,613Q631,610 631,611M746,437Q756,438 755,436M819,403Q833,405 828,411M502,629Q492,634 493,635M803,413Q811,411 811,413M461,594Q454,590 454,594M439,509Q446,520 448,518M801,468Q805,452 811,461M908,395Q906,381 900,386M836,369Q842,358 840,357M783,518Q791,509 791,508M743,554Q751,566 743,566M596,648Q592,641 594,640M647,629Q655,634 655,631M670,571Q680,584 670,584M776,542Q771,538 771,538M485,650Q475,651 478,646M384,603Q394,595 396,601M681,548Q686,544 686,544M845,535Q835,528 841,526M668,583Q671,569 677,574M851,487Q852,481 851,481M672,522Q666,529 666,529M467,564Q463,571 461,566M763,549Q756,556 756,556M877,424Q882,429 882,428M843,396Q841,405 837,400M650,614Q641,620 640,617M469,579Q475,593 466,591M416,510Q410,501 408,504M852,471Q854,466 854,466M383,545Q380,537 377,541M694,569Q696,580 693,580M481,546Q478,556 480,557M810,350Q812,344 812,344M779,390Q785,399 787,393M644,577Q638,573 639,573M590,527Q600,513 589,514M802,518Q798,508 801,508M694,514Q688,518 689,518M850,370Q846,376 844,373M434,514Q441,509 441,513M769,605Q761,599 761,605M840,423Q834,420 833,422M635,577Q629,579 630,580M798,438Q786,440 790,434M443,587Q440,598 437,595M614,638Q617,628 617,628M691,492Q698,497 694,499M533,567Q526,559 526,560M799,444Q789,452 796,454M446,549Q448,559 450,558M357,507Q364,512 364,512M495,551Q506,544 499,542M471,530Q461,522 461,530M754,559Q747,559 748,557M744,610Q742,617 741,616M825,302Q839,300 837,306M856,411Q870,401 860,398M754,616Q757,622 756,622M419,570Q432,573 428,565M653,514Q657,503 660,505M327,521Q335,515 334,514M450,523Q443,526 443,524M888,370Q883,363 884,362M807,555Q811,548 808,548M507,621Q512,628 507,628M577,591Q588,596 586,598M308,552Q295,560 296,551M644,597Q647,605 645,605M608,529Q603,515 611,517M584,578Q579,588 581,588M894,379Q892,389 888,386M839,548Q847,547 846,544"/><path stroke="#d99a62" stroke-width="1.7" d="M550,571Q558,559 561,564M494,648Q495,639 495,639M509,634Q501,636 501,633M560,538Q563,527 565,527M782,511Q790,500 784,499M282,511Q290,508 290,510M824,361Q836,368 835,369M616,511Q621,503 623,507M786,529Q792,533 788,534M381,613Q377,604 379,604M778,567Q773,557 770,562M864,355Q870,368 874,363M587,588Q593,588 593,587M640,542Q650,537 650,538M895,348Q901,335 892,337M789,577Q794,587 796,584M590,585Q581,584 581,584M626,571Q618,575 620,577M715,536Q705,540 706,534M859,477Q854,483 857,484M857,496Q851,488 851,488M773,477Q763,469 765,467M565,642Q568,628 561,631M521,635Q506,631 509,639M363,627Q363,620 362,620M513,593Q516,583 512,583M495,634Q505,626 497,624M745,582Q754,586 754,582M477,654Q476,667 483,662M486,542Q493,552 495,545M802,446Q809,447 808,445M338,547Q330,537 328,544M865,366Q869,377 867,378M830,539Q833,530 835,531M866,350Q873,343 874,350M681,556Q673,556 675,553M836,431Q845,432 843,435M584,633Q572,634 574,629M512,567Q522,577 524,571M514,560Q524,566 523,567M483,558Q493,549 494,557M342,576Q340,566 337,568M786,594Q799,598 797,590M802,351Q810,347 806,345M738,483Q738,471 743,474M491,642Q505,635 503,645M769,454Q756,448 756,454M293,515Q291,523 295,522M554,622Q566,626 565,620M692,609Q683,605 684,611M648,540Q656,535 656,534M448,545Q462,541 456,535M842,501Q850,507 851,506M854,529Q856,535 856,535M875,365Q877,371 877,371M326,561Q330,570 331,569M517,559Q525,550 527,555M530,649Q531,658 526,655M562,561Q564,572 561,572M750,465Q743,471 743,467M814,486Q820,495 816,496M323,552Q322,565 328,561M817,516Q817,506 820,507M770,423Q785,421 779,429M799,431Q790,423 796,422M705,480Q695,484 697,478M546,534Q543,543 541,542M699,537Q695,530 693,532M442,597Q452,585 442,584M482,633Q493,632 491,629M792,349Q801,356 795,358M860,420Q871,428 864,431M692,493Q684,488 684,489M502,592Q507,596 508,594M663,555Q661,566 667,563M296,555Q304,554 304,553M353,560Q340,558 342,564M359,503Q356,511 354,506M760,586Q752,589 752,585M484,649Q472,654 473,648M754,593Q753,604 747,599M895,358Q902,353 902,356M713,472Q700,475 701,478M517,568Q524,570 523,566M857,326Q864,331 864,326M829,544Q821,543 822,547M895,414Q894,402 895,402M544,511Q554,513 553,515M830,292Q839,292 838,295M853,321Q854,308 860,313M847,323Q842,336 850,334M836,334Q826,339 831,342M412,506Q416,515 419,511M649,547Q656,553 656,553M778,407Q791,401 788,410M794,568Q794,562 796,562M807,484Q799,484 799,485M491,627Q485,631 488,633M839,349Q853,339 842,337M322,528Q317,533 316,531M908,400Q904,411 903,410M875,411Q865,418 864,415M851,314Q840,312 840,315M492,661Q480,649 479,660M382,616Q375,618 375,617M443,529Q451,522 451,521M746,579Q738,576 739,581M700,494Q709,495 708,492M520,556Q528,561 525,564M850,521Q854,512 848,513M576,613Q570,620 574,621M607,534Q605,540 603,539"/><path stroke="#f3c697" stroke-width="2.4" d="M611,584Q622,586 616,591M765,464Q759,453 757,455M906,368Q895,374 895,368M762,504Q771,514 773,509M294,553Q295,544 294,544M813,279Q809,288 806,283M559,522Q564,513 565,514M444,617Q450,602 441,605M796,369Q789,357 798,358M723,522Q731,530 730,531M841,488Q841,499 837,497M847,295Q836,302 835,297M645,609Q635,603 638,601M447,543Q447,554 444,553M487,529Q497,530 496,526M402,500Q402,512 398,511M602,648Q607,642 608,646M343,558Q350,566 351,560M423,579Q432,576 432,579M836,485Q827,484 827,484M820,350Q811,353 814,356M479,514Q481,528 485,526M474,583Q482,580 479,578M535,623Q546,619 543,615M292,525Q291,510 299,514M418,521Q406,518 412,513M821,499Q810,497 813,493M351,577Q355,583 355,583M451,605Q445,613 443,608M607,548Q599,545 603,542M779,572Q778,564 781,565M847,502Q859,511 850,514M681,636Q674,628 676,627M852,380Q846,373 844,377M711,589Q717,586 717,587M366,550Q362,539 358,546M810,437Q818,426 820,433M613,568Q609,576 607,575M848,519Q858,510 859,517M347,502Q348,510 345,509M653,616Q658,609 659,610M877,307Q873,295 869,302M384,552Q372,553 372,554M854,545Q859,538 859,538M474,657Q475,667 473,667M696,529Q707,526 707,528M798,390Q799,400 801,400M637,549Q647,551 644,554M753,562Q745,562 746,560M867,332Q872,345 875,342M765,607Q756,620 766,619M511,609Q518,616 519,611M688,575Q687,565 682,570M698,532Q690,533 690,531M782,402Q790,404 789,400M480,570Q476,563 474,566M506,554Q506,565 508,564M466,573Q462,567 463,566M674,633Q668,628 667,633M330,584Q334,578 333,577M663,636Q669,629 665,628M445,541Q456,535 456,541M733,516Q736,508 735,508"/><path stroke="#efbc8a" stroke-width="2.1" d="M375,523Q365,525 365,525M634,605Q622,600 625,596M456,580Q465,582 462,577M650,596Q643,590 643,590M587,551Q588,545 589,545M638,604Q637,597 639,597M878,336Q879,344 875,341M826,269Q824,260 829,262M796,406Q787,396 785,404M600,595Q603,588 605,592M706,516Q710,525 711,525M847,455Q839,445 845,444M860,361Q851,369 857,371M510,543Q500,543 503,538M733,601Q729,605 730,606M867,348Q878,342 878,341M822,457Q832,453 826,450M799,580Q802,574 799,574M452,637Q464,643 464,638M809,295Q814,299 814,299M787,541Q782,552 789,551M849,303Q841,310 844,312M796,290Q806,280 808,287M488,607Q478,610 478,611M771,582Q778,590 780,588M888,420Q876,426 878,417M564,642Q577,644 576,640M684,484Q691,497 694,488M755,461Q760,448 765,455M491,624Q495,617 494,617M851,490Q855,495 854,496M819,400Q828,398 825,403M429,644Q431,631 423,635M629,621Q627,611 623,614M316,514Q323,501 316,501M636,619Q645,620 644,617M887,379Q887,386 884,385M840,314Q845,325 848,320M429,595Q426,604 431,603M370,572Q376,564 377,569M771,561Q780,566 774,568M475,540Q480,536 477,534M773,579Q768,592 775,590M423,504Q419,513 425,512M881,346Q889,344 888,348M370,620Q363,629 370,629M523,642Q513,646 512,644M601,532Q599,541 597,538M838,283Q840,274 842,275M704,516Q703,524 700,521M881,422Q883,412 881,412M377,592Q367,599 371,602M322,570Q315,569 316,567M482,564Q491,567 488,570M625,555Q615,558 616,553M674,490Q663,492 662,491M578,639Q581,646 583,643M877,410Q878,419 881,417M820,388Q811,380 812,380M797,338Q784,344 788,348M801,334Q799,346 804,345M858,554Q850,551 853,548M365,511Q353,513 356,507M363,564Q357,571 358,571M841,288Q849,280 850,282M691,628Q676,622 685,617M583,582Q580,593 584,592M757,536Q767,528 765,527M575,602Q566,611 564,605M755,576Q753,562 758,564M805,533Q808,521 806,521M872,424Q880,435 875,437M849,513Q854,503 849,504M775,441Q784,433 785,434M769,520Q760,521 762,516M735,530Q733,518 730,519M715,518Q727,522 727,516M789,397Q786,403 784,400M601,604Q614,612 613,603M447,555Q454,548 455,550M413,520Q417,510 420,515M910,389Q902,394 907,396M793,358Q800,368 799,369M584,551Q572,556 577,560M903,383Q903,374 905,375M529,659Q539,649 530,648M613,590Q615,584 616,585M598,555Q593,547 591,553M793,371Q801,375 801,374M565,614Q559,621 559,621M814,252Q821,253 821,254M618,548Q607,555 612,558M523,556Q529,567 532,563M576,630Q567,631 568,628M839,487Q845,478 847,484M274,532Q280,521 275,521M638,532Q654,532 648,540M837,393Q825,393 826,395M470,550Q469,541 473,542M645,502Q653,507 654,505M876,317Q885,326 877,327M671,628Q668,635 667,635M533,613Q541,612 537,608M324,580Q318,567 314,574M807,480Q796,491 806,492M398,578Q398,566 396,566M492,661Q504,661 504,660M797,339Q809,343 806,335"/><path stroke="#efbc8a" stroke-width="1.8" d="M796,499Q799,487 795,487M850,275Q860,270 859,269M314,580Q326,578 322,574M785,471Q792,461 795,467M503,512Q512,510 509,515M552,629Q561,624 561,628M699,586Q689,593 689,586M748,573Q742,583 739,579M855,548Q853,556 853,556M715,565Q701,565 705,558M841,273Q843,289 835,284M874,296Q864,288 863,295M513,599Q507,592 507,593M842,370Q844,360 847,363M716,515Q721,510 719,509M735,562Q741,561 741,561M531,583Q545,590 543,580M330,597Q318,586 328,584M421,513Q416,508 418,507M610,569Q605,560 603,562M343,575Q347,563 351,569M404,534Q409,529 410,531M408,637Q420,635 420,636M713,517Q714,526 709,522M756,439Q749,442 749,439M591,639Q598,643 597,644M604,638Q611,627 614,633M825,425Q819,415 821,414M450,554Q452,563 449,563M710,577Q723,574 717,568M677,505Q688,508 687,509M787,569Q793,555 786,556M801,415Q808,421 802,422M669,509Q677,496 680,504M779,523Q768,532 768,523M809,509Q810,496 813,497M890,324Q883,334 888,335M619,634Q631,629 624,624M595,521Q587,527 589,529M825,351Q831,356 832,352M646,635Q656,636 654,631M763,477Q753,473 754,477M725,528Q723,539 718,535M706,533Q697,538 697,538M878,396Q876,406 881,405M429,630Q422,619 419,622M818,350Q812,339 817,338M829,261Q842,265 840,258M809,289Q807,301 806,301M435,555Q432,543 436,544M766,582Q769,591 763,589M501,565Q490,573 490,566M809,380Q801,388 800,385M753,465Q760,469 760,469M437,598Q442,602 442,602M839,373Q845,364 845,363M673,563Q671,571 672,571M668,580Q663,577 663,576M541,587Q530,580 534,577M449,544Q444,541 443,542M842,393Q839,407 846,404M579,527Q584,519 586,525M738,509Q729,517 734,519M694,556Q688,565 685,561M384,579Q399,584 396,575M321,519Q316,511 320,511M865,452Q860,446 861,445M788,503Q783,488 792,491M810,430Q805,436 805,436M519,525Q531,519 531,523M611,513Q611,520 611,520M363,512Q371,513 368,509M724,474Q713,479 718,483M531,541Q526,535 527,534M458,524Q463,532 460,533M478,652Q478,640 484,643M467,590Q463,579 466,579M435,627Q446,623 446,624M701,595Q692,587 697,585M399,537Q394,542 393,541M718,592Q726,597 721,599M643,616Q630,610 637,606M272,521Q277,531 280,526M618,625Q612,622 612,624M599,614Q597,625 598,625M658,621Q668,618 668,623M679,550Q683,561 677,560M786,523Q796,530 797,526M831,374Q840,370 839,375M874,312Q886,308 885,308M811,313Q802,304 804,303M733,562Q728,574 731,574M887,353Q893,366 897,360M851,354Q863,357 861,360M618,585Q610,596 608,594M700,595Q711,600 712,600M430,528Q439,529 439,527M658,569Q654,563 658,563M509,628Q501,622 501,628M725,606Q720,610 721,611M682,545Q690,539 683,538M547,524Q553,526 553,526M831,288Q832,302 825,299M557,560Q566,569 563,571M303,549Q304,559 308,557M750,560Q742,569 748,570M790,456Q781,464 782,465M550,516Q556,532 546,528M763,474Q769,463 772,469M746,543Q759,546 758,547M427,505Q417,512 421,514M459,647Q469,642 469,647M711,571Q712,560 711,560M869,427Q867,436 868,436M809,256Q818,263 819,257M517,590Q516,601 519,600M879,384Q871,373 868,380M545,645Q542,635 545,635M702,611Q696,618 699,619M808,350Q804,358 801,354M525,515Q534,515 531,511M425,571Q424,581 428,579M588,616Q596,621 592,623M309,509Q299,502 298,503M421,538Q412,547 418,549M853,290Q858,284 859,287M846,271Q846,280 842,278"/><path stroke="#efbc8a" stroke-width="1.9" d="M617,566Q626,576 627,568M725,541Q732,552 730,553M295,534Q297,541 297,541M319,537Q331,543 329,535M813,259Q821,257 820,255M804,307Q816,313 811,316M862,435Q857,423 853,430M833,398Q823,403 823,403M291,551Q280,554 282,557M625,573Q628,567 627,567M529,628Q518,619 521,617M520,546Q520,534 525,537M561,532Q564,540 565,540M337,505Q344,500 345,502M517,608Q528,603 521,599M451,581Q454,575 454,575M465,602Q460,612 457,606M793,362Q788,349 796,351M748,460Q743,453 741,456M819,386Q811,381 811,381M825,433Q832,423 826,422M834,561Q840,566 837,567M588,573Q590,589 582,584M754,509Q756,498 759,499M539,601Q552,603 547,595M501,659Q490,655 490,659M569,646Q577,634 580,641M302,537Q304,546 308,543M507,523Q502,519 501,521M787,358Q798,359 794,353M730,470Q728,463 731,463M480,654Q485,662 487,656M842,439Q838,432 837,434M500,605Q500,595 505,599M873,372Q861,362 861,372M659,544Q664,557 658,556M417,524Q426,522 426,524M862,419Q863,433 869,427M661,531Q646,540 648,528M592,516Q592,523 596,521M746,495Q740,488 745,487M694,492Q698,499 700,494M553,523Q553,531 552,531M836,441Q843,436 839,434M371,515Q378,510 376,508M830,301Q818,309 818,300M346,581Q351,570 346,570M739,488Q734,481 739,481M864,492Q857,496 857,491M877,424Q871,428 870,426M569,578Q576,577 576,577M476,606Q488,609 482,613M910,381Q902,377 903,375M617,631Q612,643 614,644M446,553Q434,556 435,557M589,549Q596,558 598,554M856,471Q865,472 863,468M577,567Q589,567 586,572M628,564Q634,557 635,558M850,333Q850,340 853,339M300,544Q308,554 302,555M456,584Q461,594 464,588M884,364Q884,353 888,355M780,491Q774,482 775,482M649,629Q647,639 644,637M296,505Q304,508 304,505M311,504Q320,500 319,506M332,548Q339,561 343,555M818,409Q815,420 813,419M420,552Q414,541 416,540M841,528Q834,516 840,515M748,602Q746,611 745,610M456,559Q456,553 457,553M555,571Q559,579 555,579M434,556Q444,549 444,550M852,281Q864,281 861,275M657,596Q660,581 652,584M698,585Q712,579 703,574M574,567Q574,579 574,579M865,319Q868,309 870,310M666,609Q662,603 664,602M427,545Q434,538 428,538M738,470Q732,478 730,476M701,482Q713,483 713,481M654,561Q646,569 649,571M622,538Q613,540 613,540M507,596Q514,601 512,602M799,480Q789,481 792,476M650,519Q661,507 663,517M781,537Q792,540 791,541M841,348Q851,336 852,345M807,293Q805,306 802,305M624,531Q622,542 628,539M559,567Q566,572 566,567M506,647Q501,659 507,659M767,478Q776,481 774,476M642,554Q641,561 644,561M798,454Q809,457 803,461M617,559Q606,557 606,560M629,598Q625,588 626,588M650,629Q659,632 659,629M412,608Q408,593 416,596M516,518Q510,521 511,522M830,354Q831,361 829,360M849,525Q844,515 851,516M645,510Q652,508 652,510M636,527Q645,516 635,516"/><path stroke="#f3c697" stroke-width="1.7" d="M660,514Q663,524 666,521M763,596Q767,608 764,608M684,592Q696,589 692,584M840,287Q851,288 850,284M722,473Q725,466 726,468M784,490Q788,496 787,497M793,313Q802,313 801,315M559,648Q551,653 551,652M754,429Q768,434 762,439M788,584Q795,595 788,595M756,570Q764,565 764,565M795,485Q800,498 805,492M290,542Q293,550 290,550M710,489Q697,496 699,487M866,465Q860,478 856,470M749,440Q757,434 757,439M860,490Q875,494 872,486M821,297Q828,307 822,307M621,612Q625,627 631,620M830,508Q817,508 818,505M713,584Q713,573 718,576M746,568Q751,556 755,561M494,523Q505,530 502,532M664,584Q663,569 656,574M619,572Q607,574 608,570M835,367Q833,358 833,358M826,280Q820,290 817,286M382,640Q375,631 376,631M855,492Q858,486 859,487M873,366Q870,356 871,356M697,539Q700,525 705,533M597,589Q600,581 599,581M701,615Q696,609 700,608M872,374Q870,388 864,383M783,395Q795,396 793,400M615,541Q610,534 609,535M297,534Q305,537 301,540M685,619Q672,622 673,624M702,549Q714,545 714,545M796,419Q789,417 790,419M903,379Q907,388 908,387M742,486Q734,482 739,480M361,607Q362,600 362,600M818,399Q825,391 825,391M372,598Q376,584 381,589M361,520Q368,512 366,511M737,570Q725,569 728,575M708,540Q695,542 695,542M543,568Q547,574 548,572M805,488Q813,481 807,479M536,587Q529,593 534,594M424,619Q417,630 414,622M683,561Q696,563 692,556M494,603Q490,594 489,594M331,505Q329,514 326,512M404,571Q419,567 411,561M512,583Q516,594 519,591M859,291Q854,281 856,280M581,558Q588,558 586,555M620,593Q625,600 622,600M703,628Q692,631 692,628M378,589Q376,580 376,580M851,520Q849,505 843,510M802,328Q797,325 796,326M716,554Q710,557 710,555M793,546Q786,552 791,553M829,424Q824,434 822,433M811,321Q820,329 822,322M476,586Q467,587 470,583M763,514Q770,520 764,521M744,599Q734,605 735,597M459,550Q470,542 462,540M422,585Q417,580 421,579M345,554Q352,547 352,553M809,341Q814,335 813,334M819,272Q813,275 816,277M725,613Q735,610 733,616M640,570Q651,573 651,569M642,547Q635,536 643,537M548,652Q558,648 553,644M851,379Q852,393 844,389M527,516Q526,527 532,523M499,523Q499,517 501,517M525,559Q536,561 535,563M657,534Q654,527 656,527M846,466Q854,465 854,465M373,548Q379,536 382,542M387,618Q393,631 387,631M795,569Q787,564 787,565M769,479Q769,470 765,474M430,546Q426,551 428,552M523,547Q533,542 528,539M757,586Q757,594 754,593M713,577Q702,582 703,584M601,589Q595,579 596,578M335,606Q336,616 341,612M832,300Q821,306 829,309M567,588Q560,581 559,585M496,525Q485,527 485,527M862,283Q872,286 872,284M664,554Q660,542 665,543M723,515Q734,515 734,515M787,490Q797,500 790,502M525,635Q516,631 517,637M338,591Q341,602 345,600M468,587Q461,599 470,597M519,596Q510,595 513,599M834,324Q844,334 837,336M769,509Q775,513 776,513M845,256Q838,253 839,257M352,573Q359,572 358,575M814,264Q807,259 812,258M357,579Q364,571 365,578M804,547Q806,535 811,539M855,338Q848,337 851,333M780,528Q781,522 780,522M489,650Q496,649 496,648M706,479Q717,483 715,486M539,563Q537,571 536,571M395,556Q404,551 399,548M839,418Q843,430 847,426M671,591Q671,598 670,598"/><path stroke="#d99a62" stroke-width="1.5" d="M301,535Q303,546 307,541M568,520Q576,511 578,517M719,579Q717,589 715,588M539,604Q545,615 539,615M280,535Q271,526 269,530M807,287Q819,285 815,291M738,480Q742,489 745,484M639,548Q643,539 637,541M516,528Q524,523 521,521M761,585Q750,587 751,589M773,537Q765,535 765,536M853,369Q856,384 862,376M695,603Q699,609 700,607M690,493Q696,504 699,497M551,543Q553,552 548,550M753,512Q740,506 742,514M730,486Q730,495 726,492M754,570Q761,565 761,571M868,286Q875,292 871,293M844,336Q835,345 833,340M362,537Q370,548 365,549M739,460Q747,468 740,469M756,541Q751,529 751,528M512,598Q507,603 511,604M707,540Q714,546 712,547M880,440Q880,433 882,434M499,583Q491,576 490,578M553,514Q546,518 547,519M836,497Q838,506 835,506M803,436Q806,442 802,442M873,285Q860,278 860,286M862,471Q858,465 857,468M806,266Q805,278 800,272M552,615Q565,614 564,611M479,557Q476,551 474,554M805,352Q798,357 799,358M822,420Q812,427 818,429M857,545Q860,535 862,537M827,288Q821,285 821,287M333,544Q330,529 324,536M413,563Q406,573 404,570M443,648Q441,638 440,638M860,475Q857,485 863,482M532,522Q526,526 525,523M579,542Q583,530 580,530M368,624Q380,626 376,620M289,540Q291,524 283,529M467,531Q457,535 461,538M319,520Q319,536 327,530"/><path stroke="#efbc8a" stroke-width="1.5" d="M556,521Q546,516 547,515M776,576Q783,579 782,579M524,637Q517,634 520,631M851,406Q842,406 843,409M839,416Q840,406 838,407M296,572Q291,567 293,566M730,477Q721,482 726,484M683,620Q674,624 674,623M870,511Q875,495 865,499M614,609Q603,607 605,613M311,538Q311,547 315,545M722,586Q728,588 727,589M571,535Q564,531 568,529M786,422Q794,419 794,418M550,651Q564,652 559,645M830,305Q836,309 836,309M824,317Q827,330 829,329M602,540Q599,530 595,534M554,590Q554,604 551,603M804,357Q808,348 803,349M277,516Q286,520 285,516M744,575Q742,588 747,587M565,623Q557,631 555,626M326,592Q334,601 328,602M435,537Q440,547 435,547M488,510Q499,515 493,518M695,552Q695,542 700,546M811,341Q820,344 817,347M710,534Q712,540 714,539M845,274Q840,284 837,281M408,646Q402,636 407,636M435,562Q424,566 429,570M355,512Q345,509 345,512M825,504Q823,498 822,498M728,595Q717,597 719,601M856,373Q854,383 858,382M843,423Q851,426 848,429M698,561Q691,555 696,554M775,525Q778,515 773,517M792,596Q800,591 799,590M833,433Q844,436 839,440M350,538Q359,533 358,539M772,530Q770,518 773,519M823,269Q827,279 821,278M865,485Q868,480 867,479M701,536Q690,534 690,535M464,614Q476,614 473,619M537,605Q543,611 542,612M743,575Q743,562 749,565M812,267Q819,280 822,271M716,468Q719,461 718,461M571,541Q578,539 579,540M476,588Q474,601 480,599M856,555Q861,540 852,543M458,581Q467,577 467,577M869,378Q869,368 869,368M367,560Q359,562 362,565M458,537Q450,542 454,544"/><path stroke="#d99a62" stroke-width="2.1" d="M363,503Q373,513 365,514M702,629Q705,622 702,622M852,285Q847,273 851,273M533,558Q540,552 541,555M887,375Q885,386 881,381M735,567Q724,568 728,562M874,336Q863,347 862,337M740,612Q752,616 745,621M628,630Q623,625 622,627M825,525Q821,537 826,536M709,606Q711,613 713,611M656,629Q669,631 664,636M451,636Q446,647 443,640M370,534Q374,544 368,542M788,599Q781,597 782,601M824,375Q830,381 825,382M742,588Q734,581 733,584M814,329Q827,331 824,324M417,619Q421,628 415,627M462,654Q459,648 462,647M774,524Q768,531 766,527M470,590Q477,588 476,586M380,503Q383,512 377,509M807,498Q797,496 797,498M350,587Q350,595 349,594M307,560Q306,570 309,570M843,362Q846,375 851,368M791,447Q791,437 793,437M697,600Q706,603 701,606M481,627Q473,621 472,627M413,641Q400,644 406,649M568,531Q563,527 564,526M729,482Q719,486 719,485M828,547Q830,538 827,539M620,516Q629,514 629,515M790,426Q798,436 791,437M771,516Q772,530 766,527M683,558Q694,557 693,554M759,536Q748,542 747,540M377,575Q375,588 377,588M834,401Q830,407 831,407M440,558Q436,563 435,562M654,540Q653,531 657,532M873,399Q867,401 867,401M735,498Q738,510 737,511M792,384Q800,389 799,383M329,519Q329,511 329,511M349,539Q340,545 347,547M815,346Q811,353 815,352M771,538Q761,548 767,550M385,600Q385,591 388,591M554,649Q566,649 565,652M485,626Q483,617 488,618M408,564Q398,558 399,565M533,625Q524,636 522,628M871,479Q878,481 877,477M375,522Q369,537 379,534M519,634Q514,628 514,628M475,657Q472,666 474,666M447,510Q455,514 452,516M822,263Q819,272 816,267M518,562Q526,550 523,549M823,343Q817,334 818,333M547,560Q553,555 553,560M593,540Q589,535 590,535M564,641Q558,632 564,632M700,563Q690,563 692,568M496,639Q494,654 502,649M524,529Q528,515 532,520M686,556Q685,544 680,548M827,499Q816,493 816,499M383,576Q390,581 387,582M455,562Q444,565 448,569M438,524Q430,519 432,517M863,412Q870,407 870,407M481,624Q471,627 475,630M734,491Q740,480 743,483M798,511Q788,517 788,511M435,585Q425,577 424,583M702,593Q711,595 708,590M770,468Q772,481 766,479M588,579Q580,577 583,574M842,451Q844,444 846,446M587,564Q580,565 580,564M756,605Q764,607 762,610M510,646Q516,634 513,634M370,519Q379,524 377,526M740,495Q732,503 730,497M527,569Q519,575 520,576M510,596Q505,591 504,594M605,631Q602,622 599,627M895,380Q903,383 903,381M482,638Q490,637 490,639M786,529Q785,520 786,520M490,586Q490,580 491,580M431,524Q424,528 424,526M482,572Q479,580 484,579M713,594Q726,592 725,589M464,579Q469,588 467,589M791,423Q806,423 802,429M702,476Q710,483 706,485M560,564Q550,564 553,569M670,591Q662,582 669,581M867,457Q859,465 858,459M819,506Q827,498 828,500M805,370Q811,374 811,374M571,649Q573,635 567,637M558,581Q566,583 564,579M716,559Q711,564 712,565M801,464Q799,474 804,472M315,525Q323,519 323,525"/><path stroke="#efbc8a" stroke-width="1.6" d="M385,624Q395,630 388,633M627,606Q613,603 618,598M632,509Q619,518 628,521M816,311Q803,312 805,316M576,591Q576,583 579,584M498,580Q502,592 499,592M838,408Q826,412 827,415M355,514Q364,506 359,505M617,518Q628,514 625,511M725,578Q721,589 720,589M860,493Q857,509 866,503M699,499Q700,489 703,490M648,533Q647,541 645,540M669,568Q682,572 679,564M275,517Q287,513 286,510M366,504Q359,512 359,512M628,580Q639,584 636,577M454,639Q462,631 462,631M784,484Q794,485 791,489M606,511Q593,511 595,515M863,449Q855,452 856,454M315,577Q320,568 323,572M890,355Q886,349 888,348M553,538Q561,543 562,541M567,599Q560,590 558,594M496,656Q504,652 502,650M852,434Q853,447 846,442M703,620Q696,622 698,617M315,506Q304,506 305,509M730,561Q725,551 726,550M843,469Q855,473 855,471M343,580Q341,591 340,591M810,304Q807,313 804,309M321,592Q321,581 319,581M584,516Q587,507 590,510M847,369Q838,370 840,366M374,571Q367,572 370,575M581,517Q574,520 574,520M681,608Q673,601 676,599M488,509Q480,509 480,511M688,519Q677,525 678,527M448,531Q448,523 448,523M587,586Q594,591 594,590M715,551Q721,562 722,561M841,511Q831,506 831,505M623,621Q624,628 623,628M408,594Q407,583 403,587M565,578Q557,577 559,581M786,350Q798,354 798,355M409,578Q399,581 401,575M854,454Q843,454 843,452M742,521Q749,518 749,519M850,347Q850,356 849,356M436,511Q432,518 430,515M820,280Q829,282 824,286M739,516Q750,528 739,528M811,434Q819,432 817,429M646,573Q656,574 653,568M776,458Q778,445 773,446M797,538Q799,547 802,542M808,549Q818,548 814,544M873,303Q865,293 866,292M709,490Q715,483 716,484M825,314Q821,325 827,323M540,614Q544,602 537,604M704,533Q692,541 691,534M795,574Q803,576 804,575M655,625Q653,610 646,616M625,620Q640,621 634,628M758,587Q749,592 748,589M363,549Q368,544 366,543M819,371Q819,361 814,366M759,441Q755,435 757,435M519,564Q529,568 524,571M442,556Q449,553 449,555M658,539Q657,527 655,527M758,514Q755,526 753,525M645,597Q656,598 652,603M780,595Q787,591 782,589M514,510Q506,517 511,519M890,398Q887,405 886,404M358,581Q357,568 358,568M328,587Q317,589 317,588M780,444Q773,453 771,448M845,370Q846,364 848,366M548,557Q541,555 542,553M358,574Q361,560 354,563M543,598Q537,590 535,596M579,517Q581,502 575,505M871,376Q860,370 866,368M788,586Q801,592 794,596M708,514Q696,512 697,516M561,620Q551,628 560,629M328,560Q325,565 324,564M787,448Q779,455 777,450M473,598Q478,585 470,588M509,611Q507,598 513,599M335,517Q344,506 346,511M463,564Q454,567 454,563M831,372Q822,371 824,368M345,562Q350,555 349,554M424,617Q422,631 430,627M889,345Q900,352 894,355M575,509Q578,524 584,516M520,585Q517,575 514,577M699,530Q708,536 707,530M426,638Q433,645 430,647M890,340Q886,348 890,348M486,572Q482,564 480,566M489,542Q504,539 498,533M544,523Q553,527 551,529M601,571Q605,580 601,580M558,625Q569,624 564,619"/><path stroke="#e2a56e" stroke-width="2.3" d="M719,620Q718,628 715,625M525,548Q517,546 518,545M630,533Q623,526 622,527M545,583Q559,586 556,578M676,631Q661,625 670,620M472,512Q484,514 483,509M817,506Q820,512 822,510M819,500Q812,511 809,505M541,612Q533,610 534,614M452,639Q457,629 451,631M492,641Q490,649 487,645M654,599Q665,594 666,595M822,406Q817,409 818,410M731,559Q737,567 739,562M852,545Q850,532 856,535M800,392Q806,380 809,383M719,516Q732,516 732,516M517,536Q524,537 522,540M664,574Q670,578 670,577M801,550Q803,557 805,556M470,580Q460,573 461,581M382,571Q380,564 379,564M297,532Q287,536 293,539M818,272Q825,271 824,274M610,617Q603,607 607,606M314,546Q306,552 307,553M855,493Q861,490 858,488M883,348Q889,341 890,343M833,439Q822,443 824,437M753,443Q749,431 753,431M773,558Q770,565 772,565M584,623Q573,618 573,619M871,420Q866,415 865,419M485,647Q484,658 489,655M601,636Q591,627 599,626M846,291Q834,294 835,289M729,521Q722,527 728,528M886,422Q895,420 894,420M785,557Q795,559 794,556M701,480Q693,473 692,478M420,579Q414,589 420,589M496,554Q503,555 503,554M816,493Q820,503 823,500M848,299Q844,306 847,307M825,479Q827,468 830,469M587,533Q574,523 585,521M714,465Q723,460 723,464M607,610Q615,606 614,611M770,564Q778,556 772,555M308,531Q308,516 302,521M879,419Q881,406 886,409M848,362Q848,370 847,370M695,509Q692,515 691,514M897,361Q902,365 902,365M683,517Q693,527 683,527M489,533Q487,546 483,545M575,599Q562,599 565,594M865,284Q871,285 871,283M903,365Q893,367 892,366M849,275Q859,267 858,266M844,480Q836,479 838,483M481,593Q472,586 471,589M651,502Q646,500 646,500M688,627Q682,618 687,617M381,540Q378,549 376,548M373,507Q373,494 368,497M478,577Q474,564 469,570M547,590Q555,579 557,582M456,542Q465,546 465,541M753,518Q760,511 754,511M320,569Q315,579 313,577M833,497Q842,489 841,488M572,603Q579,605 579,605M519,580Q521,570 524,573M696,580Q685,575 685,576M762,485Q753,487 754,483M698,491Q702,482 704,484M454,575Q453,564 456,564M819,489Q826,490 824,486M614,576Q628,573 625,581M379,592Q370,591 373,596M553,586Q548,594 554,594M460,561Q450,568 456,570M457,632Q463,626 464,630M602,548Q610,548 607,552M719,460Q732,460 731,459M356,525Q358,512 351,516M884,357Q883,351 881,352M368,520Q367,514 368,514M755,515Q749,509 749,509M818,410Q807,415 814,418M390,524Q396,528 393,530M827,426Q832,435 829,436M617,626Q610,633 609,630M311,580Q303,585 303,582M630,553Q635,547 636,550M641,568Q651,562 652,568M748,495Q737,488 736,490M513,546Q510,552 512,552M891,390Q904,395 903,388M470,583Q479,579 474,576M434,614Q429,620 428,617M645,514Q636,522 635,515M790,411Q801,410 798,415M553,598Q544,597 545,600M634,508Q649,508 643,500M433,514Q428,504 428,504M410,559Q404,558 404,557M758,617Q747,610 751,607M802,342Q794,348 795,341M751,545Q750,535 745,539M730,613Q732,604 728,605M368,616Q355,614 356,618M834,461Q835,448 838,448"/><path stroke="#efbc8a" stroke-width="2.2" d="M775,509Q785,500 778,498M896,390Q908,400 909,391M876,447Q874,453 877,453M712,530Q705,540 703,534M841,487Q849,479 850,480M439,623Q434,614 431,619M652,583Q656,591 654,592M355,572Q364,564 362,562M866,303Q865,312 870,309M520,605Q522,595 523,595M716,541Q705,536 707,543M492,545Q485,543 485,545M623,561Q614,556 616,555M744,596Q749,601 745,602M590,536Q599,534 597,539M665,619Q667,633 661,631M577,530Q567,531 572,536M697,583Q691,575 691,575M867,500Q882,503 878,494M491,538Q482,541 483,543M727,565Q714,569 719,574M716,607Q711,600 712,599M753,453Q750,439 744,446M847,533Q863,537 858,528M661,604Q656,600 658,599M649,559Q643,560 643,558M898,365Q898,374 901,373M698,593Q695,581 691,586M575,619Q564,615 565,620M620,584Q627,570 619,572M882,364Q879,369 878,368M813,578Q819,571 819,571M715,599Q707,599 710,603M345,577Q335,579 335,579M845,389Q857,382 848,379M544,604Q539,610 538,606M482,571Q471,577 478,580M812,456Q800,460 801,455M485,517Q478,513 478,515M729,587Q735,582 736,587M325,512Q324,522 325,522M562,529Q554,540 559,541M738,457Q745,465 743,466M817,549Q816,537 816,537M679,576Q683,569 682,568M413,612Q412,605 413,605M837,420Q844,419 843,422M875,384Q884,388 884,384M698,487Q703,495 697,495M567,595Q554,598 555,600M538,576Q544,564 548,571M730,610Q731,620 726,617M641,622Q648,623 647,624M457,567Q466,564 461,561M410,623Q408,635 409,635M736,615Q730,608 729,610M859,536Q862,543 864,541M476,659Q465,664 465,660M378,549Q381,538 385,542M730,485Q738,484 737,482M898,413Q897,405 901,407M822,395Q821,388 820,388M849,386Q838,386 838,386M860,467Q870,467 869,471M605,551Q613,557 612,551M661,544Q653,549 653,549M475,612Q475,624 473,624M859,546Q845,551 853,556M403,539Q395,540 394,539M885,382Q884,392 885,392M487,610Q495,605 496,607M456,570Q468,577 467,568M659,607Q651,603 655,600M569,636Q555,637 558,631M843,394Q848,390 847,390M712,577Q703,569 703,569M822,427Q827,422 828,425M608,618Q614,613 609,612M835,460Q843,454 844,455M324,583Q313,583 317,588M700,492Q711,492 710,495M847,474Q850,464 853,466M638,636Q630,643 629,640M300,570Q295,579 292,575M744,588Q741,597 740,597M481,616Q489,623 484,625M593,540Q598,527 591,528M502,625Q513,620 507,617M633,612Q628,624 626,622M809,271Q800,281 806,283M444,511Q452,513 452,512M830,500Q837,508 830,509M866,525Q856,514 855,524M605,593Q613,592 613,594M536,646Q524,639 523,643M555,604Q555,590 548,595M826,303Q818,301 817,302M786,555Q771,559 775,550M362,499Q363,507 363,507M482,642Q481,655 484,654M385,508Q386,521 380,517"/><path stroke="#e8ae7a" stroke-width="1.8" d="M606,515Q615,523 609,525M751,608Q753,596 754,596M864,497Q859,487 859,487M386,583Q376,582 379,587M808,433Q797,442 805,444M806,430Q807,446 814,439M848,455Q839,466 847,467M829,344Q837,347 837,343M869,513Q858,509 859,515M470,550Q465,544 466,544M317,602Q328,594 321,592M757,472Q751,479 750,477M810,404Q816,414 809,414M594,520Q586,518 587,522M454,649Q458,637 463,644M823,537Q835,533 833,530M726,460Q735,463 734,464M786,528Q792,519 788,518M388,598Q382,588 380,595M861,495Q871,489 870,495M649,618Q636,616 639,611M738,496Q747,494 745,499M539,546Q545,553 543,554M800,563Q801,553 802,553M638,551Q641,545 639,545M797,321Q808,320 808,318M873,490Q879,497 874,498M587,510Q581,513 582,514M448,640Q440,636 440,638M819,388Q827,379 829,385M813,338Q823,336 821,333M598,625Q595,619 598,619M536,556Q529,550 528,553M840,331Q840,323 842,324M845,449Q838,437 835,446M818,364Q834,365 826,372M696,562Q692,573 689,567M440,560Q444,565 442,566M747,566Q738,570 738,571M817,567Q811,563 812,562M304,536Q311,540 310,536M457,515Q452,524 452,524M831,532Q839,529 839,533M580,628Q593,621 592,630M851,491Q864,493 862,487M789,385Q786,378 784,379M810,309Q813,321 818,315M836,378Q834,368 835,368M375,591Q370,581 372,581M810,555Q822,550 817,546M461,562Q454,571 452,566M825,356Q819,353 820,352M377,577Q386,573 384,570M442,526Q444,535 444,535M428,604Q420,606 420,605M428,540Q436,547 437,546M836,410Q839,422 832,419M879,425Q868,418 868,424M621,560Q617,569 614,564M597,553Q586,550 587,555M664,564Q669,575 662,573M352,522Q357,528 354,529M753,621Q738,622 743,615M640,528Q641,543 648,538M459,616Q471,612 470,618M875,296Q885,304 877,306M461,628Q454,625 455,623M570,523Q559,516 558,521M838,486Q852,491 849,482M300,572Q307,566 308,567M654,600Q649,608 649,607M465,596Q470,601 471,598M880,415Q894,415 888,408M609,638Q612,649 609,649M270,523Q270,517 271,517M768,475Q757,475 758,478M864,324Q870,315 865,315M465,634Q463,643 464,643M713,476Q715,466 710,467M874,413Q880,402 873,402M846,437Q857,443 853,446M595,542Q601,546 598,548M875,521Q881,510 875,511M465,654Q472,646 470,645M395,537Q407,540 402,545M362,558Q359,572 365,570M874,381Q870,372 869,372M569,557Q577,560 573,563M747,502Q746,491 743,492M827,360Q838,369 838,360M820,510Q810,523 808,513M358,529Q360,521 363,525M719,574Q712,586 720,585M545,514Q553,514 552,517"/><path stroke="#f3c697" stroke-width="2.3" d="M714,577Q713,568 709,572M765,530Q774,532 774,532M394,552Q401,557 402,556M502,636Q496,643 495,642M505,587Q496,589 499,592M751,482Q760,492 762,488M727,554Q729,565 723,562M645,625Q639,629 639,627M570,533Q577,532 576,530M772,482Q763,481 765,485M786,441Q788,453 793,447M782,441Q768,448 770,438M791,449Q803,445 802,450M607,563Q605,576 602,574M302,552Q307,545 305,545M876,342Q874,330 870,333M291,569Q293,561 291,561M507,576Q520,576 520,579M720,489Q718,500 713,497M882,351Q872,342 880,341M770,478Q774,491 767,488M832,478Q825,476 825,476M797,371Q806,383 809,374M403,641Q392,642 393,643M837,319Q835,331 841,328M626,636Q634,639 633,634M862,349Q856,359 857,359M742,609Q744,616 742,616M847,502Q851,513 852,512M777,484Q771,487 771,486M780,480Q780,490 776,488M357,622Q361,629 362,628M786,406Q776,403 779,399M469,598Q459,610 457,600M759,526Q766,533 767,531M747,492Q743,502 740,499M854,436Q846,442 846,443M626,593Q636,596 635,591M618,504Q622,518 614,514M849,543Q863,543 862,540M802,304Q806,314 805,315M478,620Q479,609 475,610M486,649Q500,647 496,641M354,621Q352,611 356,612M295,540Q306,527 308,537M753,546Q761,555 756,557M664,520Q671,513 666,512M290,520Q298,530 291,531M849,438Q835,442 836,435M452,560Q465,555 459,550M510,527Q514,519 515,521M498,645Q500,639 498,639M530,583Q540,581 540,582M624,643Q622,633 618,637M625,566Q618,575 624,576M463,614Q471,603 465,603M896,399Q890,392 889,396M352,597Q345,592 349,590M532,602Q526,590 530,590M812,362Q797,365 804,372M863,544Q860,537 863,537M868,477Q863,467 870,468M829,483Q825,474 826,474M488,584Q479,579 479,585M711,624Q700,620 701,625M692,577Q693,569 696,571M558,602Q561,591 557,591M860,483Q852,480 852,480M883,363Q873,367 873,364M309,548Q318,538 310,538M736,557Q735,545 739,546M459,634Q448,638 448,634M805,288Q817,292 815,295M840,413Q847,413 844,416M658,542Q663,535 664,538M321,574Q326,578 325,578M869,391Q868,383 871,384M865,361Q874,356 875,359M514,519Q502,514 502,514M652,502Q641,498 642,496M319,502Q331,505 332,504M837,522Q842,532 835,531M482,546Q492,535 484,534M802,475Q792,479 792,479M634,550Q638,542 640,543M427,643Q417,632 426,631M893,400Q879,406 881,397M449,602Q455,614 448,614M854,367Q841,371 844,364M637,604Q635,598 633,598M503,515Q500,508 498,509M452,550Q448,559 446,557M527,554Q533,566 537,560M676,518Q687,511 688,514M897,361Q893,348 899,349M581,645Q593,644 587,639M554,614Q547,604 544,609"/><path stroke="#d99a62" stroke-width="2.3" d="M317,548Q322,539 325,543M861,319Q853,309 852,310M442,625Q438,634 437,633M801,418Q794,408 802,408M624,611Q623,599 627,600M319,547Q310,552 312,554M453,547Q453,537 456,538M381,539Q384,532 386,535M475,591Q483,594 478,597M315,567Q310,573 309,572M459,538Q471,536 471,535M377,560Q371,567 372,568M335,540Q323,539 326,534M405,605Q411,595 413,598M623,577Q632,573 631,572M480,611Q482,627 489,619M311,548Q314,559 318,555M669,541Q671,550 675,547M864,512Q860,521 865,520M689,614Q698,616 695,620M665,565Q674,567 674,565M701,612Q705,620 708,617M515,601Q517,591 512,593M354,579Q342,574 344,582M606,603Q616,602 615,606M741,566Q747,559 744,558M577,569Q579,563 580,563M781,507Q787,497 790,501M543,621Q537,620 538,617M826,254Q831,259 832,258M847,340Q842,331 841,332M543,577Q556,578 553,583M634,621Q623,614 624,614M845,465Q839,454 843,453M611,578Q615,590 608,588M446,652Q437,643 441,641M643,593Q652,583 646,582M488,601Q498,601 494,606M713,546Q721,556 713,556M386,561Q392,573 387,573M688,538Q685,550 681,547M709,489Q715,498 715,498M773,472Q775,463 771,464M592,610Q579,613 581,607M591,622Q600,629 597,631M675,527Q681,518 683,524M689,626Q680,619 680,625M361,524Q365,517 362,517M704,503Q703,514 709,510M672,555Q669,567 675,565M681,528Q692,523 692,528M448,565Q443,559 445,558M585,643Q594,642 592,638M858,472Q870,475 870,476M659,549Q653,559 651,558M537,615Q531,609 531,610M826,545Q834,546 834,546M524,549Q529,544 530,545M743,456Q745,443 749,446M695,487Q706,491 706,487M675,540Q662,538 665,545M745,486Q752,491 752,491M525,556Q516,559 516,559M472,630Q482,634 480,628M558,634Q550,640 554,642M839,261Q836,251 833,257M747,507Q744,515 745,516M606,619Q596,620 596,619M468,619Q459,620 462,616M828,564Q817,571 818,562M869,307Q865,297 862,300M330,516Q328,531 335,528M370,509Q361,507 366,503M509,553Q521,558 513,562M499,533Q493,537 494,538M386,617Q391,630 383,627M857,449Q868,451 865,445M325,507Q318,503 322,501M534,601Q540,593 536,592M402,568Q390,573 390,570M757,433Q761,438 760,438M787,432Q778,441 777,437M842,311Q851,311 848,306M730,609Q726,598 722,602M578,634Q571,643 578,643M483,545Q476,552 480,553M729,513Q742,517 742,512M824,247Q825,257 824,257M820,461Q806,462 811,468M720,509Q712,510 713,513M786,591Q783,580 779,584M370,543Q358,538 361,535M587,587Q581,591 582,592M382,514Q374,511 376,516M812,407Q824,410 822,414M798,319Q813,322 807,328M632,563Q624,563 624,563M804,420Q796,418 797,416M444,507Q450,512 446,513M838,366Q847,374 848,372M368,518Q364,513 363,514M362,602Q359,592 362,592M802,336Q802,323 796,328M867,307Q857,295 867,295M778,413Q772,416 773,417M442,637Q433,639 438,643M320,599Q319,589 317,590M578,571Q572,574 572,574M304,540Q299,528 295,533M802,538Q806,546 806,546M802,410Q792,413 793,416M482,595Q471,604 480,605M783,402Q784,411 780,407M459,595Q460,602 462,601M859,367Q852,365 853,369M606,553Q608,561 605,561M366,529Q380,521 379,530M669,591Q675,596 671,597M319,537Q329,528 330,536M657,592Q654,603 658,602M676,565Q690,572 681,576"/><path stroke="#e8ae7a" stroke-width="2.2" d="M510,525Q513,515 513,516M817,316Q818,307 820,308M872,312Q867,319 865,313M501,600Q509,591 510,597M815,513Q822,507 817,506M444,544Q440,537 438,541M402,586Q407,581 405,580M832,488Q836,479 838,481M370,611Q383,609 377,603M867,467Q876,475 875,476M476,621Q485,631 486,623M460,560Q463,567 465,564M325,573Q321,581 326,581M855,527Q850,540 846,536M375,540Q368,543 371,545M734,606Q746,602 746,605M825,438Q832,430 834,433M396,530Q389,539 395,540M797,334Q805,345 800,346M599,565Q589,557 591,555M664,627Q669,634 667,634M596,604Q594,594 591,596M765,498Q769,506 770,506M797,431Q803,437 801,438M700,533Q691,523 689,528M620,545Q618,534 615,536M637,535Q647,536 646,533M711,521Q698,521 698,519M667,620Q673,617 673,617M429,626Q444,627 439,619M510,535Q525,531 522,539M734,499Q723,496 725,493M331,508Q333,502 334,502M636,547Q643,554 643,554M309,537Q319,542 318,543M803,505Q796,503 796,504M827,418Q839,417 834,423M596,553Q589,552 590,554M604,588Q593,589 596,593M321,513Q318,523 315,517M816,539Q803,533 808,529M288,545Q296,535 296,535M351,603Q352,614 347,611M581,583Q569,580 573,576M589,542Q591,533 594,537M866,392Q867,404 873,398M872,515Q862,510 861,514M632,532Q638,536 638,533M795,548Q796,537 801,540M327,573Q328,564 332,566M706,581Q698,581 698,581M793,319Q805,319 800,313M414,533Q420,525 421,531M709,468Q717,460 719,462M881,372Q877,357 872,365M775,575Q784,575 784,574M605,580Q607,586 606,586M828,352Q834,364 829,364M540,606Q551,606 548,602M813,558Q806,562 810,564M776,508Q787,504 785,501M525,622Q512,625 512,623M881,384Q891,382 885,378M376,624Q381,613 382,614M642,563Q642,554 643,554M488,562Q488,553 491,554M859,515Q847,522 847,516M373,625Q363,631 363,631M533,575Q525,570 524,572M403,590Q391,583 393,592M338,587Q337,597 337,597M687,542Q680,534 679,540M419,543Q412,545 412,542M482,652Q491,656 487,658M342,547Q343,559 339,558M585,535Q590,540 590,539M890,412Q880,416 881,417M656,610Q658,619 661,614M875,419Q868,433 878,431M490,585Q496,580 497,581M570,520Q578,523 578,519M845,279Q845,264 853,271M594,583Q601,581 601,584M461,606Q454,609 454,607M578,610Q587,619 583,620M747,468Q744,461 742,464M375,517Q366,526 373,528M680,595Q678,605 675,602M564,520Q575,511 575,520M681,568Q691,562 690,570M713,491Q700,486 704,482M686,519Q679,518 682,515M828,534Q831,541 828,542M558,571Q544,576 546,568M868,411Q866,418 867,418M492,612Q495,602 499,604M861,390Q870,383 867,381M693,628Q691,617 688,618M842,302Q831,295 838,291M461,563Q472,557 472,564M901,398Q892,402 893,397M621,545Q626,552 622,553M555,587Q548,578 552,576M867,455Q873,452 871,451"/><path stroke="#f3c697" stroke-width="1.5" d="M666,608Q678,609 674,603M576,527Q577,518 576,518M601,599Q611,588 613,595M897,377Q883,377 886,382M842,265Q828,266 833,273M695,512Q705,521 706,513M849,441Q845,449 842,445M809,320Q818,311 817,310M647,511Q651,504 652,504M816,369Q809,366 811,364M617,647Q611,636 608,643M748,507Q739,509 742,513M320,544Q318,550 317,550M809,294Q809,284 805,286M856,493Q866,494 863,488M784,413Q789,421 783,420M522,565Q530,561 529,566M866,324Q854,316 855,325M842,321Q837,315 838,315M879,421Q885,425 885,425M427,595Q438,587 439,590M650,628Q655,617 651,617M628,609Q632,597 635,600M572,640Q560,641 563,645M575,537Q581,531 582,533M876,488Q866,494 867,487M336,550Q345,548 344,551M659,510Q646,502 647,512M663,526Q671,526 670,528M385,626Q397,635 389,638M697,578Q685,574 686,571M911,393Q908,405 903,398M567,616Q581,610 580,618M827,293Q828,284 823,287M696,471Q691,482 697,481M827,573Q837,561 827,561M669,633Q667,625 671,627M828,293Q819,286 818,286M607,582Q606,590 610,587M736,514Q739,502 744,508M311,565Q301,560 307,557M537,526Q534,535 540,533M822,381Q819,372 824,373"/><path stroke="#e2a56e" stroke-width="1.8" d="M443,625Q448,632 444,632M783,592Q782,603 785,602M610,576Q618,575 617,578M450,652Q453,660 455,658M888,363Q891,375 894,373M641,631Q636,623 639,622M801,552Q796,556 795,555M823,344Q830,343 829,342M608,614Q620,605 612,602M714,624Q708,626 708,625M613,645Q602,639 602,640M460,607Q465,617 468,610M504,621Q493,625 494,626M451,563Q448,554 453,557M589,548Q597,543 598,545M692,488Q697,479 700,482M829,406Q815,407 818,400M573,585Q580,580 580,585M623,644Q621,631 617,633M585,550Q591,556 593,553M765,455Q767,463 769,462M814,487Q827,484 826,489M527,625Q520,619 522,618M803,585Q811,580 811,580M570,609Q559,612 559,613M761,591Q751,582 758,580M590,526Q585,536 589,537M379,588Q392,581 383,578M412,583Q413,575 411,575M380,631Q387,643 390,635M652,568Q658,567 658,568M686,597Q683,610 682,610M844,454Q852,461 849,463M692,497Q702,499 699,494M601,595Q603,585 607,588M726,515Q719,524 717,517M569,617Q575,607 577,611M365,514Q374,507 374,514M738,608Q734,616 737,616M746,479Q751,470 753,473M451,641Q442,646 441,642M865,320Q871,327 871,326M652,575Q642,577 647,581M698,577Q705,572 706,573M819,553Q824,563 824,563M886,312Q884,322 885,322M834,483Q839,477 836,477M791,553Q788,545 785,549M327,558Q323,565 326,565M431,562Q417,566 425,572M445,591Q451,586 451,592M882,327Q877,320 879,319M441,549Q453,545 452,551M684,520Q671,520 672,522M645,585Q646,594 650,592M748,575Q752,563 754,564M417,632Q424,625 425,631M728,541Q733,534 729,533M551,531Q545,524 544,528M437,600Q447,592 442,590M810,288Q800,297 808,298M799,409Q811,408 810,404M602,591Q592,582 593,581M614,528Q610,536 615,535M760,603Q767,593 763,592M514,604Q518,612 520,610M440,508Q445,513 443,514M746,534Q753,533 752,532M851,405Q843,396 842,404M576,636Q577,628 576,629M799,375Q801,385 804,382M613,612Q601,608 607,604M668,508Q675,516 676,513M579,594Q568,591 570,597M775,562Q761,562 763,557M486,664Q495,666 495,664M665,575Q671,565 673,566M659,523Q654,531 652,528M545,600Q549,594 551,597M729,480Q720,479 723,484M812,415Q803,418 805,420M829,376Q826,365 824,366M580,515Q592,521 592,517M589,528Q579,516 587,515M852,320Q849,330 849,330M732,511Q739,506 736,504M434,637Q432,651 426,645M680,528Q670,521 675,518M671,502Q672,493 675,496M820,561Q812,559 813,562M830,410Q825,404 824,407M901,360Q888,360 891,365M353,602Q366,602 362,596M624,542Q633,539 632,543M759,431Q771,432 770,428M328,597Q330,584 335,587M659,597Q671,589 670,598M848,326Q855,335 854,336M652,577Q654,585 654,585M487,594Q478,597 480,591M789,417Q788,402 781,408M505,610Q496,616 496,615M823,312Q815,318 820,320M869,429Q876,418 878,420M856,504Q853,494 858,495M300,532Q307,533 305,529M325,510Q319,518 325,518M405,629Q401,620 406,621"/><path stroke="#e8ae7a" stroke-width="2.4" d="M853,535Q860,541 860,540M816,464Q826,460 825,459M316,556Q317,563 320,561M476,590Q466,585 473,583M418,618Q423,630 426,628M295,522Q287,524 291,527M477,617Q471,612 470,614M344,502Q349,508 350,507M779,569Q777,555 784,559M900,387Q910,382 910,387M327,537Q323,551 318,544M785,519Q792,527 794,524M434,640Q427,635 432,633M843,370Q836,363 835,364M424,605Q429,599 426,598M439,611Q433,605 432,608M610,621Q619,623 618,626M686,565Q673,567 679,572M599,583Q586,588 593,592M490,602Q487,609 490,609M813,280Q800,279 803,285M387,529Q392,520 390,519M832,364Q829,357 832,357M799,584Q810,582 805,578M781,486Q790,480 786,477M708,567Q710,579 712,578M758,581Q751,585 751,584M788,337Q798,341 797,336M298,529Q292,536 296,537M552,579Q555,591 554,591M864,428Q857,425 857,426M849,515Q847,523 844,519M546,601Q547,610 544,609M539,526Q533,540 529,531M707,555Q708,548 706,548M810,330Q820,337 814,339M841,376Q834,364 841,364M782,486Q773,485 775,482M773,478Q788,481 782,487M658,561Q652,566 652,561M880,392Q874,387 874,387M292,561Q284,556 287,554M741,493Q729,504 728,495M636,568Q646,563 647,567M756,454Q757,446 757,446M677,507Q691,504 688,512M765,531Q768,538 767,538M767,480Q778,471 772,469M654,568Q657,577 660,575M700,530Q706,537 701,537M416,618Q426,623 420,626M803,518Q814,523 815,522M822,501Q832,496 832,500M535,551Q545,556 545,555M751,544Q764,544 759,538M485,522Q483,515 486,516M866,453Q876,451 876,449M817,328Q828,324 828,325M778,465Q776,452 780,453M355,605Q351,598 355,597M819,559Q815,566 819,567M772,565Q775,574 771,574M387,616Q396,609 397,615M510,528Q518,529 517,526M389,547Q384,541 384,541"/><path stroke="#e8ae7a" stroke-width="1.5" d="M785,407Q794,400 794,400M635,549Q632,543 635,543M690,595Q691,610 698,605M472,610Q476,605 473,604M499,610Q509,606 509,607M730,513Q739,515 739,515M791,474Q793,466 790,466M824,367Q831,371 831,369M837,297Q844,301 843,303M610,580Q614,586 612,587M748,474Q734,478 741,483M469,517Q472,508 475,513M303,526Q301,535 299,534M866,406Q878,403 877,402M774,487Q771,476 771,476M445,640Q439,645 441,646M289,538Q286,546 284,544M810,494Q811,503 813,502M856,287Q847,280 848,288M753,606Q762,609 762,606M535,641Q539,630 543,636M773,500Q779,493 779,492M714,533Q713,520 716,521M768,536Q761,529 761,529M349,556Q346,547 346,547M670,509Q667,498 666,498M879,337Q880,350 880,350M782,530Q773,525 773,525M837,448Q839,458 843,456M792,544Q801,542 800,540M492,649Q481,646 482,644M820,439Q825,429 818,431M849,531Q849,522 853,525M499,609Q496,602 496,602M406,595Q401,601 404,602M603,552Q600,565 606,563M826,399Q835,391 834,390M443,523Q449,513 451,515M677,494Q687,485 688,490M690,538Q678,543 685,547M806,469Q801,477 806,477M435,555Q435,569 442,564M324,577Q328,591 333,585M581,554Q589,555 589,555M529,557Q520,563 520,557M839,421Q839,407 833,412M314,554Q307,561 309,562M681,510Q691,504 686,502M789,412Q798,414 795,417M591,620Q591,630 591,630M599,643Q596,648 597,649"/><path stroke="#e2a56e" stroke-width="1.5" d="M569,550Q574,556 575,555M389,560Q378,559 379,558M638,571Q645,570 645,572M535,634Q528,625 535,625M534,533Q529,520 533,520M303,525Q296,529 300,531M820,372Q816,357 824,361M417,525Q417,513 412,515M361,522Q374,522 372,517M859,473Q859,484 854,481M428,536Q414,539 419,544M843,328Q840,336 837,331M401,647Q414,640 406,637M525,523Q531,511 523,513M862,333Q853,344 851,336M702,488Q698,482 697,483M846,407Q849,420 843,418M363,554Q369,546 365,546M852,470Q860,460 862,465M393,521Q395,513 390,515M538,517Q543,510 544,515M275,540Q279,549 282,545M526,608Q535,616 528,617M569,541Q572,550 570,550M567,580Q568,590 566,590M885,410Q870,405 877,400M642,494Q644,505 646,505M841,439Q849,438 847,442M385,589Q375,592 380,596M366,516Q373,527 373,527M394,625Q383,619 384,617M285,527Q296,532 290,536M648,554Q656,542 659,550M586,548Q590,561 593,558M608,578Q619,566 610,565M515,564Q514,554 512,556M591,595Q589,603 586,601M856,341Q853,350 858,349M827,472Q815,464 824,462M441,646Q440,634 434,639M576,559Q569,558 570,561M414,646Q404,637 413,636M830,528Q817,534 818,527M731,480Q743,472 742,482M389,632Q393,642 388,642M470,555Q477,555 476,552M505,619Q519,615 516,612M815,485Q804,486 805,484M412,535Q403,538 405,541M828,388Q819,400 827,400M823,337Q812,335 817,330M437,605Q447,611 446,603M724,554Q731,553 731,553M442,587Q452,584 447,580M774,607Q776,615 772,615"/><path stroke="#efbc8a" stroke-width="2.4" d="M285,522Q294,532 288,533M795,454Q790,461 792,462M830,387Q827,374 835,377M371,536Q380,526 377,525M798,561Q805,551 806,552M723,569Q717,566 717,566M704,618Q712,626 708,627M346,580Q337,575 338,580M856,464Q849,458 854,457M806,299Q813,299 813,297M528,565Q535,573 530,574M692,560Q697,569 699,567M689,562Q699,566 698,561M687,513Q685,527 692,524M845,463Q837,469 837,463M535,563Q533,550 535,550M531,564Q523,560 522,560M636,540Q650,537 644,532M841,538Q827,537 831,531M828,289Q841,286 836,281M852,493Q846,497 847,498M406,591Q400,603 396,597M808,453Q818,457 818,453M837,295Q850,297 845,302M816,352Q824,350 824,350M870,324Q862,331 865,333M313,598Q317,589 320,592M794,410Q792,419 789,418M410,595Q406,590 405,591M550,538Q538,546 543,549M323,597Q330,603 328,604M611,556Q613,564 617,560M606,517Q603,528 602,527M470,511Q464,517 466,518M472,593Q472,604 471,604M379,631Q376,643 381,642M820,358Q808,358 811,363M416,629Q413,639 411,637M832,253Q844,253 841,259M805,325Q817,323 817,324M730,453Q724,459 724,459M393,536Q394,545 398,541M747,497Q736,497 737,493M374,511Q364,500 374,500M792,543Q792,556 788,555M313,583Q320,571 323,579M793,460Q798,452 801,457M659,523Q651,529 650,525M715,522Q703,522 703,519M371,617Q366,607 370,606M425,569Q424,562 423,563M475,583Q463,576 465,586M643,517Q638,504 643,504M442,524Q451,528 448,530M496,653Q502,657 500,658M840,567Q831,562 832,562M501,655Q503,667 505,666M805,405Q799,393 804,393M772,473Q763,465 770,463M681,557Q680,570 674,565"/></g>
<path d="M821.0,334.0 C820.8,339.2 821.0,357.0 820.0,365.0 C819.0,373.0 816.7,377.5 815.0,382.0 C813.3,386.5 812.2,387.5 809.8,392.0 C807.4,396.5 804.2,403.7 800.8,409.0 C797.4,414.3 793.6,419.2 789.5,423.7 C785.4,428.2 780.7,432.1 776.0,436.0 C771.3,439.9 767.1,442.6 761.4,447.3 C755.7,452.0 747.2,459.8 742.0,464.0 C736.8,468.2 735.1,469.6 730.0,472.7 C724.9,475.8 718.7,478.9 711.5,482.6 C704.3,486.3 694.9,491.1 686.6,495.0 C678.3,498.9 670.0,503.0 661.7,506.3 C653.4,509.6 645.0,512.1 636.7,515.0 C628.4,517.9 620.1,521.3 611.8,523.8 C603.5,526.3 595.3,528.1 587.0,530.0 C578.7,531.9 574.7,534.0 562.0,535.0 C549.3,536.0 528.3,536.2 511.0,536.0 C493.7,535.8 472.8,534.5 458.0,533.7 C443.2,532.9 435.0,532.3 422.0,531.0 C409.0,529.7 392.9,527.0 380.0,526.0 C367.1,525.0 357.6,525.7 344.6,524.7 C331.6,523.7 314.1,521.0 302.0,520.0 C289.9,519.0 277.0,519.2 272.0,519.0" fill="none" stroke="#6e3e14" stroke-width="9" stroke-opacity="0.75" filter="url(#blur3)"/>
<path fill="url(#flapG)" d="M246.0,519.0 C240.7,519.3 240.0,518.5 238.0,517.0 C236.0,515.5 234.2,512.8 234.0,510.0 C233.8,507.2 235.5,503.3 237.0,500.0 C238.5,496.7 240.4,493.3 243.0,490.0 C245.6,486.7 247.2,485.4 252.5,480.0 C257.8,474.6 267.5,464.8 275.0,457.7 C282.5,450.6 291.3,443.4 297.6,437.4 C303.9,431.4 306.3,427.2 313.0,421.6 C319.7,416.0 330.8,408.9 338.0,403.6 C345.2,398.3 350.0,395.1 356.0,390.0 C362.0,384.9 368.0,378.6 374.0,373.0 C380.0,367.4 386.7,361.0 392.0,356.3 C397.3,351.6 398.9,349.6 405.7,345.0 C412.5,340.4 425.0,334.3 432.7,329.0 C440.4,323.7 446.6,318.2 452.0,313.0 C457.4,307.8 461.0,302.8 465.0,298.0 C469.0,293.2 471.3,287.9 476.0,284.0 C480.7,280.1 487.1,277.2 493.4,274.6 C499.7,272.0 508.1,271.8 514.0,268.3 C519.9,264.8 522.8,260.4 528.7,253.8 C534.6,247.2 544.0,235.2 549.5,229.0 C555.0,222.8 556.5,219.5 562.0,216.4 C567.5,213.3 575.1,213.6 582.7,210.2 C590.3,206.8 600.0,200.2 607.6,195.7 C615.2,191.2 622.2,187.8 628.4,183.0 C634.6,178.2 639.8,170.4 645.0,166.6 C650.2,162.8 653.7,161.8 659.5,160.4 C665.3,159.1 673.2,158.6 680.0,158.5 C686.8,158.4 692.0,158.1 700.0,160.0 C708.0,161.9 718.7,165.3 728.0,169.7 C737.3,174.1 749.0,181.4 756.0,186.6 C763.0,191.8 765.3,195.0 770.0,200.6 C774.7,206.2 779.3,213.0 784.0,220.0 C788.7,227.0 794.6,235.7 798.4,242.8 C802.2,249.9 804.5,255.5 806.9,262.5 C809.2,269.5 810.6,277.5 812.5,285.0 C814.4,292.5 816.8,299.5 818.0,307.5 C819.2,315.5 819.5,323.9 819.5,332.8 C819.5,341.7 819.1,353.5 818.0,361.0 C816.9,368.5 814.7,373.5 813.0,378.0 C811.3,382.5 810.2,383.5 807.8,388.0 C805.4,392.5 802.2,399.7 798.8,405.0 C795.4,410.3 791.6,415.2 787.5,419.7 C783.4,424.2 778.7,428.1 774.0,432.0 C769.3,435.9 765.1,438.6 759.4,443.3 C753.7,448.0 745.2,455.8 740.0,460.0 C734.8,464.2 733.1,465.6 728.0,468.7 C722.9,471.8 716.7,474.9 709.5,478.6 C702.3,482.3 692.9,487.1 684.6,491.0 C676.3,494.9 668.0,499.0 659.7,502.3 C651.4,505.6 643.0,508.1 634.7,511.0 C626.4,513.9 618.1,517.3 609.8,519.8 C601.5,522.3 593.3,524.1 585.0,526.0 C576.7,527.9 572.7,530.0 560.0,531.0 C547.3,532.0 526.3,532.2 509.0,532.0 C491.7,531.8 470.8,530.5 456.0,529.7 C441.2,528.9 433.0,528.3 420.0,527.0 C407.0,525.7 390.9,523.0 378.0,522.0 C365.1,521.0 355.6,521.7 342.6,520.7 C329.6,519.7 312.1,517.0 300.0,516.0 C287.9,515.0 279.0,514.5 270.0,515.0 C261.0,515.5 251.3,518.7 246.0,519.0 Z"/>
<path fill="#fff" d="M246.0,519.0 C240.7,519.3 240.0,518.5 238.0,517.0 C236.0,515.5 234.2,512.8 234.0,510.0 C233.8,507.2 235.5,503.3 237.0,500.0 C238.5,496.7 240.4,493.3 243.0,490.0 C245.6,486.7 247.2,485.4 252.5,480.0 C257.8,474.6 267.5,464.8 275.0,457.7 C282.5,450.6 291.3,443.4 297.6,437.4 C303.9,431.4 306.3,427.2 313.0,421.6 C319.7,416.0 330.8,408.9 338.0,403.6 C345.2,398.3 350.0,395.1 356.0,390.0 C362.0,384.9 368.0,378.6 374.0,373.0 C380.0,367.4 386.7,361.0 392.0,356.3 C397.3,351.6 398.9,349.6 405.7,345.0 C412.5,340.4 425.0,334.3 432.7,329.0 C440.4,323.7 446.6,318.2 452.0,313.0 C457.4,307.8 461.0,302.8 465.0,298.0 C469.0,293.2 471.3,287.9 476.0,284.0 C480.7,280.1 487.1,277.2 493.4,274.6 C499.7,272.0 508.1,271.8 514.0,268.3 C519.9,264.8 522.8,260.4 528.7,253.8 C534.6,247.2 544.0,235.2 549.5,229.0 C555.0,222.8 556.5,219.5 562.0,216.4 C567.5,213.3 575.1,213.6 582.7,210.2 C590.3,206.8 600.0,200.2 607.6,195.7 C615.2,191.2 622.2,187.8 628.4,183.0 C634.6,178.2 639.8,170.4 645.0,166.6 C650.2,162.8 653.7,161.8 659.5,160.4 C665.3,159.1 673.2,158.6 680.0,158.5 C686.8,158.4 692.0,158.1 700.0,160.0 C708.0,161.9 718.7,165.3 728.0,169.7 C737.3,174.1 749.0,181.4 756.0,186.6 C763.0,191.8 765.3,195.0 770.0,200.6 C774.7,206.2 779.3,213.0 784.0,220.0 C788.7,227.0 794.6,235.7 798.4,242.8 C802.2,249.9 804.5,255.5 806.9,262.5 C809.2,269.5 810.6,277.5 812.5,285.0 C814.4,292.5 816.8,299.5 818.0,307.5 C819.2,315.5 819.5,323.9 819.5,332.8 C819.5,341.7 819.1,353.5 818.0,361.0 C816.9,368.5 814.7,373.5 813.0,378.0 C811.3,382.5 810.2,383.5 807.8,388.0 C805.4,392.5 802.2,399.7 798.8,405.0 C795.4,410.3 791.6,415.2 787.5,419.7 C783.4,424.2 778.7,428.1 774.0,432.0 C769.3,435.9 765.1,438.6 759.4,443.3 C753.7,448.0 745.2,455.8 740.0,460.0 C734.8,464.2 733.1,465.6 728.0,468.7 C722.9,471.8 716.7,474.9 709.5,478.6 C702.3,482.3 692.9,487.1 684.6,491.0 C676.3,494.9 668.0,499.0 659.7,502.3 C651.4,505.6 643.0,508.1 634.7,511.0 C626.4,513.9 618.1,517.3 609.8,519.8 C601.5,522.3 593.3,524.1 585.0,526.0 C576.7,527.9 572.7,530.0 560.0,531.0 C547.3,532.0 526.3,532.2 509.0,532.0 C491.7,531.8 470.8,530.5 456.0,529.7 C441.2,528.9 433.0,528.3 420.0,527.0 C407.0,525.7 390.9,523.0 378.0,522.0 C365.1,521.0 355.6,521.7 342.6,520.7 C329.6,519.7 312.1,517.0 300.0,516.0 C287.9,515.0 279.0,514.5 270.0,515.0 C261.0,515.5 251.3,518.7 246.0,519.0 Z" filter="url(#fabric)"/>
<g clip-path="url(#flapClip)"><circle cx="653" cy="185" r="11" fill="#e9c898" opacity="0.35" filter="url(#blur2)"/><circle cx="652" cy="182" r="11" fill="url(#bumpG)"/><circle cx="568" cy="261" r="11" fill="#e9c898" opacity="0.35" filter="url(#blur2)"/><circle cx="567" cy="258" r="11" fill="url(#bumpG)"/><circle cx="662" cy="243" r="11" fill="#e9c898" opacity="0.35" filter="url(#blur2)"/><circle cx="661" cy="240" r="11" fill="url(#bumpG)"/><circle cx="745" cy="224" r="11" fill="#e9c898" opacity="0.35" filter="url(#blur2)"/><circle cx="744" cy="221" r="11" fill="url(#bumpG)"/><circle cx="490" cy="290" r="11" fill="#e9c898" opacity="0.35" filter="url(#blur2)"/><circle cx="489" cy="287" r="11" fill="url(#bumpG)"/><circle cx="680" cy="300" r="11" fill="#e9c898" opacity="0.35" filter="url(#blur2)"/><circle cx="679" cy="297" r="11" fill="url(#bumpG)"/><circle cx="768" cy="286" r="11" fill="#e9c898" opacity="0.35" filter="url(#blur2)"/><circle cx="767" cy="283" r="11" fill="url(#bumpG)"/><circle cx="490" cy="326" r="11" fill="#e9c898" opacity="0.35" filter="url(#blur2)"/><circle cx="489" cy="323" r="11" fill="url(#bumpG)"/><circle cx="408" cy="355" r="11" fill="#e9c898" opacity="0.35" filter="url(#blur2)"/><circle cx="407" cy="352" r="11" fill="url(#bumpG)"/><circle cx="506" cy="375" r="11" fill="#e9c898" opacity="0.35" filter="url(#blur2)"/><circle cx="505" cy="372" r="11" fill="url(#bumpG)"/><circle cx="596" cy="367" r="11" fill="#e9c898" opacity="0.35" filter="url(#blur2)"/><circle cx="595" cy="364" r="11" fill="url(#bumpG)"/><circle cx="702" cy="363" r="11" fill="#e9c898" opacity="0.35" filter="url(#blur2)"/><circle cx="701" cy="360" r="11" fill="url(#bumpG)"/><circle cx="788" cy="351" r="11" fill="#e9c898" opacity="0.35" filter="url(#blur2)"/><circle cx="787" cy="348" r="11" fill="url(#bumpG)"/><circle cx="611" cy="416" r="11" fill="#e9c898" opacity="0.35" filter="url(#blur2)"/><circle cx="610" cy="413" r="11" fill="url(#bumpG)"/><circle cx="711" cy="408" r="11" fill="#e9c898" opacity="0.35" filter="url(#blur2)"/><circle cx="710" cy="405" r="11" fill="url(#bumpG)"/><circle cx="523" cy="433" r="11" fill="#e9c898" opacity="0.35" filter="url(#blur2)"/><circle cx="522" cy="430" r="11" fill="url(#bumpG)"/><circle cx="423" cy="439" r="11" fill="#e9c898" opacity="0.35" filter="url(#blur2)"/><circle cx="422" cy="436" r="11" fill="url(#bumpG)"/><circle cx="331" cy="461" r="11" fill="#e9c898" opacity="0.35" filter="url(#blur2)"/><circle cx="330" cy="458" r="11" fill="url(#bumpG)"/><circle cx="780" cy="433" r="11" fill="#e9c898" opacity="0.35" filter="url(#blur2)"/><circle cx="779" cy="430" r="11" fill="url(#bumpG)"/><circle cx="543" cy="490" r="11" fill="#e9c898" opacity="0.35" filter="url(#blur2)"/><circle cx="542" cy="487" r="11" fill="url(#bumpG)"/><circle cx="271" cy="493" r="11" fill="#e9c898" opacity="0.35" filter="url(#blur2)"/><circle cx="270" cy="490" r="11" fill="url(#bumpG)"/><circle cx="356" cy="398" r="11" fill="#e9c898" opacity="0.35" filter="url(#blur2)"/><circle cx="355" cy="395" r="11" fill="url(#bumpG)"/><circle cx="601" cy="208" r="11" fill="#e9c898" opacity="0.35" filter="url(#blur2)"/><circle cx="600" cy="205" r="11" fill="url(#bumpG)"/><circle cx="721" cy="188" r="11" fill="#e9c898" opacity="0.35" filter="url(#blur2)"/><circle cx="720" cy="185" r="11" fill="url(#bumpG)"/><path d="M818.0,326.0 C817.8,331.2 818.0,349.0 817.0,357.0 C816.0,365.0 813.7,369.5 812.0,374.0 C810.3,378.5 809.2,379.5 806.8,384.0 C804.4,388.5 801.2,395.7 797.8,401.0 C794.4,406.3 790.6,411.2 786.5,415.7 C782.4,420.2 777.7,424.1 773.0,428.0 C768.3,431.9 764.1,434.6 758.4,439.3 C752.7,444.0 744.2,451.8 739.0,456.0 C733.8,460.2 732.1,461.6 727.0,464.7 C721.9,467.8 715.7,470.9 708.5,474.6 C701.3,478.3 691.9,483.1 683.6,487.0 C675.3,490.9 667.0,495.0 658.7,498.3 C650.4,501.6 642.0,504.1 633.7,507.0 C625.4,509.9 617.1,513.3 608.8,515.8 C600.5,518.3 592.3,520.1 584.0,522.0 C575.7,523.9 571.7,526.0 559.0,527.0 C546.3,528.0 525.3,528.2 508.0,528.0 C490.7,527.8 469.8,526.5 455.0,525.7 C440.2,524.9 432.0,524.3 419.0,523.0 C406.0,521.7 389.9,519.0 377.0,518.0 C364.1,517.0 354.6,517.7 341.6,516.7 C328.6,515.7 311.1,513.0 299.0,512.0 C286.9,511.1 274.0,511.2 269.0,511.0" fill="none" stroke="#fdeed6" stroke-width="6" stroke-opacity="0.7" filter="url(#blur2)"/></g>
<g fill="#0d0d0d" filter="url(#rough)"><path d="M91.7,355.3 L92.5,354.1 L91.3,353.1 L90.3,354.1 Z M96.4,349.3 L97.9,347.3 L96.4,346.1 L94.8,348.1 Z M99.3,345.0 L101.0,342.7 L100.0,341.9 L98.3,344.2 Z M102.8,340.5 L104.8,338.4 L103.2,337.2 L101.7,339.7 Z M108.1,333.9 L109.8,331.8 L111.2,329.8 L112.7,328.1 L111.3,327.1 L110.0,328.9 L108.4,330.7 L106.8,332.9 Z M115.1,325.0 L116.3,323.6 L117.5,322.3 L118.6,320.9 L117.2,319.7 L116.1,321.1 L115.0,322.5 L113.9,324.0 Z M120.9,318.5 L121.9,317.2 L123.0,316.0 L124.1,314.7 L125.2,313.5 L126.2,312.0 L124.6,310.6 L123.3,311.9 L122.3,313.2 L121.2,314.5 L120.3,315.8 L119.2,317.0 Z M128.5,309.1 L130.0,307.8 L131.4,306.3 L132.7,304.7 L133.9,302.9 L132.1,301.5 L130.6,303.0 L129.3,304.6 L128.1,306.2 L127.1,307.9 Z M136.7,299.7 L137.9,297.9 L139.6,296.5 L137.4,294.7 L136.3,296.6 L134.7,298.1 Z M142.3,293.1 L143.6,291.4 L144.9,289.7 L146.7,288.6 L148.2,287.2 L149.2,285.3 L147.6,283.8 L145.8,284.8 L144.4,286.4 L143.4,288.4 L141.9,289.9 L140.3,291.4 Z M152.4,282.9 L153.7,281.3 L155.0,279.8 L156.5,278.5 L158.2,277.5 L155.9,274.9 L154.7,276.5 L153.3,278.0 L151.7,279.3 L150.1,280.5 Z M159.8,276.2 L160.8,274.5 L162.6,273.5 L163.8,271.9 L165.8,271.0 L167.1,269.5 L169.0,268.6 L170.7,267.4 L172.0,265.8 L173.9,265.0 L175.1,263.3 L176.6,261.9 L178.5,261.1 L179.8,259.5 L181.6,258.4 L183.4,257.4 L185.3,256.3 L186.9,254.7 L188.6,253.4 L191.0,252.8 L192.7,251.0 L195.1,250.2 L197.2,248.7 L199.1,246.7 L201.4,245.3 L203.7,243.8 L206.1,242.4 L208.4,240.8 L210.8,239.2 L213.2,237.8 L215.7,236.7 L217.8,234.8 L220.1,233.4 L222.6,232.4 L224.5,230.7 L226.8,229.6 L229.5,229.3 L231.5,227.8 L233.9,226.8 L235.9,225.2 L238.5,224.8 L240.9,224.2 L242.9,222.6 L245.5,222.6 L247.8,221.8 L249.8,220.3 L252.2,220.3 L254.3,219.3 L256.4,218.8 L258.3,217.7 L260.3,217.5 L262.2,216.9 L263.7,215.3 L265.5,214.7 L267.5,215.0 L269.3,214.8 L270.6,213.3 L272.4,213.1 L274.1,212.7 L275.6,211.9 L277.3,211.5 L279.0,210.9 L280.7,210.5 L282.5,210.4 L284.0,209.5 L285.6,209.2 L287.3,209.3 L288.6,207.9 L290.3,208.3 L291.9,208.2 L293.3,207.3 L294.9,206.8 L296.7,207.3 L298.4,206.2 L300.2,205.9 L302.2,205.9 L304.3,206.1 L306.5,205.0 L308.9,205.1 L311.4,204.9 L314.0,205.4 L316.6,204.6 L319.4,205.0 L322.1,203.9 L324.9,204.0 L327.7,204.3 L330.6,204.5 L333.4,203.8 L336.2,203.5 L338.9,203.3 L341.6,203.8 L344.3,203.4 L346.9,204.3 L349.6,204.4 L352.2,203.5 L354.9,203.8 L357.5,204.6 L360.2,204.5 L362.8,204.9 L365.5,204.4 L368.2,204.3 L370.8,204.8 L373.4,205.7 L376.1,205.2 L378.7,205.6 L381.4,205.9 L384.0,206.2 L386.7,206.5 L389.2,207.5 L392.0,206.8 L394.7,206.9 L397.1,208.5 L399.7,208.8 L402.3,209.4 L405.0,209.1 L407.5,210.3 L410.0,210.8 L412.8,210.4 L415.2,211.7 L417.7,212.6 L420.4,213.1 L423.0,213.7 L425.8,214.3 L428.4,215.2 L431.0,216.0 L433.7,216.8 L436.0,218.5 L438.8,219.1 L441.0,220.8 L443.9,220.9 L445.9,223.0 L448.4,223.8 L450.6,225.1 L452.9,226.1 L455.0,227.1 L457.3,227.7 L459.7,227.9 L461.2,229.9 L463.6,230.2 L465.4,231.4 L467.1,232.9 L469.2,233.8 L471.3,234.7 L472.9,236.5 L475.2,237.2 L477.6,238.1 L479.8,239.2 L481.7,241.1 L484.3,241.9 L486.5,243.5 L489.2,244.2 L491.7,245.2 L493.9,246.9 L496.2,248.6 L499.1,249.1 L501.1,251.2 L503.5,252.7 L506.0,254.0 L508.4,255.4 L511.4,255.9 L513.4,258.2 L515.6,260.1 L518.7,260.8 L521.0,262.7 L523.6,264.4 L525.9,266.5 L528.5,268.2 L530.9,270.1 L533.1,272.2 L536.2,273.2 L538.6,275.2 L540.9,277.1 L543.2,279.0 L545.4,280.8 L546.7,283.6 L548.9,285.3 L551.6,286.5 L553.2,288.8 L555.4,290.6 L557.3,292.7 L559.1,294.7 L560.6,297.0 L562.5,299.0 L564.4,300.7 L566.3,302.5 L567.7,304.5 L569.5,306.1 L570.4,308.2 L571.6,310.0 L573.2,311.2 L574.7,312.3 L575.6,313.7 L576.4,315.1 L577.0,316.5 L577.6,317.8 L578.8,318.6 L579.1,320.0 L580.0,320.9 L580.9,321.8 L581.6,322.8 L582.2,324.1 L582.6,325.4 L583.7,326.4 L584.1,327.8 L585.1,329.0 L586.1,330.3 L586.5,331.9 L587.1,333.5 L588.6,334.6 L588.8,336.2 L589.5,337.6 L589.6,339.3 L590.1,340.6 L591.3,341.4 L591.2,342.8 L591.8,343.7 L592.8,344.1 L597.2,341.9 L597.5,340.9 L597.2,339.9 L596.1,339.2 L596.3,337.7 L595.6,336.4 L594.4,335.3 L593.7,333.9 L592.5,332.6 L592.6,330.7 L591.6,329.3 L590.5,328.0 L589.9,326.4 L589.4,324.8 L588.3,323.6 L587.9,322.2 L586.9,321.2 L586.1,320.1 L585.5,318.9 L585.0,317.6 L584.4,316.4 L583.2,315.6 L582.8,314.1 L581.7,313.0 L580.6,312.0 L579.3,310.8 L578.1,309.6 L577.3,307.8 L576.4,306.0 L574.8,304.5 L572.9,303.2 L571.6,301.2 L569.9,299.4 L568.4,297.3 L566.9,295.1 L565.1,293.0 L562.9,291.2 L561.0,289.2 L559.0,287.1 L557.2,284.9 L554.7,283.3 L553.3,280.5 L551.3,278.4 L548.3,277.5 L546.1,275.5 L543.7,273.6 L541.3,271.7 L538.8,269.9 L537.0,267.1 L534.2,265.6 L531.6,263.8 L529.2,261.9 L526.4,260.4 L523.8,258.6 L521.1,257.2 L519.3,254.5 L516.6,253.2 L513.7,252.4 L511.8,249.9 L509.2,248.4 L506.8,246.8 L504.2,245.6 L501.3,245.0 L499.2,242.8 L496.5,241.9 L493.9,241.0 L491.5,239.6 L489.4,237.8 L486.9,237.0 L484.8,235.3 L482.2,234.8 L480.0,233.5 L478.1,232.1 L476.2,230.5 L473.8,230.0 L471.9,228.8 L470.0,227.6 L467.8,226.9 L465.7,226.0 L464.1,224.3 L461.6,224.2 L459.9,222.4 L457.9,221.0 L455.7,220.0 L453.4,218.9 L450.9,218.2 L448.6,216.8 L445.6,216.9 L443.5,214.9 L440.6,214.5 L438.2,213.1 L435.3,212.7 L432.7,211.5 L430.1,210.4 L427.4,209.5 L424.8,208.3 L422.1,207.3 L419.5,206.3 L416.8,205.7 L413.9,205.7 L411.5,204.1 L408.8,203.5 L406.0,203.7 L403.4,202.5 L400.7,202.2 L398.1,201.8 L395.2,202.7 L392.6,202.1 L390.0,200.8 L387.3,201.2 L384.6,200.9 L381.9,200.6 L379.3,200.4 L376.6,200.3 L374.0,199.3 L371.2,199.8 L368.5,199.8 L365.9,199.3 L363.2,198.5 L360.5,198.5 L357.8,198.2 L355.1,198.8 L352.4,198.8 L349.7,197.8 L347.0,197.8 L344.3,198.6 L341.6,198.2 L338.9,198.7 L336.1,198.6 L333.2,198.4 L330.4,197.9 L327.5,198.3 L324.7,198.9 L321.8,199.2 L319.0,198.4 L316.2,199.2 L313.5,198.8 L310.9,199.7 L308.4,200.0 L306.0,200.5 L303.7,199.9 L301.5,200.6 L299.5,201.2 L297.6,201.4 L295.6,200.9 L294.0,202.1 L292.3,202.3 L290.5,202.1 L288.9,202.7 L287.5,203.8 L285.7,203.2 L284.3,204.1 L282.7,204.7 L280.9,204.7 L279.3,205.5 L277.6,206.0 L275.9,206.4 L274.2,207.0 L272.4,207.1 L270.7,207.8 L269.1,208.6 L267.1,208.2 L265.5,209.2 L264.0,210.6 L262.3,211.3 L260.1,211.0 L258.3,211.7 L256.5,212.9 L254.4,213.2 L252.4,214.2 L250.2,214.7 L248.3,216.2 L245.8,216.3 L243.6,217.1 L241.5,218.8 L238.9,218.9 L236.6,220.1 L234.4,221.5 L231.8,221.9 L229.4,222.9 L226.8,223.5 L224.8,225.5 L222.5,226.7 L219.8,227.5 L217.7,229.2 L215.2,230.5 L212.6,231.6 L210.4,233.5 L208.1,235.1 L205.7,236.7 L203.3,238.3 L201.1,240.0 L198.9,241.7 L196.7,243.3 L194.2,244.4 L192.1,245.8 L190.5,247.8 L188.2,248.7 L186.8,250.8 L184.9,252.0 L182.9,252.9 L181.2,254.3 L179.7,255.7 L178.1,257.1 L176.1,257.9 L174.8,259.6 L173.1,260.6 L171.1,261.4 L169.8,263.0 L167.9,264.0 L166.4,265.4 L165.1,267.1 L163.4,268.2 L162.2,270.0 L160.4,270.9 L159.2,272.6 L157.3,273.5 Z"/><path d="M598.4,287.8 L598.4,288.9 L598.1,290.2 L598.1,291.8 L597.9,293.5 L597.6,295.4 L597.1,297.4 L597.0,299.5 L596.8,301.7 L596.8,304.0 L596.4,306.2 L596.3,308.4 L596.1,310.6 L595.9,312.8 L595.7,314.8 L595.1,316.8 L594.9,318.9 L594.6,321.2 L594.4,323.5 L594.4,325.8 L594.1,328.1 L593.6,330.4 L593.3,332.6 L593.0,334.7 L592.7,336.7 L592.9,338.6 L592.5,340.2 L592.3,341.5 L592.2,342.7 L597.8,343.3 L598.0,342.2 L598.1,340.8 L598.0,339.1 L598.6,337.3 L598.8,335.3 L598.9,333.2 L599.1,331.0 L599.1,328.7 L599.3,326.3 L599.8,324.0 L600.0,321.7 L600.3,319.5 L600.5,317.3 L600.3,315.2 L600.5,313.2 L600.7,311.1 L600.9,308.9 L601.2,306.7 L601.3,304.4 L601.7,302.2 L601.9,300.0 L602.1,297.9 L602.0,295.8 L602.0,293.9 L602.2,292.2 L602.4,290.6 L602.4,289.3 L602.6,288.2 Z"/><path d="M545.0,330.8 L546.0,330.8 L547.1,330.8 L548.4,330.7 L549.9,330.6 L551.5,330.6 L553.1,330.1 L554.9,330.3 L556.7,330.6 L558.6,330.5 L560.4,330.9 L562.3,330.5 L564.1,331.1 L565.9,331.3 L567.5,332.1 L569.1,332.8 L571.2,333.0 L573.2,334.2 L575.2,335.3 L577.0,337.2 L579.3,338.1 L581.9,338.5 L583.6,340.4 L586.1,340.8 L587.7,342.4 L589.9,342.8 L591.5,343.5 L592.4,345.3 L593.9,345.1 L596.1,340.9 L595.4,339.5 L593.5,339.9 L592.0,338.9 L590.5,337.3 L588.3,336.8 L586.6,334.9 L584.0,334.5 L582.1,332.6 L579.9,331.3 L577.2,331.0 L574.9,330.2 L572.5,329.6 L570.6,328.3 L568.5,327.9 L566.5,327.9 L564.5,327.5 L562.5,327.8 L560.5,327.2 L558.5,327.6 L556.6,327.6 L554.7,328.1 L553.0,328.6 L551.3,328.4 L549.7,328.7 L548.2,328.8 L547.0,329.0 L545.9,329.1 L545.0,329.2 Z"/><path d="M1335.7,498.8 L1335.7,497.9 L1335.4,496.8 L1335.0,495.6 L1334.7,494.2 L1333.0,494.6 L1333.4,496.0 L1333.6,497.3 L1333.8,498.4 L1334.3,499.2 Z M1333.5,489.4 L1333.1,487.6 L1331.3,488.1 L1331.8,489.8 Z M1331.7,482.2 L1330.9,480.5 L1330.5,478.8 L1329.1,479.2 L1329.7,480.9 L1329.8,482.7 Z M1329.6,475.4 L1329.0,473.8 L1328.6,472.1 L1327.9,470.6 L1326.6,471.0 L1327.0,472.7 L1327.6,474.3 L1328.0,475.9 Z M1326.6,465.4 L1325.9,463.8 L1325.1,462.1 L1324.8,460.3 L1323.0,461.0 L1323.8,462.6 L1324.2,464.3 L1324.6,466.1 Z M1322.8,455.2 L1322.1,453.4 L1321.6,451.6 L1320.9,449.9 L1319.4,450.4 L1319.9,452.2 L1320.7,454.0 L1321.3,455.7 Z M1319.6,446.2 L1319.3,444.3 L1318.6,442.5 L1317.6,440.7 L1317.3,438.7 L1315.1,439.5 L1316.2,441.2 L1316.5,443.2 L1317.1,445.1 L1318.1,446.8 Z M1315.5,435.1 L1314.9,433.2 L1314.4,431.2 L1313.5,429.4 L1312.5,427.6 L1311.7,425.7 L1309.8,426.6 L1310.7,428.4 L1311.4,430.3 L1312.0,432.2 L1313.1,433.9 L1314.0,435.7 Z M1310.9,423.9 L1309.9,422.1 L1309.5,420.1 L1308.1,418.5 L1307.3,416.6 L1306.6,414.7 L1304.1,416.0 L1305.2,417.7 L1306.4,419.4 L1306.8,421.4 L1308.2,423.0 L1308.9,424.8 Z M1304.4,411.1 L1303.7,409.1 L1302.2,407.5 L1301.6,405.4 L1298.7,407.1 L1300.2,408.7 L1300.9,410.7 L1302.3,412.4 Z M1300.4,403.5 L1299.1,401.7 L1298.0,399.6 L1296.5,397.9 L1295.4,395.7 L1292.5,397.7 L1294.1,399.4 L1295.1,401.5 L1296.5,403.3 L1297.6,405.3 Z M1293.6,393.5 L1292.7,392.3 L1290.2,394.0 L1291.1,395.2 Z M1292.6,391.7 L1291.0,389.7 L1289.5,387.7 L1288.2,385.6 L1286.6,383.7 L1284.9,381.9 L1283.9,379.5 L1282.1,377.8 L1280.8,375.8 L1279.6,373.8 L1277.8,372.3 L1276.4,370.6 L1275.2,368.8 L1274.2,366.8 L1272.8,365.2 L1271.4,363.6 L1270.3,361.8 L1269.3,359.8 L1267.5,358.6 L1266.2,356.8 L1265.1,354.7 L1263.3,353.1 L1261.4,351.6 L1259.9,349.6 L1258.1,347.7 L1256.0,346.0 L1254.2,343.8 L1252.2,341.9 L1250.5,339.5 L1248.0,337.8 L1246.1,335.5 L1244.2,333.2 L1241.9,331.2 L1239.3,329.6 L1237.2,327.4 L1234.7,325.7 L1232.5,323.7 L1230.3,321.8 L1228.1,319.6 L1225.8,317.6 L1222.8,316.4 L1220.1,314.8 L1217.8,312.6 L1214.9,311.2 L1212.3,309.4 L1210.3,307.0 L1207.3,306.0 L1205.2,303.7 L1202.6,302.5 L1200.8,300.4 L1198.6,299.1 L1196.1,298.5 L1194.3,297.1 L1193.2,295.2 L1191.5,294.5 L1190.0,293.7 L1189.0,292.5 L1187.8,291.6 L1186.4,291.1 L1185.2,290.3 L1183.8,289.8 L1182.7,288.7 L1181.2,287.9 L1180.0,286.4 L1178.3,285.3 L1176.1,284.4 L1174.5,282.5 L1171.9,281.4 L1169.6,279.7 L1167.6,277.4 L1165.0,275.7 L1162.8,273.4 L1160.0,271.7 L1157.3,269.6 L1154.3,268.2 L1152.0,265.6 L1148.8,264.5 L1146.5,262.2 L1144.1,260.1 L1141.5,258.5 L1139.0,257.0 L1136.2,256.0 L1133.8,254.4 L1131.3,252.9 L1128.4,252.3 L1126.4,250.2 L1123.8,249.0 L1121.1,248.3 L1118.7,246.7 L1116.0,245.9 L1113.4,244.9 L1111.1,243.3 L1108.3,242.9 L1106.1,241.0 L1103.7,239.7 L1100.8,239.3 L1098.5,237.5 L1095.5,237.3 L1093.3,235.4 L1090.4,235.0 L1088.1,233.2 L1085.2,232.7 L1082.9,231.2 L1079.9,231.2 L1077.3,230.2 L1075.0,228.5 L1072.4,227.8 L1069.7,227.1 L1067.0,226.8 L1064.5,225.9 L1062.0,224.9 L1059.4,224.6 L1057.2,222.8 L1054.6,222.5 L1052.1,221.6 L1049.6,221.3 L1047.0,221.1 L1044.4,220.9 L1042.1,219.6 L1039.4,219.7 L1037.0,218.7 L1034.5,218.3 L1032.0,217.7 L1029.4,217.7 L1026.9,217.2 L1024.5,216.2 L1021.9,216.2 L1019.5,215.2 L1016.9,215.2 L1014.4,214.6 L1011.8,214.3 L1009.4,213.5 L1006.8,213.4 L1004.2,213.3 L1001.7,213.1 L999.1,212.5 L996.6,212.0 L994.0,212.5 L991.4,212.8 L988.9,212.6 L986.3,212.7 L983.7,212.4 L981.1,212.2 L978.6,212.7 L976.0,213.3 L973.4,213.4 L970.8,213.6 L968.3,213.9 L965.7,214.3 L963.0,214.0 L960.5,215.1 L957.9,215.4 L955.2,215.9 L952.6,216.6 L949.9,217.1 L947.4,218.3 L944.7,218.7 L941.9,219.2 L939.6,220.9 L936.9,221.3 L934.4,222.5 L932.1,223.8 L929.6,224.9 L926.9,225.1 L924.7,227.0 L921.9,227.8 L919.7,229.9 L917.0,231.2 L914.6,233.1 L911.8,234.3 L909.2,235.7 L907.3,237.9 L904.8,239.1 L902.5,240.3 L901.1,242.2 L899.3,243.2 L897.7,244.0 L896.4,244.6 L899.6,249.4 L900.7,248.4 L902.0,247.1 L903.6,245.7 L905.9,245.0 L907.7,243.2 L909.7,241.3 L912.3,240.2 L914.6,238.3 L916.7,236.2 L919.3,235.0 L921.6,233.2 L924.5,232.4 L926.5,230.5 L929.1,230.1 L931.1,228.2 L933.5,227.3 L936.0,226.7 L938.6,226.1 L940.9,224.7 L943.7,224.8 L946.1,223.7 L948.6,222.6 L951.3,222.5 L953.8,221.6 L956.4,221.1 L958.9,220.5 L961.4,219.9 L964.0,220.0 L966.4,218.8 L968.9,218.5 L971.4,218.1 L973.9,217.8 L976.4,217.4 L978.9,217.6 L981.4,217.7 L983.9,217.4 L986.4,216.9 L988.9,216.9 L991.4,216.8 L993.9,217.1 L996.4,217.8 L998.9,217.5 L1001.4,217.2 L1003.8,217.4 L1006.3,217.9 L1008.7,218.4 L1011.2,218.3 L1013.7,218.8 L1016.2,219.1 L1018.6,220.0 L1021.2,219.9 L1023.5,220.9 L1026.1,220.9 L1028.6,221.4 L1031.0,222.4 L1033.5,222.9 L1036.0,223.5 L1038.6,223.5 L1040.9,224.8 L1043.6,224.6 L1046.0,225.4 L1048.3,226.4 L1050.7,227.3 L1053.3,227.7 L1055.7,228.6 L1058.4,228.2 L1060.8,229.3 L1063.4,229.8 L1065.9,230.4 L1068.3,231.7 L1070.7,232.7 L1073.2,233.7 L1076.0,233.8 L1078.6,234.7 L1080.8,236.6 L1083.6,237.1 L1085.9,238.7 L1088.8,238.9 L1091.1,240.6 L1094.0,240.8 L1096.2,242.9 L1099.0,243.2 L1101.3,245.1 L1103.9,246.0 L1106.8,246.3 L1109.0,248.2 L1111.7,248.8 L1114.1,250.2 L1116.4,251.7 L1119.1,252.5 L1121.3,254.2 L1123.7,255.4 L1126.6,255.8 L1128.7,257.8 L1131.3,259.0 L1133.9,260.1 L1136.1,262.0 L1138.5,263.5 L1141.0,265.0 L1143.7,266.4 L1146.7,267.6 L1148.8,270.2 L1152.0,271.4 L1154.2,273.9 L1156.9,275.8 L1159.3,278.0 L1162.2,279.5 L1164.5,281.5 L1167.3,282.8 L1169.6,284.5 L1171.5,286.6 L1173.9,287.6 L1175.4,289.4 L1177.1,290.6 L1178.9,291.2 L1180.1,292.4 L1181.6,293.0 L1182.5,294.2 L1183.7,295.0 L1184.7,296.2 L1185.9,297.0 L1187.4,297.5 L1188.6,298.6 L1189.9,300.0 L1192.0,300.4 L1193.9,301.5 L1195.4,303.7 L1197.5,305.3 L1200.2,306.2 L1202.3,308.1 L1205.2,309.2 L1207.2,311.5 L1210.3,312.5 L1212.8,314.3 L1215.1,316.4 L1218.0,317.8 L1220.3,319.8 L1222.3,322.3 L1224.8,323.9 L1227.3,325.4 L1229.6,327.2 L1232.0,329.0 L1234.0,331.1 L1236.4,332.9 L1238.2,335.3 L1240.4,337.3 L1242.8,339.0 L1245.2,340.8 L1247.0,343.1 L1249.4,344.7 L1251.4,346.7 L1253.5,348.5 L1255.1,350.6 L1256.9,352.4 L1258.8,354.1 L1260.1,356.0 L1261.4,357.9 L1263.3,359.2 L1264.8,360.8 L1265.6,362.8 L1267.3,364.2 L1268.8,365.7 L1270.0,367.4 L1271.1,369.2 L1272.8,370.6 L1274.2,372.3 L1275.4,374.1 L1276.4,376.2 L1278.0,377.9 L1279.7,379.7 L1280.8,381.9 L1282.8,383.5 L1284.0,385.6 L1285.3,387.7 L1287.0,389.6 L1288.4,391.6 L1289.7,393.7 Z"/><path d="M923.2,187.6 L922.7,188.8 L921.8,190.0 L921.3,191.7 L920.1,193.4 L919.2,195.3 L918.3,197.4 L916.8,199.4 L916.0,201.7 L914.4,203.8 L913.5,206.2 L912.3,208.5 L910.7,210.6 L909.1,212.6 L909.0,215.1 L907.9,217.3 L906.3,219.4 L904.9,221.7 L904.3,224.4 L903.4,227.1 L901.6,229.4 L901.7,232.4 L899.7,234.5 L899.4,237.2 L898.7,239.5 L897.9,241.5 L896.9,243.2 L895.6,244.5 L895.9,246.1 L900.1,247.9 L901.5,247.0 L901.5,245.1 L902.0,243.2 L902.9,241.2 L904.0,239.0 L905.7,237.0 L905.7,234.1 L907.9,232.0 L908.2,229.1 L909.5,226.7 L911.1,224.3 L911.7,221.7 L912.2,219.1 L913.0,216.9 L914.8,215.1 L915.2,212.6 L915.8,210.1 L916.7,207.7 L918.0,205.5 L918.5,202.9 L919.8,200.8 L920.4,198.4 L921.4,196.3 L922.3,194.4 L922.9,192.5 L923.8,191.0 L924.2,189.5 L924.8,188.4 Z"/><path d="M945.8,257.6 L945.1,256.6 L943.8,255.7 L942.7,254.2 L941.1,252.9 L939.6,251.2 L938.2,249.2 L936.2,247.6 L934.5,245.6 L932.5,244.0 L930.6,242.3 L928.6,240.8 L926.6,239.6 L924.7,238.3 L922.6,237.9 L920.5,237.4 L918.3,237.5 L916.2,237.6 L914.0,237.9 L911.7,238.3 L909.7,239.2 L907.7,240.1 L905.7,240.8 L903.6,241.3 L902.1,242.5 L900.4,243.0 L899.1,243.7 L897.9,244.0 L897.1,244.5 L898.9,249.5 L900.0,249.3 L901.3,248.6 L902.8,248.0 L904.2,247.0 L906.1,246.6 L907.7,245.4 L909.5,244.5 L911.4,243.9 L913.4,243.5 L915.1,242.7 L916.9,242.2 L918.6,241.9 L920.1,242.0 L921.4,242.1 L922.7,242.9 L924.4,243.4 L926.0,244.6 L927.8,245.9 L929.6,247.3 L931.4,249.0 L933.3,250.5 L934.8,252.5 L936.7,253.9 L938.4,255.5 L939.6,257.2 L941.1,258.4 L942.1,259.8 L943.2,260.4 Z"/><path d="M1320.4,492.7 L1319.6,491.3 L1319.2,489.5 L1317.7,489.9 L1318.4,491.7 L1318.6,493.3 Z M1317.8,484.9 L1316.9,482.3 L1315.7,482.7 L1316.3,485.4 Z M1315.3,476.5 L1314.5,473.5 L1312.7,474.1 L1313.8,477.0 Z M1312.2,467.7 L1311.4,464.8 L1309.8,465.3 L1311.0,468.1 Z M1309.2,459.6 L1308.4,457.2 L1307.6,455.1 L1305.7,456.0 L1306.8,458.0 L1308.0,460.1 Z M1305.2,451.4 L1304.1,449.6 L1303.1,447.9 L1301.8,448.7 L1302.9,450.4 L1303.9,452.2 Z M1301.0,444.5 L1299.7,443.1 L1298.6,441.5 L1297.6,439.8 L1296.6,438.1 L1294.6,439.6 L1296.0,441.0 L1297.4,442.4 L1298.5,444.0 L1299.5,445.7 Z M1294.0,435.1 L1292.7,433.4 L1291.5,431.6 L1290.0,430.1 L1288.9,428.2 L1287.1,429.6 L1288.6,431.1 L1289.7,433.0 L1291.1,434.6 L1292.4,436.3 Z M1286.0,424.8 L1284.8,422.9 L1283.6,421.0 L1281.3,422.9 L1282.9,424.5 L1284.5,426.0 Z M1280.3,417.9 L1279.1,416.0 L1277.6,414.2 L1275.9,412.7 L1274.4,410.9 L1272.7,412.5 L1274.3,414.1 L1275.6,416.0 L1277.1,417.7 L1278.8,419.2 Z M1273.3,408.8 L1271.7,407.1 L1269.7,405.8 L1268.5,403.8 L1267.0,402.0 L1264.4,404.5 L1266.1,406.0 L1268.0,407.4 L1269.2,409.5 L1270.7,411.2 Z M1265.1,400.7 L1263.7,398.8 L1261.3,401.0 L1263.2,402.5 Z M1261.7,397.4 L1260.2,395.5 L1258.7,393.6 L1256.9,392.0 L1255.3,390.2 L1253.1,388.9 L1251.4,387.1 L1249.8,385.1 L1247.8,383.7 L1245.7,382.1 L1243.7,380.4 L1241.9,378.3 L1239.6,376.9 L1237.1,375.7 L1235.4,373.4 L1233.0,372.2 L1230.9,370.5 L1228.5,369.1 L1226.5,367.4 L1224.3,366.0 L1222.0,364.9 L1220.1,363.1 L1217.8,362.3 L1216.1,360.5 L1213.7,360.2 L1212.1,358.5 L1210.1,357.6 L1208.0,357.0 L1206.1,356.0 L1203.9,355.6 L1202.1,354.3 L1199.9,353.8 L1197.7,353.1 L1195.8,351.4 L1193.3,351.0 L1190.9,350.0 L1188.6,348.3 L1185.7,347.6 L1183.0,345.9 L1179.9,345.1 L1177.2,343.0 L1173.9,342.2 L1170.7,340.9 L1168.1,338.5 L1164.7,338.0 L1162.1,335.8 L1159.2,334.5 L1156.1,333.7 L1153.2,333.3 L1150.6,332.2 L1148.3,331.2 L1146.1,330.3 L1144.1,329.4 L1142.1,328.4 L1139.9,328.6 L1138.0,328.3 L1136.2,327.4 L1134.3,327.5 L1132.4,327.2 L1130.6,326.3 L1128.8,325.8 L1126.6,326.1 L1124.7,325.2 L1122.6,324.4 L1120.3,323.8 L1117.9,323.7 L1115.6,322.6 L1112.9,322.9 L1110.6,321.7 L1108.1,321.1 L1105.5,320.4 L1102.9,320.3 L1100.2,320.2 L1097.6,319.7 L1095.1,318.6 L1092.5,318.5 L1090.0,317.4 L1087.4,317.5 L1085.1,316.2 L1082.4,316.3 L1079.9,316.0 L1077.4,315.3 L1075.0,314.4 L1072.5,313.8 L1070.0,313.4 L1067.4,313.2 L1065.0,312.3 L1062.6,311.3 L1060.0,311.3 L1057.5,310.3 L1054.8,311.0 L1052.4,309.4 L1049.9,309.2 L1047.3,309.2 L1044.7,308.9 L1042.2,308.6 L1039.7,307.8 L1037.0,308.6 L1034.5,307.6 L1032.0,307.5 L1029.4,307.5 L1026.9,306.8 L1024.3,306.6 L1021.7,307.2 L1019.2,306.3 L1016.6,306.5 L1014.1,306.3 L1011.5,306.0 L1008.9,306.6 L1006.4,305.9 L1003.8,306.1 L1001.3,305.5 L998.7,306.3 L996.2,305.6 L993.6,305.7 L991.1,305.9 L988.5,305.6 L986.0,306.7 L983.4,306.2 L980.9,306.3 L978.3,306.3 L975.8,306.8 L973.3,307.4 L970.8,307.4 L968.3,307.2 L965.8,307.9 L963.3,308.3 L960.8,308.2 L958.2,308.4 L955.7,308.6 L953.3,309.5 L950.6,309.0 L948.2,309.9 L945.6,309.7 L943.2,311.0 L940.5,310.2 L938.1,311.0 L935.5,311.0 L932.9,311.4 L930.4,312.0 L928.0,313.3 L925.4,313.4 L922.9,314.1 L920.1,314.0 L917.7,315.3 L915.1,315.9 L912.6,316.8 L910.0,317.5 L907.1,317.5 L904.5,318.3 L902.1,319.9 L899.2,320.5 L896.7,321.8 L894.0,322.9 L891.4,324.1 L888.6,325.0 L886.2,326.6 L883.6,327.9 L880.9,328.9 L878.7,330.5 L876.1,331.6 L873.4,332.5 L871.7,335.0 L869.3,336.6 L866.5,337.7 L864.7,340.3 L862.2,342.0 L859.5,343.4 L857.6,345.6 L855.8,347.9 L854.0,349.8 L852.0,351.3 L850.4,352.9 L848.5,353.8 L847.1,354.8 L846.2,355.9 L849.8,360.1 L851.1,359.2 L852.3,357.9 L853.3,356.0 L855.0,354.4 L856.6,352.5 L858.6,350.9 L861.0,349.3 L863.3,347.7 L865.0,345.2 L867.1,343.1 L869.9,342.0 L871.6,339.6 L873.8,338.0 L876.6,337.5 L878.4,335.6 L880.6,334.1 L883.2,333.2 L885.5,331.6 L888.0,330.4 L890.7,329.7 L893.2,328.3 L895.8,327.3 L898.4,326.2 L901.1,325.5 L903.6,324.2 L906.4,323.9 L909.0,323.0 L911.2,321.3 L913.7,320.5 L916.2,319.9 L918.7,319.2 L921.3,319.3 L923.7,318.2 L926.2,317.8 L928.7,317.0 L931.3,317.5 L933.9,317.2 L936.4,316.8 L938.8,316.0 L941.4,316.1 L943.7,314.6 L946.4,315.1 L948.8,314.2 L951.4,314.4 L953.8,313.2 L956.3,313.4 L958.8,313.1 L961.2,312.6 L963.7,312.0 L966.2,311.9 L968.7,312.2 L971.1,311.5 L973.6,311.1 L976.1,311.4 L978.6,311.5 L981.1,311.3 L983.6,311.2 L986.1,310.4 L988.7,311.3 L991.2,311.0 L993.7,311.1 L996.2,311.1 L998.7,310.4 L1001.2,311.2 L1003.8,310.6 L1006.3,311.0 L1008.8,310.4 L1011.3,311.1 L1013.9,311.1 L1016.4,311.1 L1018.9,311.6 L1021.4,311.0 L1023.9,311.9 L1026.4,312.1 L1029.0,311.8 L1031.5,312.4 L1034.0,312.7 L1036.6,312.3 L1039.0,313.6 L1041.6,313.4 L1044.1,313.7 L1046.6,314.1 L1049.1,314.9 L1051.6,315.4 L1054.2,314.6 L1056.5,316.1 L1059.1,316.1 L1061.5,317.0 L1064.1,317.0 L1066.6,317.1 L1069.1,317.9 L1071.5,318.6 L1074.0,319.0 L1076.6,319.2 L1079.1,319.6 L1081.6,320.4 L1083.9,321.5 L1086.6,321.3 L1089.0,322.4 L1091.6,322.4 L1094.1,323.4 L1096.8,323.4 L1099.4,324.0 L1101.9,325.0 L1104.3,326.0 L1106.9,326.4 L1109.4,326.9 L1112.1,326.8 L1114.3,328.2 L1116.9,328.1 L1119.1,329.1 L1121.4,329.6 L1123.7,329.8 L1125.9,329.8 L1127.7,330.9 L1129.7,331.1 L1131.7,331.0 L1133.5,331.4 L1135.2,332.3 L1137.1,332.2 L1138.9,332.9 L1140.6,334.1 L1142.6,334.2 L1144.7,334.6 L1147.0,335.1 L1149.4,335.8 L1151.8,336.6 L1154.2,338.4 L1156.8,340.0 L1159.7,341.2 L1163.0,341.7 L1165.6,343.9 L1169.2,344.3 L1172.1,346.0 L1174.8,348.0 L1178.2,348.7 L1180.8,350.6 L1183.8,351.6 L1186.3,353.4 L1189.1,354.0 L1191.5,355.1 L1193.6,356.7 L1196.2,356.8 L1198.3,357.9 L1200.2,359.0 L1202.4,359.3 L1204.2,360.6 L1206.2,361.1 L1208.0,362.3 L1209.9,363.1 L1212.2,363.2 L1213.8,364.9 L1216.1,365.3 L1217.9,366.9 L1220.2,367.7 L1222.2,369.2 L1224.3,370.7 L1226.6,371.9 L1228.6,373.6 L1230.9,375.1 L1232.8,377.0 L1235.4,378.0 L1237.2,380.0 L1239.1,381.9 L1241.5,383.1 L1243.5,384.8 L1245.4,386.5 L1247.2,388.3 L1249.3,389.5 L1251.3,390.9 L1252.7,393.0 L1254.6,394.5 L1256.3,396.1 L1258.1,397.6 L1260.0,399.1 Z"/><path d="M865.0,301.7 L864.7,302.8 L864.2,304.2 L863.8,305.9 L862.8,307.5 L862.0,309.5 L861.2,311.5 L860.7,313.8 L859.5,315.9 L858.7,318.3 L857.9,320.6 L856.2,322.6 L855.2,324.7 L855.7,327.3 L853.9,329.0 L853.6,331.2 L853.2,333.5 L852.6,335.8 L851.3,337.9 L850.9,340.3 L849.8,342.5 L849.1,344.8 L849.1,347.3 L847.6,349.1 L846.7,351.0 L846.1,352.8 L846.0,354.6 L846.3,356.2 L846.0,357.4 L850.0,358.6 L850.4,357.5 L851.6,356.4 L852.6,354.9 L853.2,353.1 L853.5,351.0 L853.4,348.6 L854.8,346.7 L855.5,344.4 L856.0,342.0 L857.0,339.7 L857.2,337.3 L858.1,335.0 L859.1,333.0 L860.1,331.0 L859.7,328.6 L861.5,326.8 L862.0,324.4 L861.8,321.8 L862.4,319.5 L863.2,317.1 L863.4,314.7 L864.3,312.5 L864.9,310.4 L865.4,308.4 L865.6,306.4 L866.2,304.9 L866.6,303.4 L867.0,302.3 Z"/><path d="M897.5,365.8 L896.5,365.3 L895.4,364.5 L893.9,363.9 L892.4,362.9 L890.7,361.9 L888.7,361.0 L886.8,359.7 L884.8,358.6 L882.8,357.5 L880.6,356.7 L878.5,355.7 L876.4,355.0 L874.5,354.0 L872.5,353.6 L870.5,353.5 L868.4,352.9 L866.4,352.9 L864.3,353.1 L862.2,353.2 L860.1,353.6 L858.1,354.0 L856.2,354.0 L854.4,354.5 L852.6,354.7 L851.1,354.9 L849.8,355.3 L848.6,355.2 L847.7,355.3 L848.3,360.7 L849.3,360.6 L850.6,360.1 L852.0,360.0 L853.5,359.6 L855.2,359.3 L857.0,359.2 L858.8,358.6 L860.7,358.4 L862.6,358.4 L864.5,358.2 L866.4,358.3 L868.2,358.3 L870.0,357.9 L871.5,358.4 L873.1,358.9 L875.0,359.1 L876.8,359.9 L878.8,360.6 L880.7,361.8 L882.8,362.7 L884.8,363.6 L886.8,364.5 L888.6,365.6 L890.3,366.6 L891.9,367.4 L893.3,368.4 L894.7,368.9 L895.7,369.4 Z"/><path d="M621.6,827.7 L622.0,825.9 L620.5,825.6 L620.4,827.5 Z M622.9,820.0 L623.3,817.0 L621.7,816.7 L621.3,819.8 Z M623.7,814.3 L624.4,809.4 L622.8,809.2 L622.1,814.1 Z M625.1,803.6 L625.8,799.8 L624.2,799.6 L623.7,803.4 Z M626.5,796.1 L626.9,792.4 L625.4,792.2 L624.6,795.8 Z M628.4,785.7 L628.8,782.7 L627.2,782.3 L626.3,785.3 Z M630.1,777.3 L631.1,774.8 L631.6,772.3 L632.3,769.9 L630.1,769.3 L629.5,771.8 L628.6,774.2 L628.4,776.8 Z M633.1,767.6 L633.7,765.3 L634.4,763.0 L635.0,760.6 L636.2,758.4 L633.4,757.5 L633.1,760.0 L632.1,762.3 L631.4,764.6 L630.7,766.9 Z M637.1,756.0 L638.0,753.6 L638.6,750.9 L639.3,748.2 L640.2,745.4 L637.5,744.6 L636.7,747.4 L635.7,750.0 L634.7,752.5 L633.9,755.0 Z M641.3,742.5 L641.4,742.1 L638.4,741.2 L638.3,741.5 Z M642.4,739.8 L643.4,736.8 L643.9,733.7 L645.0,730.7 L646.2,727.6 L647.4,724.6 L648.7,721.6 L649.5,718.5 L650.2,715.3 L652.0,712.6 L652.8,709.6 L654.0,706.8 L654.8,703.8 L656.2,701.1 L657.3,698.4 L658.9,695.8 L659.4,692.8 L661.1,690.2 L661.9,687.4 L663.7,685.0 L664.2,682.0 L665.7,679.5 L667.1,676.9 L668.7,674.4 L669.4,671.5 L671.2,669.1 L672.2,666.4 L673.7,663.9 L675.3,661.5 L677.3,659.3 L678.2,656.5 L680.2,654.3 L680.8,651.4 L683.1,649.4 L684.0,646.6 L685.4,644.0 L687.6,641.9 L689.3,639.6 L690.0,636.5 L691.8,634.2 L694.0,632.1 L695.2,629.2 L696.8,626.6 L698.3,623.9 L700.1,621.3 L702.5,619.2 L704.6,616.9 L706.4,614.4 L707.7,611.5 L709.0,608.7 L711.1,606.6 L713.3,604.7 L715.1,602.5 L716.7,600.2 L718.0,597.9 L720.0,596.2 L721.6,594.3 L723.4,592.6 L724.8,590.5 L727.1,589.4 L728.7,587.7 L729.8,585.4 L731.6,583.9 L733.8,582.8 L735.1,580.7 L737.4,579.6 L738.9,577.6 L740.9,576.0 L742.8,574.3 L744.2,572.1 L746.2,570.4 L748.2,568.5 L750.5,567.2 L752.5,565.4 L754.0,563.1 L756.6,562.1 L758.3,559.9 L760.1,558.0 L762.3,556.6 L764.7,555.5 L766.3,553.5 L768.3,552.1 L770.5,551.0 L772.4,549.6 L774.1,548.0 L775.8,546.3 L777.8,545.2 L779.9,544.3 L781.7,542.9 L783.4,541.5 L785.1,540.1 L787.1,539.0 L789.2,538.2 L791.1,536.9 L792.8,535.3 L795.3,535.0 L797.5,534.1 L799.6,533.0 L801.9,532.0 L804.2,531.0 L806.3,529.6 L808.7,528.9 L810.9,527.5 L813.1,526.3 L815.5,525.7 L817.8,524.9 L820.3,524.8 L822.3,523.9 L824.4,523.0 L826.4,522.6 L828.1,521.5 L830.1,521.6 L831.8,521.4 L833.4,520.8 L835.1,520.4 L836.7,520.4 L838.3,520.1 L839.9,520.4 L841.5,519.7 L843.1,519.5 L844.8,519.7 L846.6,520.0 L848.4,520.0 L850.2,519.7 L852.2,519.9 L854.2,519.0 L856.4,518.4 L858.7,518.8 L861.0,518.6 L863.3,518.1 L865.6,518.5 L867.8,518.0 L869.9,517.7 L871.9,517.7 L873.8,518.3 L875.4,517.1 L876.8,517.4 L878.0,517.2 L877.6,512.8 L876.5,512.8 L875.1,513.3 L873.4,512.2 L871.6,513.1 L869.6,513.4 L867.5,513.4 L865.2,513.1 L863.0,513.9 L860.6,513.7 L858.3,513.8 L856.1,514.6 L853.8,514.3 L851.7,513.8 L849.8,514.3 L847.9,514.3 L846.2,514.6 L844.6,515.1 L842.9,515.5 L841.2,515.6 L839.5,515.0 L837.9,515.6 L836.2,515.6 L834.5,516.0 L832.7,516.1 L830.8,516.0 L829.0,516.6 L827.2,517.5 L825.0,517.4 L822.9,518.1 L820.7,518.6 L818.4,519.1 L816.3,520.6 L814.0,521.4 L811.7,522.6 L809.2,523.2 L806.6,523.6 L804.3,524.9 L801.7,525.5 L799.4,526.6 L797.1,527.8 L794.8,528.7 L792.7,530.0 L791.0,531.9 L788.6,532.4 L786.5,533.4 L784.7,534.9 L782.7,536.1 L780.6,537.1 L778.5,538.1 L776.5,539.3 L774.8,540.9 L773.0,542.4 L770.9,543.4 L768.8,544.6 L766.8,546.1 L765.1,547.9 L763.1,549.5 L760.8,550.7 L759.2,552.8 L757.3,554.7 L755.1,556.2 L752.7,557.5 L751.3,560.0 L748.8,561.3 L746.8,563.1 L745.2,565.3 L743.2,567.1 L741.3,568.9 L739.0,570.2 L737.1,572.0 L735.4,573.9 L733.3,575.1 L732.0,577.4 L729.8,578.5 L728.5,580.7 L726.9,582.4 L724.5,583.4 L722.7,585.1 L721.6,587.5 L719.6,588.9 L718.0,590.9 L716.2,592.8 L714.7,595.0 L712.5,596.8 L710.6,598.8 L708.8,601.1 L707.5,603.8 L706.0,606.5 L703.7,608.6 L701.3,610.7 L699.5,613.3 L698.1,616.1 L696.9,619.1 L695.2,621.8 L693.2,624.2 L691.4,626.7 L689.3,628.9 L688.2,631.8 L686.8,634.4 L684.2,636.3 L682.8,638.9 L681.8,641.7 L680.1,644.1 L678.0,646.2 L677.2,649.2 L674.9,651.2 L673.9,654.0 L671.9,656.2 L671.0,659.1 L669.8,661.8 L668.5,664.4 L666.8,666.9 L665.9,669.7 L664.0,672.1 L663.0,674.9 L661.8,677.6 L660.8,680.4 L658.9,682.8 L658.3,685.8 L656.7,688.3 L656.0,691.3 L654.1,693.8 L653.4,696.7 L652.3,699.6 L651.4,702.5 L650.0,705.2 L649.0,708.2 L647.6,711.0 L647.3,714.3 L645.8,717.2 L644.5,720.2 L643.8,723.4 L643.0,726.6 L642.1,729.7 L641.3,732.8 L639.9,735.7 L639.0,738.7 Z"/><path d="M826.0,487.9 L826.9,488.6 L828.2,489.3 L829.6,490.1 L831.3,490.6 L833.1,491.5 L834.9,492.4 L836.9,493.5 L838.8,494.7 L841.0,495.6 L842.9,496.8 L845.1,497.8 L847.0,498.9 L848.9,500.1 L850.7,501.3 L852.6,502.3 L854.7,503.2 L856.7,504.6 L858.8,505.9 L860.7,507.5 L862.9,508.8 L865.0,510.2 L867.0,511.5 L869.0,512.7 L870.7,514.0 L872.4,515.0 L874.1,515.7 L875.2,516.8 L876.3,517.3 L879.3,512.7 L878.3,511.9 L876.9,511.3 L875.5,510.2 L873.9,509.0 L872.0,508.0 L870.0,506.7 L868.0,505.4 L865.8,504.1 L863.7,502.8 L861.3,501.8 L859.2,500.4 L857.0,499.3 L855.2,497.9 L853.3,496.7 L851.3,495.8 L849.3,494.8 L847.2,493.8 L845.2,492.5 L843.0,491.6 L841.1,490.3 L838.9,489.5 L836.9,488.6 L835.0,487.6 L833.3,486.8 L831.8,485.7 L830.3,485.0 L829.1,484.4 L828.0,484.1 Z"/><path d="M843.5,550.4 L844.3,549.9 L845.2,549.0 L846.3,548.0 L847.2,546.7 L848.5,545.5 L850.0,544.4 L851.5,543.1 L852.8,541.6 L854.6,540.4 L855.9,538.9 L857.8,537.8 L858.7,536.0 L860.2,534.8 L862.2,534.2 L863.0,532.5 L864.3,531.1 L866.2,530.2 L867.5,528.7 L868.6,526.8 L870.4,525.8 L872.0,524.5 L872.9,522.7 L874.7,521.9 L875.5,520.2 L876.8,519.3 L877.6,518.1 L878.7,517.4 L880.1,517.4 L875.5,512.6 L875.5,514.0 L874.7,515.0 L873.5,515.7 L872.5,517.0 L870.7,517.7 L869.8,519.4 L868.0,520.3 L866.6,521.7 L865.5,523.5 L863.6,524.5 L861.9,525.7 L861.0,527.7 L859.6,529.0 L857.8,529.8 L857.2,531.8 L856.0,533.4 L854.2,534.4 L853.2,536.3 L851.8,537.8 L850.7,539.6 L849.3,541.0 L848.1,542.6 L847.1,544.2 L846.0,545.6 L844.7,546.6 L843.9,547.8 L843.0,548.7 L842.5,549.6 Z"/></g>

<g font-family="'Liberation Sans', sans-serif" font-weight="bold" fill="#0a0a0a" stroke="#0a0a0a" stroke-width="0.6" letter-spacing="4.5">
  <text transform="translate(7.61,421) scale(0.6934,1)" font-size="56">Crinkle</text>
  <text transform="translate(1204.3,563) scale(0.7032,1)" font-size="55">Squeakers</text>
  <text transform="translate(355.82,882) scale(0.7264,1)" font-size="54">Multi-Parts</text>
  <text transform="translate(607.29,882) scale(0.71,1)" font-size="54">and</text>
  <text transform="translate(697.34,882) scale(0.7198,1)" font-size="54">Detachable</text>
</g>
<circle cx="1482" cy="926" r="50" fill="#f4f4f4" filter="url(#blur3)"/><circle cx="1482" cy="926" r="47.5" fill="#ebebeb" filter="url(#soft)"/>
</svg>
</body>
</html>
